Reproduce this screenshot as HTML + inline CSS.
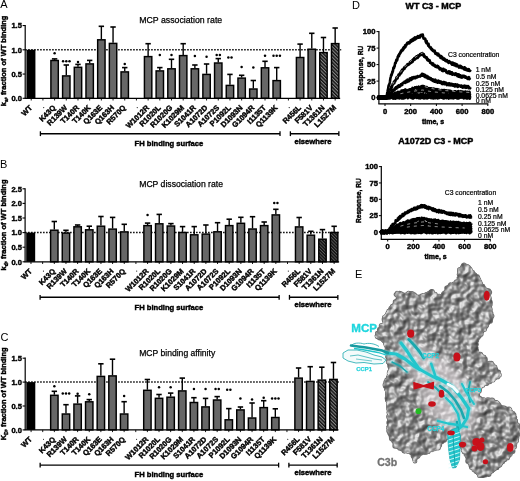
<!DOCTYPE html>
<html><head><meta charset="utf-8"><style>
html,body{margin:0;padding:0;background:#fff;overflow:hidden}
svg{display:block;will-change:transform;filter:blur(0.35px)}
text{font-family:"Liberation Sans", sans-serif}
.b{stroke:#000;stroke-width:0.42px}
</style></head><body>
<svg width="520" height="481" viewBox="0 0 520 481">
<rect width="520" height="481" fill="#fff"/>
<defs>
<pattern id="hatch" patternUnits="userSpaceOnUse" width="2.5" height="2.5" patternTransform="rotate(-45)">
<rect width="2.5" height="2.5" fill="#858585"/><rect width="1.4" height="2.5" fill="#111"/></pattern>
<pattern id="hatchB" patternUnits="userSpaceOnUse" width="2.3" height="2.3" patternTransform="rotate(-45)">
<rect width="2.3" height="2.3" fill="#5a5a5a"/><rect width="1.4" height="2.3" fill="#111"/></pattern>
</defs>
<text x="0.20" y="8.40" font-size="11" font-weight="normal" text-anchor="start" fill="#000" >A</text>
<text x="139.20" y="22.90" font-size="8.7" font-weight="normal" text-anchor="start" fill="#000" stroke="#000" stroke-width="0.25" textLength="83.0" lengthAdjust="spacingAndGlyphs">MCP association rate</text>
<text transform="translate(6.3,60.9) rotate(-90)" font-size="7.5" font-weight="bold" text-anchor="middle" class="b">k<tspan font-size="5" dy="1.5">a</tspan><tspan dy="-1.5">, fraction of WT binding</tspan></text>
<line x1="25.2" y1="49.80" x2="341.2" y2="49.80" stroke="#000" stroke-width="1.5" stroke-dasharray="1.5 1.5"/>
<rect x="26.42" y="49.80" width="9" height="48.50" fill="#000"/>
<line x1="54.60" y1="59.90" x2="54.60" y2="58.90" stroke="#000" stroke-width="1.4"/>
<line x1="51.90" y1="58.90" x2="57.30" y2="58.90" stroke="#000" stroke-width="1.6"/>
<rect x="50.90" y="60.50" width="7.40" height="37.80" fill="#676767" stroke="#000" stroke-width="1.45"/>
<circle cx="54.60" cy="53.20" r="1.25" fill="#000"/>
<line x1="66.29" y1="75.30" x2="66.29" y2="65.00" stroke="#000" stroke-width="1.4"/>
<line x1="63.59" y1="65.00" x2="68.99" y2="65.00" stroke="#000" stroke-width="1.6"/>
<rect x="62.59" y="75.90" width="7.40" height="22.40" fill="#676767" stroke="#000" stroke-width="1.45"/>
<circle cx="63.09" cy="61.30" r="1.25" fill="#000"/>
<circle cx="66.29" cy="61.30" r="1.25" fill="#000"/>
<circle cx="69.49" cy="61.30" r="1.25" fill="#000"/>
<line x1="77.98" y1="66.70" x2="77.98" y2="64.40" stroke="#000" stroke-width="1.4"/>
<line x1="75.28" y1="64.40" x2="80.68" y2="64.40" stroke="#000" stroke-width="1.6"/>
<rect x="74.28" y="67.30" width="7.40" height="31.00" fill="#676767" stroke="#000" stroke-width="1.45"/>
<circle cx="77.98" cy="61.90" r="1.25" fill="#000"/>
<line x1="89.67" y1="63.30" x2="89.67" y2="60.40" stroke="#000" stroke-width="1.4"/>
<line x1="86.97" y1="60.40" x2="92.37" y2="60.40" stroke="#000" stroke-width="1.6"/>
<rect x="85.97" y="63.90" width="7.40" height="34.40" fill="#676767" stroke="#000" stroke-width="1.45"/>
<line x1="101.36" y1="39.20" x2="101.36" y2="26.30" stroke="#000" stroke-width="1.4"/>
<line x1="98.66" y1="26.30" x2="104.06" y2="26.30" stroke="#000" stroke-width="1.6"/>
<rect x="97.66" y="39.80" width="7.40" height="58.50" fill="#676767" stroke="#000" stroke-width="1.45"/>
<line x1="113.05" y1="42.80" x2="113.05" y2="27.00" stroke="#000" stroke-width="1.4"/>
<line x1="110.35" y1="27.00" x2="115.75" y2="27.00" stroke="#000" stroke-width="1.6"/>
<rect x="109.35" y="43.40" width="7.40" height="54.90" fill="#676767" stroke="#000" stroke-width="1.45"/>
<line x1="124.74" y1="71.30" x2="124.74" y2="67.60" stroke="#000" stroke-width="1.4"/>
<line x1="122.04" y1="67.60" x2="127.44" y2="67.60" stroke="#000" stroke-width="1.6"/>
<rect x="121.04" y="71.90" width="7.40" height="26.40" fill="#676767" stroke="#000" stroke-width="1.45"/>
<circle cx="124.74" cy="64.00" r="1.25" fill="#000"/>
<line x1="148.12" y1="56.00" x2="148.12" y2="43.70" stroke="#000" stroke-width="1.4"/>
<line x1="145.42" y1="43.70" x2="150.82" y2="43.70" stroke="#000" stroke-width="1.6"/>
<rect x="144.42" y="56.60" width="7.40" height="41.70" fill="#676767" stroke="#000" stroke-width="1.45"/>
<line x1="159.81" y1="70.30" x2="159.81" y2="67.60" stroke="#000" stroke-width="1.4"/>
<line x1="157.11" y1="67.60" x2="162.51" y2="67.60" stroke="#000" stroke-width="1.6"/>
<rect x="156.11" y="70.90" width="7.40" height="27.40" fill="#676767" stroke="#000" stroke-width="1.45"/>
<circle cx="159.81" cy="55.00" r="1.25" fill="#000"/>
<line x1="171.50" y1="68.20" x2="171.50" y2="59.30" stroke="#000" stroke-width="1.4"/>
<line x1="168.80" y1="59.30" x2="174.20" y2="59.30" stroke="#000" stroke-width="1.6"/>
<rect x="167.80" y="68.80" width="7.40" height="29.50" fill="#676767" stroke="#000" stroke-width="1.45"/>
<circle cx="171.50" cy="55.00" r="1.25" fill="#000"/>
<line x1="183.19" y1="55.00" x2="183.19" y2="43.70" stroke="#000" stroke-width="1.4"/>
<line x1="180.49" y1="43.70" x2="185.89" y2="43.70" stroke="#000" stroke-width="1.6"/>
<rect x="179.49" y="55.60" width="7.40" height="42.70" fill="#676767" stroke="#000" stroke-width="1.45"/>
<line x1="194.88" y1="68.20" x2="194.88" y2="65.00" stroke="#000" stroke-width="1.4"/>
<line x1="192.18" y1="65.00" x2="197.58" y2="65.00" stroke="#000" stroke-width="1.6"/>
<rect x="191.18" y="68.80" width="7.40" height="29.50" fill="#676767" stroke="#000" stroke-width="1.45"/>
<circle cx="194.88" cy="56.00" r="1.25" fill="#000"/>
<line x1="206.57" y1="73.80" x2="206.57" y2="64.00" stroke="#000" stroke-width="1.4"/>
<line x1="203.87" y1="64.00" x2="209.27" y2="64.00" stroke="#000" stroke-width="1.6"/>
<rect x="202.87" y="74.40" width="7.40" height="23.90" fill="#676767" stroke="#000" stroke-width="1.45"/>
<circle cx="206.57" cy="56.80" r="1.25" fill="#000"/>
<line x1="218.26" y1="62.40" x2="218.26" y2="58.60" stroke="#000" stroke-width="1.4"/>
<line x1="215.56" y1="58.60" x2="220.96" y2="58.60" stroke="#000" stroke-width="1.6"/>
<rect x="214.56" y="63.00" width="7.40" height="35.30" fill="#676767" stroke="#000" stroke-width="1.45"/>
<circle cx="216.66" cy="55.00" r="1.25" fill="#000"/>
<circle cx="219.86" cy="55.00" r="1.25" fill="#000"/>
<line x1="229.95" y1="84.80" x2="229.95" y2="74.40" stroke="#000" stroke-width="1.4"/>
<line x1="227.25" y1="74.40" x2="232.65" y2="74.40" stroke="#000" stroke-width="1.6"/>
<rect x="226.25" y="85.40" width="7.40" height="12.90" fill="#676767" stroke="#000" stroke-width="1.45"/>
<circle cx="228.35" cy="57.60" r="1.25" fill="#000"/>
<circle cx="231.55" cy="57.60" r="1.25" fill="#000"/>
<line x1="241.64" y1="77.50" x2="241.64" y2="75.30" stroke="#000" stroke-width="1.4"/>
<line x1="238.94" y1="75.30" x2="244.34" y2="75.30" stroke="#000" stroke-width="1.6"/>
<rect x="237.94" y="78.10" width="7.40" height="20.20" fill="#676767" stroke="#000" stroke-width="1.45"/>
<circle cx="241.64" cy="67.00" r="1.25" fill="#000"/>
<line x1="253.33" y1="88.40" x2="253.33" y2="80.50" stroke="#000" stroke-width="1.4"/>
<line x1="250.63" y1="80.50" x2="256.03" y2="80.50" stroke="#000" stroke-width="1.6"/>
<rect x="249.63" y="89.00" width="7.40" height="9.30" fill="#676767" stroke="#000" stroke-width="1.45"/>
<circle cx="253.33" cy="67.60" r="1.25" fill="#000"/>
<line x1="265.02" y1="67.20" x2="265.02" y2="61.30" stroke="#000" stroke-width="1.4"/>
<line x1="262.32" y1="61.30" x2="267.72" y2="61.30" stroke="#000" stroke-width="1.6"/>
<rect x="261.32" y="67.80" width="7.40" height="30.50" fill="#676767" stroke="#000" stroke-width="1.45"/>
<circle cx="265.02" cy="55.70" r="1.25" fill="#000"/>
<line x1="276.71" y1="80.00" x2="276.71" y2="67.60" stroke="#000" stroke-width="1.4"/>
<line x1="274.01" y1="67.60" x2="279.41" y2="67.60" stroke="#000" stroke-width="1.6"/>
<rect x="273.01" y="80.60" width="7.40" height="17.70" fill="#676767" stroke="#000" stroke-width="1.45"/>
<circle cx="273.51" cy="55.70" r="1.25" fill="#000"/>
<circle cx="276.71" cy="55.70" r="1.25" fill="#000"/>
<circle cx="279.91" cy="55.70" r="1.25" fill="#000"/>
<line x1="300.09" y1="56.90" x2="300.09" y2="44.10" stroke="#000" stroke-width="1.4"/>
<line x1="297.39" y1="44.10" x2="302.79" y2="44.10" stroke="#000" stroke-width="1.6"/>
<rect x="296.39" y="57.50" width="7.40" height="40.80" fill="#676767" stroke="#000" stroke-width="1.45"/>
<line x1="311.78" y1="48.60" x2="311.78" y2="33.30" stroke="#000" stroke-width="1.4"/>
<line x1="309.08" y1="33.30" x2="314.48" y2="33.30" stroke="#000" stroke-width="1.6"/>
<rect x="308.08" y="49.20" width="7.40" height="49.10" fill="#676767" stroke="#000" stroke-width="1.45"/>
<line x1="323.47" y1="52.00" x2="323.47" y2="37.50" stroke="#000" stroke-width="1.4"/>
<line x1="320.77" y1="37.50" x2="326.17" y2="37.50" stroke="#000" stroke-width="1.6"/>
<rect x="319.77" y="52.60" width="7.40" height="45.70" fill="url(#hatch)" stroke="#000" stroke-width="1.45"/>
<line x1="335.16" y1="43.00" x2="335.16" y2="28.00" stroke="#000" stroke-width="1.4"/>
<line x1="332.46" y1="28.00" x2="337.86" y2="28.00" stroke="#000" stroke-width="1.6"/>
<rect x="331.46" y="43.60" width="7.40" height="54.70" fill="url(#hatch)" stroke="#000" stroke-width="1.45"/>
<line x1="25.20" y1="24.95" x2="25.20" y2="98.30" stroke="#000" stroke-width="1.2"/>
<line x1="24.60" y1="98.30" x2="340.16" y2="98.30" stroke="#000" stroke-width="1.2"/>
<line x1="22.60" y1="98.30" x2="25.20" y2="98.30" stroke="#000" stroke-width="1.1"/>
<text x="21.90" y="101.00" font-size="7.5" font-weight="bold" text-anchor="end" fill="#000" class="b">0.0</text>
<line x1="22.60" y1="74.05" x2="25.20" y2="74.05" stroke="#000" stroke-width="1.1"/>
<text x="21.90" y="76.75" font-size="7.5" font-weight="bold" text-anchor="end" fill="#000" class="b">0.5</text>
<line x1="22.60" y1="49.80" x2="25.20" y2="49.80" stroke="#000" stroke-width="1.1"/>
<text x="21.90" y="52.50" font-size="7.5" font-weight="bold" text-anchor="end" fill="#000" class="b">1.0</text>
<line x1="22.60" y1="25.55" x2="25.20" y2="25.55" stroke="#000" stroke-width="1.1"/>
<text x="21.90" y="28.25" font-size="7.5" font-weight="bold" text-anchor="end" fill="#000" class="b">1.5</text>
<line x1="31.22" y1="98.30" x2="31.22" y2="100.50" stroke="#000" stroke-width="0.9"/>
<text transform="translate(32.72,108.20) rotate(-45)" font-size="7.5" font-weight="bold" text-anchor="end" class="b">WT</text>
<line x1="42.91" y1="98.30" x2="42.91" y2="100.50" stroke="#000" stroke-width="0.9"/>
<circle cx="43.71" cy="107.60" r="0.55" fill="#000"/>
<line x1="54.60" y1="98.30" x2="54.60" y2="100.50" stroke="#000" stroke-width="0.9"/>
<text transform="translate(56.10,108.20) rotate(-45)" font-size="7.5" font-weight="bold" text-anchor="end" class="b">K43Q</text>
<line x1="66.29" y1="98.30" x2="66.29" y2="100.50" stroke="#000" stroke-width="0.9"/>
<text transform="translate(67.79,108.20) rotate(-45)" font-size="7.5" font-weight="bold" text-anchor="end" class="b">R139W</text>
<line x1="77.98" y1="98.30" x2="77.98" y2="100.50" stroke="#000" stroke-width="0.9"/>
<text transform="translate(79.48,108.20) rotate(-45)" font-size="7.5" font-weight="bold" text-anchor="end" class="b">T140R</text>
<line x1="89.67" y1="98.30" x2="89.67" y2="100.50" stroke="#000" stroke-width="0.9"/>
<text transform="translate(91.17,108.20) rotate(-45)" font-size="7.5" font-weight="bold" text-anchor="end" class="b">T140K</text>
<line x1="101.36" y1="98.30" x2="101.36" y2="100.50" stroke="#000" stroke-width="0.9"/>
<text transform="translate(102.86,108.20) rotate(-45)" font-size="7.5" font-weight="bold" text-anchor="end" class="b">Q163E</text>
<line x1="113.05" y1="98.30" x2="113.05" y2="100.50" stroke="#000" stroke-width="0.9"/>
<text transform="translate(114.55,108.20) rotate(-45)" font-size="7.5" font-weight="bold" text-anchor="end" class="b">Q163H</text>
<line x1="124.74" y1="98.30" x2="124.74" y2="100.50" stroke="#000" stroke-width="0.9"/>
<text transform="translate(126.24,108.20) rotate(-45)" font-size="7.5" font-weight="bold" text-anchor="end" class="b">R570Q</text>
<line x1="136.43" y1="98.30" x2="136.43" y2="100.50" stroke="#000" stroke-width="0.9"/>
<circle cx="137.23" cy="107.60" r="0.55" fill="#000"/>
<line x1="148.12" y1="98.30" x2="148.12" y2="100.50" stroke="#000" stroke-width="0.9"/>
<text transform="translate(149.62,108.20) rotate(-45)" font-size="7.5" font-weight="bold" text-anchor="end" class="b">W1012R</text>
<line x1="159.81" y1="98.30" x2="159.81" y2="100.50" stroke="#000" stroke-width="0.9"/>
<text transform="translate(161.31,108.20) rotate(-45)" font-size="7.5" font-weight="bold" text-anchor="end" class="b">R1020L</text>
<line x1="171.50" y1="98.30" x2="171.50" y2="100.50" stroke="#000" stroke-width="0.9"/>
<text transform="translate(173.00,108.20) rotate(-45)" font-size="7.5" font-weight="bold" text-anchor="end" class="b">R1020G</text>
<line x1="183.19" y1="98.30" x2="183.19" y2="100.50" stroke="#000" stroke-width="0.9"/>
<text transform="translate(184.69,108.20) rotate(-45)" font-size="7.5" font-weight="bold" text-anchor="end" class="b">K1029M</text>
<line x1="194.88" y1="98.30" x2="194.88" y2="100.50" stroke="#000" stroke-width="0.9"/>
<text transform="translate(196.38,108.20) rotate(-45)" font-size="7.5" font-weight="bold" text-anchor="end" class="b">S1041R</text>
<line x1="206.57" y1="98.30" x2="206.57" y2="100.50" stroke="#000" stroke-width="0.9"/>
<text transform="translate(208.07,108.20) rotate(-45)" font-size="7.5" font-weight="bold" text-anchor="end" class="b">A1072D</text>
<line x1="218.26" y1="98.30" x2="218.26" y2="100.50" stroke="#000" stroke-width="0.9"/>
<text transform="translate(219.76,108.20) rotate(-45)" font-size="7.5" font-weight="bold" text-anchor="end" class="b">A1072S</text>
<line x1="229.95" y1="98.30" x2="229.95" y2="100.50" stroke="#000" stroke-width="0.9"/>
<text transform="translate(231.45,108.20) rotate(-45)" font-size="7.5" font-weight="bold" text-anchor="end" class="b">P1092L</text>
<line x1="241.64" y1="98.30" x2="241.64" y2="100.50" stroke="#000" stroke-width="0.9"/>
<text transform="translate(243.14,108.20) rotate(-45)" font-size="7.5" font-weight="bold" text-anchor="end" class="b">D1093N</text>
<line x1="253.33" y1="98.30" x2="253.33" y2="100.50" stroke="#000" stroke-width="0.9"/>
<text transform="translate(254.83,108.20) rotate(-45)" font-size="7.5" font-weight="bold" text-anchor="end" class="b">G1094R</text>
<line x1="265.02" y1="98.30" x2="265.02" y2="100.50" stroke="#000" stroke-width="0.9"/>
<text transform="translate(266.52,108.20) rotate(-45)" font-size="7.5" font-weight="bold" text-anchor="end" class="b">I1135T</text>
<line x1="276.71" y1="98.30" x2="276.71" y2="100.50" stroke="#000" stroke-width="0.9"/>
<text transform="translate(278.21,108.20) rotate(-45)" font-size="7.5" font-weight="bold" text-anchor="end" class="b">Q1139K</text>
<line x1="288.40" y1="98.30" x2="288.40" y2="100.50" stroke="#000" stroke-width="0.9"/>
<circle cx="289.20" cy="107.60" r="0.55" fill="#000"/>
<line x1="300.09" y1="98.30" x2="300.09" y2="100.50" stroke="#000" stroke-width="0.9"/>
<text transform="translate(301.59,108.20) rotate(-45)" font-size="7.5" font-weight="bold" text-anchor="end" class="b">R456L</text>
<line x1="311.78" y1="98.30" x2="311.78" y2="100.50" stroke="#000" stroke-width="0.9"/>
<text transform="translate(313.28,108.20) rotate(-45)" font-size="7.5" font-weight="bold" text-anchor="end" class="b">F581V</text>
<line x1="323.47" y1="98.30" x2="323.47" y2="100.50" stroke="#000" stroke-width="0.9"/>
<text transform="translate(324.97,108.20) rotate(-45)" font-size="7.5" font-weight="bold" text-anchor="end" class="b">T1361N</text>
<line x1="335.16" y1="98.30" x2="335.16" y2="100.50" stroke="#000" stroke-width="0.9"/>
<text transform="translate(336.66,108.20) rotate(-45)" font-size="7.5" font-weight="bold" text-anchor="end" class="b">L1527M</text>
<line x1="40.40" y1="133.70" x2="280.01" y2="133.70" stroke="#000" stroke-width="1.4"/>
<line x1="40.40" y1="131.30" x2="40.40" y2="136.10" stroke="#000" stroke-width="1.3"/>
<line x1="280.01" y1="131.30" x2="280.01" y2="136.10" stroke="#000" stroke-width="1.3"/>
<line x1="290.39" y1="133.70" x2="338.86" y2="133.70" stroke="#000" stroke-width="1.4"/>
<line x1="290.39" y1="131.30" x2="290.39" y2="136.10" stroke="#000" stroke-width="1.3"/>
<line x1="338.86" y1="131.30" x2="338.86" y2="136.10" stroke="#000" stroke-width="1.3"/>
<text x="134.50" y="146.30" font-size="7.6" font-weight="bold" text-anchor="start" fill="#000" class="b" textLength="68.8" lengthAdjust="spacingAndGlyphs">FH binding surface</text>
<text x="294.40" y="143.80" font-size="7.6" font-weight="bold" text-anchor="start" fill="#000" class="b" textLength="37" lengthAdjust="spacingAndGlyphs">elsewhere</text>
<text x="0.10" y="167.70" font-size="11" font-weight="normal" text-anchor="start" fill="#000" >B</text>
<text x="139.20" y="186.60" font-size="8.7" font-weight="normal" text-anchor="start" fill="#000" stroke="#000" stroke-width="0.25" textLength="83.8" lengthAdjust="spacingAndGlyphs">MCP dissociation rate</text>
<text transform="translate(6.3,225.0) rotate(-90)" font-size="7.5" font-weight="bold" text-anchor="middle" class="b">k<tspan font-size="5" dy="1.5">d</tspan><tspan dy="-1.5">, fraction of WT binding</tspan></text>
<line x1="25.1" y1="232.60" x2="340.1" y2="232.60" stroke="#000" stroke-width="1.5" stroke-dasharray="1.5 1.5"/>
<rect x="26.18" y="232.60" width="9" height="29.20" fill="#000"/>
<line x1="54.30" y1="229.60" x2="54.30" y2="221.50" stroke="#000" stroke-width="1.4"/>
<line x1="51.60" y1="221.50" x2="57.00" y2="221.50" stroke="#000" stroke-width="1.6"/>
<rect x="50.60" y="230.20" width="7.40" height="31.60" fill="#676767" stroke="#000" stroke-width="1.45"/>
<line x1="65.96" y1="232.50" x2="65.96" y2="230.30" stroke="#000" stroke-width="1.4"/>
<line x1="63.26" y1="230.30" x2="68.66" y2="230.30" stroke="#000" stroke-width="1.6"/>
<rect x="62.26" y="233.10" width="7.40" height="28.70" fill="#676767" stroke="#000" stroke-width="1.45"/>
<line x1="77.62" y1="226.20" x2="77.62" y2="225.00" stroke="#000" stroke-width="1.4"/>
<line x1="74.92" y1="225.00" x2="80.32" y2="225.00" stroke="#000" stroke-width="1.6"/>
<rect x="73.92" y="226.80" width="7.40" height="35.00" fill="#676767" stroke="#000" stroke-width="1.45"/>
<line x1="89.28" y1="229.20" x2="89.28" y2="226.20" stroke="#000" stroke-width="1.4"/>
<line x1="86.58" y1="226.20" x2="91.98" y2="226.20" stroke="#000" stroke-width="1.6"/>
<rect x="85.58" y="229.80" width="7.40" height="32.00" fill="#676767" stroke="#000" stroke-width="1.45"/>
<line x1="100.94" y1="225.60" x2="100.94" y2="216.50" stroke="#000" stroke-width="1.4"/>
<line x1="98.24" y1="216.50" x2="103.64" y2="216.50" stroke="#000" stroke-width="1.6"/>
<rect x="97.24" y="226.20" width="7.40" height="35.60" fill="#676767" stroke="#000" stroke-width="1.45"/>
<line x1="112.60" y1="228.50" x2="112.60" y2="217.40" stroke="#000" stroke-width="1.4"/>
<line x1="109.90" y1="217.40" x2="115.30" y2="217.40" stroke="#000" stroke-width="1.6"/>
<rect x="108.90" y="229.10" width="7.40" height="32.70" fill="#676767" stroke="#000" stroke-width="1.45"/>
<line x1="124.26" y1="231.30" x2="124.26" y2="224.30" stroke="#000" stroke-width="1.4"/>
<line x1="121.56" y1="224.30" x2="126.96" y2="224.30" stroke="#000" stroke-width="1.6"/>
<rect x="120.56" y="231.90" width="7.40" height="29.90" fill="#676767" stroke="#000" stroke-width="1.45"/>
<line x1="147.58" y1="225.00" x2="147.58" y2="223.10" stroke="#000" stroke-width="1.4"/>
<line x1="144.88" y1="223.10" x2="150.28" y2="223.10" stroke="#000" stroke-width="1.6"/>
<rect x="143.88" y="225.60" width="7.40" height="36.20" fill="#676767" stroke="#000" stroke-width="1.45"/>
<circle cx="147.58" cy="215.00" r="1.25" fill="#000"/>
<line x1="159.24" y1="223.20" x2="159.24" y2="214.40" stroke="#000" stroke-width="1.4"/>
<line x1="156.54" y1="214.40" x2="161.94" y2="214.40" stroke="#000" stroke-width="1.6"/>
<rect x="155.54" y="223.80" width="7.40" height="38.00" fill="#676767" stroke="#000" stroke-width="1.45"/>
<line x1="170.90" y1="225.40" x2="170.90" y2="223.60" stroke="#000" stroke-width="1.4"/>
<line x1="168.20" y1="223.60" x2="173.60" y2="223.60" stroke="#000" stroke-width="1.6"/>
<rect x="167.20" y="226.00" width="7.40" height="35.80" fill="#676767" stroke="#000" stroke-width="1.45"/>
<line x1="182.56" y1="231.90" x2="182.56" y2="226.60" stroke="#000" stroke-width="1.4"/>
<line x1="179.86" y1="226.60" x2="185.26" y2="226.60" stroke="#000" stroke-width="1.6"/>
<rect x="178.86" y="232.50" width="7.40" height="29.30" fill="#676767" stroke="#000" stroke-width="1.45"/>
<line x1="194.22" y1="234.20" x2="194.22" y2="226.60" stroke="#000" stroke-width="1.4"/>
<line x1="191.52" y1="226.60" x2="196.92" y2="226.60" stroke="#000" stroke-width="1.6"/>
<rect x="190.52" y="234.80" width="7.40" height="27.00" fill="#676767" stroke="#000" stroke-width="1.45"/>
<line x1="205.88" y1="233.50" x2="205.88" y2="225.00" stroke="#000" stroke-width="1.4"/>
<line x1="203.18" y1="225.00" x2="208.58" y2="225.00" stroke="#000" stroke-width="1.6"/>
<rect x="202.18" y="234.10" width="7.40" height="27.70" fill="#676767" stroke="#000" stroke-width="1.45"/>
<line x1="217.54" y1="231.20" x2="217.54" y2="222.70" stroke="#000" stroke-width="1.4"/>
<line x1="214.84" y1="222.70" x2="220.24" y2="222.70" stroke="#000" stroke-width="1.6"/>
<rect x="213.84" y="231.80" width="7.40" height="30.00" fill="#676767" stroke="#000" stroke-width="1.45"/>
<line x1="229.20" y1="225.00" x2="229.20" y2="219.20" stroke="#000" stroke-width="1.4"/>
<line x1="226.50" y1="219.20" x2="231.90" y2="219.20" stroke="#000" stroke-width="1.6"/>
<rect x="225.50" y="225.60" width="7.40" height="36.20" fill="#676767" stroke="#000" stroke-width="1.45"/>
<line x1="240.86" y1="222.70" x2="240.86" y2="217.30" stroke="#000" stroke-width="1.4"/>
<line x1="238.16" y1="217.30" x2="243.56" y2="217.30" stroke="#000" stroke-width="1.6"/>
<rect x="237.16" y="223.30" width="7.40" height="38.50" fill="#676767" stroke="#000" stroke-width="1.45"/>
<line x1="252.52" y1="228.40" x2="252.52" y2="216.70" stroke="#000" stroke-width="1.4"/>
<line x1="249.82" y1="216.70" x2="255.22" y2="216.70" stroke="#000" stroke-width="1.6"/>
<rect x="248.82" y="229.00" width="7.40" height="32.80" fill="#676767" stroke="#000" stroke-width="1.45"/>
<line x1="264.18" y1="225.00" x2="264.18" y2="222.00" stroke="#000" stroke-width="1.4"/>
<line x1="261.48" y1="222.00" x2="266.88" y2="222.00" stroke="#000" stroke-width="1.6"/>
<rect x="260.48" y="225.60" width="7.40" height="36.20" fill="#676767" stroke="#000" stroke-width="1.45"/>
<line x1="275.84" y1="214.30" x2="275.84" y2="209.30" stroke="#000" stroke-width="1.4"/>
<line x1="273.14" y1="209.30" x2="278.54" y2="209.30" stroke="#000" stroke-width="1.6"/>
<rect x="272.14" y="214.90" width="7.40" height="46.90" fill="#676767" stroke="#000" stroke-width="1.45"/>
<circle cx="274.24" cy="203.00" r="1.25" fill="#000"/>
<circle cx="277.44" cy="203.00" r="1.25" fill="#000"/>
<line x1="299.16" y1="226.30" x2="299.16" y2="217.50" stroke="#000" stroke-width="1.4"/>
<line x1="296.46" y1="217.50" x2="301.86" y2="217.50" stroke="#000" stroke-width="1.6"/>
<rect x="295.46" y="226.90" width="7.40" height="34.90" fill="#676767" stroke="#000" stroke-width="1.45"/>
<line x1="310.82" y1="234.60" x2="310.82" y2="231.30" stroke="#000" stroke-width="1.4"/>
<line x1="308.12" y1="231.30" x2="313.52" y2="231.30" stroke="#000" stroke-width="1.6"/>
<rect x="307.12" y="235.20" width="7.40" height="26.60" fill="#676767" stroke="#000" stroke-width="1.45"/>
<line x1="322.48" y1="238.60" x2="322.48" y2="229.60" stroke="#000" stroke-width="1.4"/>
<line x1="319.78" y1="229.60" x2="325.18" y2="229.60" stroke="#000" stroke-width="1.6"/>
<rect x="318.78" y="239.20" width="7.40" height="22.60" fill="url(#hatchB)" stroke="#000" stroke-width="1.45"/>
<line x1="334.14" y1="231.90" x2="334.14" y2="226.30" stroke="#000" stroke-width="1.4"/>
<line x1="331.44" y1="226.30" x2="336.84" y2="226.30" stroke="#000" stroke-width="1.6"/>
<rect x="330.44" y="232.50" width="7.40" height="29.30" fill="url(#hatchB)" stroke="#000" stroke-width="1.45"/>
<line x1="25.10" y1="188.20" x2="25.10" y2="261.80" stroke="#000" stroke-width="1.2"/>
<line x1="24.50" y1="261.80" x2="339.14" y2="261.80" stroke="#000" stroke-width="1.2"/>
<line x1="22.50" y1="261.80" x2="25.10" y2="261.80" stroke="#000" stroke-width="1.1"/>
<text x="21.90" y="264.50" font-size="7.5" font-weight="bold" text-anchor="end" fill="#000" class="b">0.0</text>
<line x1="22.50" y1="247.20" x2="25.10" y2="247.20" stroke="#000" stroke-width="1.1"/>
<text x="21.90" y="249.90" font-size="7.5" font-weight="bold" text-anchor="end" fill="#000" class="b">0.5</text>
<line x1="22.50" y1="232.60" x2="25.10" y2="232.60" stroke="#000" stroke-width="1.1"/>
<text x="21.90" y="235.30" font-size="7.5" font-weight="bold" text-anchor="end" fill="#000" class="b">1.0</text>
<line x1="22.50" y1="218.00" x2="25.10" y2="218.00" stroke="#000" stroke-width="1.1"/>
<text x="21.90" y="220.70" font-size="7.5" font-weight="bold" text-anchor="end" fill="#000" class="b">1.5</text>
<line x1="22.50" y1="203.40" x2="25.10" y2="203.40" stroke="#000" stroke-width="1.1"/>
<text x="21.90" y="206.10" font-size="7.5" font-weight="bold" text-anchor="end" fill="#000" class="b">2.0</text>
<line x1="22.50" y1="188.80" x2="25.10" y2="188.80" stroke="#000" stroke-width="1.1"/>
<text x="21.90" y="191.50" font-size="7.5" font-weight="bold" text-anchor="end" fill="#000" class="b">2.5</text>
<line x1="30.98" y1="261.80" x2="30.98" y2="264.00" stroke="#000" stroke-width="0.9"/>
<text transform="translate(32.48,271.70) rotate(-45)" font-size="7.5" font-weight="bold" text-anchor="end" class="b">WT</text>
<line x1="42.64" y1="261.80" x2="42.64" y2="264.00" stroke="#000" stroke-width="0.9"/>
<circle cx="43.44" cy="271.10" r="0.55" fill="#000"/>
<line x1="54.30" y1="261.80" x2="54.30" y2="264.00" stroke="#000" stroke-width="0.9"/>
<text transform="translate(55.80,271.70) rotate(-45)" font-size="7.5" font-weight="bold" text-anchor="end" class="b">K43Q</text>
<line x1="65.96" y1="261.80" x2="65.96" y2="264.00" stroke="#000" stroke-width="0.9"/>
<text transform="translate(67.46,271.70) rotate(-45)" font-size="7.5" font-weight="bold" text-anchor="end" class="b">R139W</text>
<line x1="77.62" y1="261.80" x2="77.62" y2="264.00" stroke="#000" stroke-width="0.9"/>
<text transform="translate(79.12,271.70) rotate(-45)" font-size="7.5" font-weight="bold" text-anchor="end" class="b">T140R</text>
<line x1="89.28" y1="261.80" x2="89.28" y2="264.00" stroke="#000" stroke-width="0.9"/>
<text transform="translate(90.78,271.70) rotate(-45)" font-size="7.5" font-weight="bold" text-anchor="end" class="b">T140K</text>
<line x1="100.94" y1="261.80" x2="100.94" y2="264.00" stroke="#000" stroke-width="0.9"/>
<text transform="translate(102.44,271.70) rotate(-45)" font-size="7.5" font-weight="bold" text-anchor="end" class="b">Q163E</text>
<line x1="112.60" y1="261.80" x2="112.60" y2="264.00" stroke="#000" stroke-width="0.9"/>
<text transform="translate(114.10,271.70) rotate(-45)" font-size="7.5" font-weight="bold" text-anchor="end" class="b">Q163H</text>
<line x1="124.26" y1="261.80" x2="124.26" y2="264.00" stroke="#000" stroke-width="0.9"/>
<text transform="translate(125.76,271.70) rotate(-45)" font-size="7.5" font-weight="bold" text-anchor="end" class="b">R570Q</text>
<line x1="135.92" y1="261.80" x2="135.92" y2="264.00" stroke="#000" stroke-width="0.9"/>
<circle cx="136.72" cy="271.10" r="0.55" fill="#000"/>
<line x1="147.58" y1="261.80" x2="147.58" y2="264.00" stroke="#000" stroke-width="0.9"/>
<text transform="translate(149.08,271.70) rotate(-45)" font-size="7.5" font-weight="bold" text-anchor="end" class="b">W1012R</text>
<line x1="159.24" y1="261.80" x2="159.24" y2="264.00" stroke="#000" stroke-width="0.9"/>
<text transform="translate(160.74,271.70) rotate(-45)" font-size="7.5" font-weight="bold" text-anchor="end" class="b">R1020L</text>
<line x1="170.90" y1="261.80" x2="170.90" y2="264.00" stroke="#000" stroke-width="0.9"/>
<text transform="translate(172.40,271.70) rotate(-45)" font-size="7.5" font-weight="bold" text-anchor="end" class="b">R1020G</text>
<line x1="182.56" y1="261.80" x2="182.56" y2="264.00" stroke="#000" stroke-width="0.9"/>
<text transform="translate(184.06,271.70) rotate(-45)" font-size="7.5" font-weight="bold" text-anchor="end" class="b">K1029M</text>
<line x1="194.22" y1="261.80" x2="194.22" y2="264.00" stroke="#000" stroke-width="0.9"/>
<text transform="translate(195.72,271.70) rotate(-45)" font-size="7.5" font-weight="bold" text-anchor="end" class="b">S1041R</text>
<line x1="205.88" y1="261.80" x2="205.88" y2="264.00" stroke="#000" stroke-width="0.9"/>
<text transform="translate(207.38,271.70) rotate(-45)" font-size="7.5" font-weight="bold" text-anchor="end" class="b">A1072D</text>
<line x1="217.54" y1="261.80" x2="217.54" y2="264.00" stroke="#000" stroke-width="0.9"/>
<text transform="translate(219.04,271.70) rotate(-45)" font-size="7.5" font-weight="bold" text-anchor="end" class="b">A1072S</text>
<line x1="229.20" y1="261.80" x2="229.20" y2="264.00" stroke="#000" stroke-width="0.9"/>
<text transform="translate(230.70,271.70) rotate(-45)" font-size="7.5" font-weight="bold" text-anchor="end" class="b">P1092L</text>
<line x1="240.86" y1="261.80" x2="240.86" y2="264.00" stroke="#000" stroke-width="0.9"/>
<text transform="translate(242.36,271.70) rotate(-45)" font-size="7.5" font-weight="bold" text-anchor="end" class="b">D1093N</text>
<line x1="252.52" y1="261.80" x2="252.52" y2="264.00" stroke="#000" stroke-width="0.9"/>
<text transform="translate(254.02,271.70) rotate(-45)" font-size="7.5" font-weight="bold" text-anchor="end" class="b">G1094R</text>
<line x1="264.18" y1="261.80" x2="264.18" y2="264.00" stroke="#000" stroke-width="0.9"/>
<text transform="translate(265.68,271.70) rotate(-45)" font-size="7.5" font-weight="bold" text-anchor="end" class="b">I1135T</text>
<line x1="275.84" y1="261.80" x2="275.84" y2="264.00" stroke="#000" stroke-width="0.9"/>
<text transform="translate(277.34,271.70) rotate(-45)" font-size="7.5" font-weight="bold" text-anchor="end" class="b">Q1139K</text>
<line x1="287.50" y1="261.80" x2="287.50" y2="264.00" stroke="#000" stroke-width="0.9"/>
<circle cx="288.30" cy="271.10" r="0.55" fill="#000"/>
<line x1="299.16" y1="261.80" x2="299.16" y2="264.00" stroke="#000" stroke-width="0.9"/>
<text transform="translate(300.66,271.70) rotate(-45)" font-size="7.5" font-weight="bold" text-anchor="end" class="b">R456L</text>
<line x1="310.82" y1="261.80" x2="310.82" y2="264.00" stroke="#000" stroke-width="0.9"/>
<text transform="translate(312.32,271.70) rotate(-45)" font-size="7.5" font-weight="bold" text-anchor="end" class="b">F581V</text>
<line x1="322.48" y1="261.80" x2="322.48" y2="264.00" stroke="#000" stroke-width="0.9"/>
<text transform="translate(323.98,271.70) rotate(-45)" font-size="7.5" font-weight="bold" text-anchor="end" class="b">T1361N</text>
<line x1="334.14" y1="261.80" x2="334.14" y2="264.00" stroke="#000" stroke-width="0.9"/>
<text transform="translate(335.64,271.70) rotate(-45)" font-size="7.5" font-weight="bold" text-anchor="end" class="b">L1527M</text>
<line x1="40.10" y1="297.30" x2="279.14" y2="297.30" stroke="#000" stroke-width="1.4"/>
<line x1="40.10" y1="294.90" x2="40.10" y2="299.70" stroke="#000" stroke-width="1.3"/>
<line x1="279.14" y1="294.90" x2="279.14" y2="299.70" stroke="#000" stroke-width="1.3"/>
<line x1="289.46" y1="297.30" x2="337.84" y2="297.30" stroke="#000" stroke-width="1.4"/>
<line x1="289.46" y1="294.90" x2="289.46" y2="299.70" stroke="#000" stroke-width="1.3"/>
<line x1="337.84" y1="294.90" x2="337.84" y2="299.70" stroke="#000" stroke-width="1.3"/>
<text x="134.50" y="309.80" font-size="7.6" font-weight="bold" text-anchor="start" fill="#000" class="b" textLength="68.8" lengthAdjust="spacingAndGlyphs">FH binding surface</text>
<text x="294.40" y="306.90" font-size="7.6" font-weight="bold" text-anchor="start" fill="#000" class="b" textLength="37" lengthAdjust="spacingAndGlyphs">elsewhere</text>
<text x="0.50" y="340.60" font-size="11" font-weight="normal" text-anchor="start" fill="#000" >C</text>
<text x="139.20" y="356.00" font-size="8.7" font-weight="normal" text-anchor="start" fill="#000" stroke="#000" stroke-width="0.25" textLength="76.0" lengthAdjust="spacingAndGlyphs">MCP binding affinity</text>
<text transform="translate(6.3,393.8) rotate(-90)" font-size="7.5" font-weight="bold" text-anchor="middle" class="b">K<tspan font-size="5" dy="1.5">D</tspan><tspan dy="-1.5">, fraction of WT binding</tspan></text>
<line x1="25.2" y1="382.10" x2="339.5" y2="382.10" stroke="#000" stroke-width="1.5" stroke-dasharray="1.5 1.5"/>
<rect x="26.29" y="382.10" width="9" height="47.80" fill="#000"/>
<line x1="54.35" y1="394.70" x2="54.35" y2="391.30" stroke="#000" stroke-width="1.4"/>
<line x1="51.65" y1="391.30" x2="57.05" y2="391.30" stroke="#000" stroke-width="1.6"/>
<rect x="50.65" y="395.30" width="7.40" height="34.60" fill="#676767" stroke="#000" stroke-width="1.45"/>
<circle cx="54.35" cy="386.20" r="1.25" fill="#000"/>
<line x1="65.98" y1="413.40" x2="65.98" y2="404.70" stroke="#000" stroke-width="1.4"/>
<line x1="63.28" y1="404.70" x2="68.68" y2="404.70" stroke="#000" stroke-width="1.6"/>
<rect x="62.28" y="414.00" width="7.40" height="15.90" fill="#676767" stroke="#000" stroke-width="1.45"/>
<circle cx="62.78" cy="393.60" r="1.25" fill="#000"/>
<circle cx="65.98" cy="393.60" r="1.25" fill="#000"/>
<circle cx="69.18" cy="393.60" r="1.25" fill="#000"/>
<line x1="77.61" y1="403.50" x2="77.61" y2="395.90" stroke="#000" stroke-width="1.4"/>
<line x1="74.91" y1="395.90" x2="80.31" y2="395.90" stroke="#000" stroke-width="1.6"/>
<rect x="73.91" y="404.10" width="7.40" height="25.80" fill="#676767" stroke="#000" stroke-width="1.45"/>
<circle cx="77.61" cy="393.80" r="1.25" fill="#000"/>
<line x1="89.24" y1="401.20" x2="89.24" y2="399.60" stroke="#000" stroke-width="1.4"/>
<line x1="86.54" y1="399.60" x2="91.94" y2="399.60" stroke="#000" stroke-width="1.6"/>
<rect x="85.54" y="401.80" width="7.40" height="28.10" fill="#676767" stroke="#000" stroke-width="1.45"/>
<circle cx="89.24" cy="394.30" r="1.25" fill="#000"/>
<line x1="100.87" y1="375.80" x2="100.87" y2="363.80" stroke="#000" stroke-width="1.4"/>
<line x1="98.17" y1="363.80" x2="103.57" y2="363.80" stroke="#000" stroke-width="1.6"/>
<rect x="97.17" y="376.40" width="7.40" height="53.50" fill="#676767" stroke="#000" stroke-width="1.45"/>
<line x1="112.50" y1="375.30" x2="112.50" y2="359.20" stroke="#000" stroke-width="1.4"/>
<line x1="109.80" y1="359.20" x2="115.20" y2="359.20" stroke="#000" stroke-width="1.6"/>
<rect x="108.80" y="375.90" width="7.40" height="54.00" fill="#676767" stroke="#000" stroke-width="1.45"/>
<line x1="124.13" y1="413.40" x2="124.13" y2="401.70" stroke="#000" stroke-width="1.4"/>
<line x1="121.43" y1="401.70" x2="126.83" y2="401.70" stroke="#000" stroke-width="1.6"/>
<rect x="120.43" y="414.00" width="7.40" height="15.90" fill="#676767" stroke="#000" stroke-width="1.45"/>
<circle cx="124.13" cy="395.90" r="1.25" fill="#000"/>
<line x1="147.39" y1="389.70" x2="147.39" y2="379.50" stroke="#000" stroke-width="1.4"/>
<line x1="144.69" y1="379.50" x2="150.09" y2="379.50" stroke="#000" stroke-width="1.6"/>
<rect x="143.69" y="390.30" width="7.40" height="39.60" fill="#676767" stroke="#000" stroke-width="1.45"/>
<line x1="159.02" y1="397.70" x2="159.02" y2="394.50" stroke="#000" stroke-width="1.4"/>
<line x1="156.32" y1="394.50" x2="161.72" y2="394.50" stroke="#000" stroke-width="1.6"/>
<rect x="155.32" y="398.30" width="7.40" height="31.60" fill="#676767" stroke="#000" stroke-width="1.45"/>
<circle cx="159.02" cy="387.30" r="1.25" fill="#000"/>
<line x1="170.65" y1="396.60" x2="170.65" y2="393.10" stroke="#000" stroke-width="1.4"/>
<line x1="167.95" y1="393.10" x2="173.35" y2="393.10" stroke="#000" stroke-width="1.6"/>
<rect x="166.95" y="397.20" width="7.40" height="32.70" fill="#676767" stroke="#000" stroke-width="1.45"/>
<circle cx="170.65" cy="387.30" r="1.25" fill="#000"/>
<line x1="182.28" y1="390.30" x2="182.28" y2="378.10" stroke="#000" stroke-width="1.4"/>
<line x1="179.58" y1="378.10" x2="184.98" y2="378.10" stroke="#000" stroke-width="1.6"/>
<rect x="178.58" y="390.90" width="7.40" height="39.00" fill="#676767" stroke="#000" stroke-width="1.45"/>
<line x1="193.91" y1="401.90" x2="193.91" y2="397.70" stroke="#000" stroke-width="1.4"/>
<line x1="191.21" y1="397.70" x2="196.61" y2="397.70" stroke="#000" stroke-width="1.6"/>
<rect x="190.21" y="402.50" width="7.40" height="27.40" fill="#676767" stroke="#000" stroke-width="1.45"/>
<circle cx="193.91" cy="389.00" r="1.25" fill="#000"/>
<line x1="205.54" y1="406.30" x2="205.54" y2="398.40" stroke="#000" stroke-width="1.4"/>
<line x1="202.84" y1="398.40" x2="208.24" y2="398.40" stroke="#000" stroke-width="1.6"/>
<rect x="201.84" y="406.90" width="7.40" height="23.00" fill="#676767" stroke="#000" stroke-width="1.45"/>
<circle cx="205.54" cy="389.00" r="1.25" fill="#000"/>
<line x1="217.17" y1="399.40" x2="217.17" y2="396.60" stroke="#000" stroke-width="1.4"/>
<line x1="214.47" y1="396.60" x2="219.87" y2="396.60" stroke="#000" stroke-width="1.6"/>
<rect x="213.47" y="400.00" width="7.40" height="29.90" fill="#676767" stroke="#000" stroke-width="1.45"/>
<circle cx="215.57" cy="389.00" r="1.25" fill="#000"/>
<circle cx="218.77" cy="389.00" r="1.25" fill="#000"/>
<line x1="228.80" y1="419.20" x2="228.80" y2="408.60" stroke="#000" stroke-width="1.4"/>
<line x1="226.10" y1="408.60" x2="231.50" y2="408.60" stroke="#000" stroke-width="1.6"/>
<rect x="225.10" y="419.80" width="7.40" height="10.10" fill="#676767" stroke="#000" stroke-width="1.45"/>
<circle cx="227.20" cy="389.70" r="1.25" fill="#000"/>
<circle cx="230.40" cy="389.70" r="1.25" fill="#000"/>
<line x1="240.43" y1="409.30" x2="240.43" y2="407.00" stroke="#000" stroke-width="1.4"/>
<line x1="237.73" y1="407.00" x2="243.13" y2="407.00" stroke="#000" stroke-width="1.6"/>
<rect x="236.73" y="409.90" width="7.40" height="20.00" fill="#676767" stroke="#000" stroke-width="1.45"/>
<circle cx="240.43" cy="398.40" r="1.25" fill="#000"/>
<line x1="252.06" y1="417.40" x2="252.06" y2="403.00" stroke="#000" stroke-width="1.4"/>
<line x1="249.36" y1="403.00" x2="254.76" y2="403.00" stroke="#000" stroke-width="1.6"/>
<rect x="248.36" y="418.00" width="7.40" height="11.90" fill="#676767" stroke="#000" stroke-width="1.45"/>
<circle cx="252.06" cy="399.60" r="1.25" fill="#000"/>
<line x1="263.69" y1="407.00" x2="263.69" y2="400.70" stroke="#000" stroke-width="1.4"/>
<line x1="260.99" y1="400.70" x2="266.39" y2="400.70" stroke="#000" stroke-width="1.6"/>
<rect x="259.99" y="407.60" width="7.40" height="22.30" fill="#676767" stroke="#000" stroke-width="1.45"/>
<circle cx="263.69" cy="397.70" r="1.25" fill="#000"/>
<line x1="275.32" y1="416.90" x2="275.32" y2="408.80" stroke="#000" stroke-width="1.4"/>
<line x1="272.62" y1="408.80" x2="278.02" y2="408.80" stroke="#000" stroke-width="1.6"/>
<rect x="271.62" y="417.50" width="7.40" height="12.40" fill="#676767" stroke="#000" stroke-width="1.45"/>
<circle cx="272.12" cy="398.40" r="1.25" fill="#000"/>
<circle cx="275.32" cy="398.40" r="1.25" fill="#000"/>
<circle cx="278.52" cy="398.40" r="1.25" fill="#000"/>
<line x1="298.58" y1="377.50" x2="298.58" y2="368.00" stroke="#000" stroke-width="1.4"/>
<line x1="295.88" y1="368.00" x2="301.28" y2="368.00" stroke="#000" stroke-width="1.6"/>
<rect x="294.88" y="378.10" width="7.40" height="51.80" fill="#676767" stroke="#000" stroke-width="1.45"/>
<line x1="310.21" y1="380.80" x2="310.21" y2="366.70" stroke="#000" stroke-width="1.4"/>
<line x1="307.51" y1="366.70" x2="312.91" y2="366.70" stroke="#000" stroke-width="1.6"/>
<rect x="306.51" y="381.40" width="7.40" height="48.50" fill="#676767" stroke="#000" stroke-width="1.45"/>
<line x1="321.84" y1="379.50" x2="321.84" y2="367.20" stroke="#000" stroke-width="1.4"/>
<line x1="319.14" y1="367.20" x2="324.54" y2="367.20" stroke="#000" stroke-width="1.6"/>
<rect x="318.14" y="380.10" width="7.40" height="49.80" fill="url(#hatch)" stroke="#000" stroke-width="1.45"/>
<line x1="333.47" y1="378.80" x2="333.47" y2="362.50" stroke="#000" stroke-width="1.4"/>
<line x1="330.77" y1="362.50" x2="336.17" y2="362.50" stroke="#000" stroke-width="1.6"/>
<rect x="329.77" y="379.40" width="7.40" height="50.50" fill="url(#hatch)" stroke="#000" stroke-width="1.45"/>
<line x1="25.20" y1="357.60" x2="25.20" y2="429.90" stroke="#000" stroke-width="1.2"/>
<line x1="24.60" y1="429.90" x2="338.47" y2="429.90" stroke="#000" stroke-width="1.2"/>
<line x1="22.60" y1="429.90" x2="25.20" y2="429.90" stroke="#000" stroke-width="1.1"/>
<text x="21.90" y="432.60" font-size="7.5" font-weight="bold" text-anchor="end" fill="#000" class="b">0.0</text>
<line x1="22.60" y1="406.00" x2="25.20" y2="406.00" stroke="#000" stroke-width="1.1"/>
<text x="21.90" y="408.70" font-size="7.5" font-weight="bold" text-anchor="end" fill="#000" class="b">0.5</text>
<line x1="22.60" y1="382.10" x2="25.20" y2="382.10" stroke="#000" stroke-width="1.1"/>
<text x="21.90" y="384.80" font-size="7.5" font-weight="bold" text-anchor="end" fill="#000" class="b">1.0</text>
<line x1="22.60" y1="358.20" x2="25.20" y2="358.20" stroke="#000" stroke-width="1.1"/>
<text x="21.90" y="360.90" font-size="7.5" font-weight="bold" text-anchor="end" fill="#000" class="b">1.5</text>
<line x1="31.09" y1="429.90" x2="31.09" y2="432.10" stroke="#000" stroke-width="0.9"/>
<text transform="translate(32.59,439.80) rotate(-45)" font-size="7.5" font-weight="bold" text-anchor="end" class="b">WT</text>
<line x1="42.72" y1="429.90" x2="42.72" y2="432.10" stroke="#000" stroke-width="0.9"/>
<circle cx="43.52" cy="439.20" r="0.55" fill="#000"/>
<line x1="54.35" y1="429.90" x2="54.35" y2="432.10" stroke="#000" stroke-width="0.9"/>
<text transform="translate(55.85,439.80) rotate(-45)" font-size="7.5" font-weight="bold" text-anchor="end" class="b">K43Q</text>
<line x1="65.98" y1="429.90" x2="65.98" y2="432.10" stroke="#000" stroke-width="0.9"/>
<text transform="translate(67.48,439.80) rotate(-45)" font-size="7.5" font-weight="bold" text-anchor="end" class="b">R139W</text>
<line x1="77.61" y1="429.90" x2="77.61" y2="432.10" stroke="#000" stroke-width="0.9"/>
<text transform="translate(79.11,439.80) rotate(-45)" font-size="7.5" font-weight="bold" text-anchor="end" class="b">T140R</text>
<line x1="89.24" y1="429.90" x2="89.24" y2="432.10" stroke="#000" stroke-width="0.9"/>
<text transform="translate(90.74,439.80) rotate(-45)" font-size="7.5" font-weight="bold" text-anchor="end" class="b">T140K</text>
<line x1="100.87" y1="429.90" x2="100.87" y2="432.10" stroke="#000" stroke-width="0.9"/>
<text transform="translate(102.37,439.80) rotate(-45)" font-size="7.5" font-weight="bold" text-anchor="end" class="b">Q163E</text>
<line x1="112.50" y1="429.90" x2="112.50" y2="432.10" stroke="#000" stroke-width="0.9"/>
<text transform="translate(114.00,439.80) rotate(-45)" font-size="7.5" font-weight="bold" text-anchor="end" class="b">Q163H</text>
<line x1="124.13" y1="429.90" x2="124.13" y2="432.10" stroke="#000" stroke-width="0.9"/>
<text transform="translate(125.63,439.80) rotate(-45)" font-size="7.5" font-weight="bold" text-anchor="end" class="b">R570Q</text>
<line x1="135.76" y1="429.90" x2="135.76" y2="432.10" stroke="#000" stroke-width="0.9"/>
<circle cx="136.56" cy="439.20" r="0.55" fill="#000"/>
<line x1="147.39" y1="429.90" x2="147.39" y2="432.10" stroke="#000" stroke-width="0.9"/>
<text transform="translate(148.89,439.80) rotate(-45)" font-size="7.5" font-weight="bold" text-anchor="end" class="b">W1012R</text>
<line x1="159.02" y1="429.90" x2="159.02" y2="432.10" stroke="#000" stroke-width="0.9"/>
<text transform="translate(160.52,439.80) rotate(-45)" font-size="7.5" font-weight="bold" text-anchor="end" class="b">R1020L</text>
<line x1="170.65" y1="429.90" x2="170.65" y2="432.10" stroke="#000" stroke-width="0.9"/>
<text transform="translate(172.15,439.80) rotate(-45)" font-size="7.5" font-weight="bold" text-anchor="end" class="b">R1020G</text>
<line x1="182.28" y1="429.90" x2="182.28" y2="432.10" stroke="#000" stroke-width="0.9"/>
<text transform="translate(183.78,439.80) rotate(-45)" font-size="7.5" font-weight="bold" text-anchor="end" class="b">K1029M</text>
<line x1="193.91" y1="429.90" x2="193.91" y2="432.10" stroke="#000" stroke-width="0.9"/>
<text transform="translate(195.41,439.80) rotate(-45)" font-size="7.5" font-weight="bold" text-anchor="end" class="b">S1041R</text>
<line x1="205.54" y1="429.90" x2="205.54" y2="432.10" stroke="#000" stroke-width="0.9"/>
<text transform="translate(207.04,439.80) rotate(-45)" font-size="7.5" font-weight="bold" text-anchor="end" class="b">A1072D</text>
<line x1="217.17" y1="429.90" x2="217.17" y2="432.10" stroke="#000" stroke-width="0.9"/>
<text transform="translate(218.67,439.80) rotate(-45)" font-size="7.5" font-weight="bold" text-anchor="end" class="b">A1072S</text>
<line x1="228.80" y1="429.90" x2="228.80" y2="432.10" stroke="#000" stroke-width="0.9"/>
<text transform="translate(230.30,439.80) rotate(-45)" font-size="7.5" font-weight="bold" text-anchor="end" class="b">P1092L</text>
<line x1="240.43" y1="429.90" x2="240.43" y2="432.10" stroke="#000" stroke-width="0.9"/>
<text transform="translate(241.93,439.80) rotate(-45)" font-size="7.5" font-weight="bold" text-anchor="end" class="b">D1093N</text>
<line x1="252.06" y1="429.90" x2="252.06" y2="432.10" stroke="#000" stroke-width="0.9"/>
<text transform="translate(253.56,439.80) rotate(-45)" font-size="7.5" font-weight="bold" text-anchor="end" class="b">G1094R</text>
<line x1="263.69" y1="429.90" x2="263.69" y2="432.10" stroke="#000" stroke-width="0.9"/>
<text transform="translate(265.19,439.80) rotate(-45)" font-size="7.5" font-weight="bold" text-anchor="end" class="b">I1135T</text>
<line x1="275.32" y1="429.90" x2="275.32" y2="432.10" stroke="#000" stroke-width="0.9"/>
<text transform="translate(276.82,439.80) rotate(-45)" font-size="7.5" font-weight="bold" text-anchor="end" class="b">Q1139K</text>
<line x1="286.95" y1="429.90" x2="286.95" y2="432.10" stroke="#000" stroke-width="0.9"/>
<circle cx="287.75" cy="439.20" r="0.55" fill="#000"/>
<line x1="298.58" y1="429.90" x2="298.58" y2="432.10" stroke="#000" stroke-width="0.9"/>
<text transform="translate(300.08,439.80) rotate(-45)" font-size="7.5" font-weight="bold" text-anchor="end" class="b">R456L</text>
<line x1="310.21" y1="429.90" x2="310.21" y2="432.10" stroke="#000" stroke-width="0.9"/>
<text transform="translate(311.71,439.80) rotate(-45)" font-size="7.5" font-weight="bold" text-anchor="end" class="b">F581V</text>
<line x1="321.84" y1="429.90" x2="321.84" y2="432.10" stroke="#000" stroke-width="0.9"/>
<text transform="translate(323.34,439.80) rotate(-45)" font-size="7.5" font-weight="bold" text-anchor="end" class="b">T1361N</text>
<line x1="333.47" y1="429.90" x2="333.47" y2="432.10" stroke="#000" stroke-width="0.9"/>
<text transform="translate(334.97,439.80) rotate(-45)" font-size="7.5" font-weight="bold" text-anchor="end" class="b">L1527M</text>
<line x1="40.15" y1="465.10" x2="278.62" y2="465.10" stroke="#000" stroke-width="1.4"/>
<line x1="40.15" y1="462.70" x2="40.15" y2="467.50" stroke="#000" stroke-width="1.3"/>
<line x1="278.62" y1="462.70" x2="278.62" y2="467.50" stroke="#000" stroke-width="1.3"/>
<line x1="288.88" y1="465.10" x2="337.17" y2="465.10" stroke="#000" stroke-width="1.4"/>
<line x1="288.88" y1="462.70" x2="288.88" y2="467.50" stroke="#000" stroke-width="1.3"/>
<line x1="337.17" y1="462.70" x2="337.17" y2="467.50" stroke="#000" stroke-width="1.3"/>
<text x="134.50" y="477.10" font-size="7.6" font-weight="bold" text-anchor="start" fill="#000" class="b" textLength="68.8" lengthAdjust="spacingAndGlyphs">FH binding surface</text>
<text x="294.40" y="474.60" font-size="7.6" font-weight="bold" text-anchor="start" fill="#000" class="b" textLength="37" lengthAdjust="spacingAndGlyphs">elsewhere</text>
<text x="352.00" y="9.00" font-size="11" font-weight="normal" text-anchor="start" fill="#000" >D</text>
<polyline points="377.9,97.5 378.2,97.7 378.5,98.7 378.9,97.5 379.2,97.6 379.5,97.8 379.8,96.8 380.1,97.6 380.4,97.9 380.7,98.3 381.0,96.6 381.3,97.1 381.6,96.6 381.9,98.4 382.3,98.1 382.6,96.5 382.9,98.8 383.2,98.8 383.5,98.0 383.8,97.9 384.1,96.7 384.4,96.4 384.7,97.7 385.0,96.5 385.3,96.8 385.6,97.0 386.0,96.4 386.3,97.5 386.6,96.0 386.9,95.4 387.2,93.0 387.5,91.8 387.8,90.0 388.1,88.9 388.4,87.0 388.7,85.2 389.0,85.7 389.3,84.4 389.7,82.7 390.0,81.2 390.3,79.0 390.6,77.6 390.9,76.6 391.2,74.9 391.5,75.6 391.8,73.6 392.1,73.7 392.4,71.5 392.7,72.0 393.0,70.7 393.4,67.7 393.7,67.3 394.0,68.1 394.3,66.2 394.6,66.6 394.9,64.3 395.2,62.7 395.5,63.3 395.8,62.9 396.1,60.9 396.4,59.7 396.7,59.6 397.1,60.5 397.4,59.3 397.7,57.0 398.0,56.7 398.3,55.7 398.6,55.0 398.9,56.3 399.2,54.1 399.5,54.5 399.8,53.7 400.1,52.5 400.4,53.3 400.8,51.3 401.1,52.1 401.4,50.3 401.7,50.6 402.0,49.6 402.3,49.3 402.6,50.6 402.9,49.8 403.2,48.1 403.5,49.2 403.8,47.1 404.1,47.1 404.5,47.9 404.8,47.0 405.1,45.3 405.4,47.2 405.7,44.9 406.0,44.7 406.3,45.6 406.6,44.2 406.9,43.8 407.2,43.0 407.5,42.7 407.8,43.6 408.2,42.5 408.5,43.1 408.8,42.3 409.1,42.2 409.4,43.3 409.7,41.8 410.0,41.8 410.3,42.3 410.6,40.4 410.9,40.1 411.2,41.7 411.5,41.3 411.9,39.7 412.2,39.3 412.5,40.5 412.8,40.8 413.1,38.8 413.4,40.5 413.7,40.1 414.0,39.3 414.3,38.6 414.6,37.7 414.9,37.3 415.2,39.5 415.6,37.5 415.9,38.6 416.2,37.3 416.5,38.6 416.8,37.9 417.1,37.0 417.4,36.5 417.7,37.8 418.0,36.0 418.3,36.3 418.6,37.0 418.9,37.6 419.3,36.9 419.6,36.0 419.9,37.5 420.2,35.6 420.5,35.0 420.8,35.5 421.1,35.9 421.4,34.8 421.7,35.0 422.0,35.4 422.3,35.8 422.7,34.6 423.0,35.8 423.3,37.7 423.6,38.5 423.9,38.2 424.2,38.8 424.5,39.1 424.8,38.5 425.1,38.7 425.4,39.2 425.7,41.9 426.0,41.8 426.4,43.0 426.7,41.1 427.0,43.1 427.3,43.1 427.6,44.2 427.9,43.6 428.2,45.7 428.5,43.8 428.8,45.4 429.1,46.3 429.4,47.1 429.7,47.1 430.1,47.4 430.4,47.9 430.7,48.6 431.0,47.6 431.3,48.8 431.6,49.7 431.9,49.9 432.2,49.1 432.5,50.4 432.8,50.9 433.1,50.5 433.4,50.9 433.8,50.6 434.1,51.5 434.4,51.8 434.7,50.8 435.0,52.5 435.3,53.7 435.6,53.7 435.9,53.6 436.2,53.0 436.5,54.1 436.8,54.0 437.1,53.9 437.5,55.2 437.8,53.5 438.1,55.5 438.4,53.9 438.7,55.6 439.0,55.5 439.3,55.1 439.6,56.5 439.9,56.3 440.2,56.8 440.5,57.8 440.8,56.3 441.2,56.0 441.5,56.9 441.8,58.1 442.1,57.1 442.4,57.2 442.7,59.2 443.0,58.8 443.3,58.5 443.6,59.8 443.9,58.6 444.2,59.6 444.5,58.7 444.9,59.4 445.2,60.6 445.5,61.0 445.8,61.1 446.1,60.0 446.4,60.7 446.7,60.2 447.0,60.0 447.3,61.0 447.6,62.0 447.9,62.2 448.2,62.1 448.6,62.8 448.9,61.3 449.2,61.2 449.5,62.1 449.8,61.8 450.1,61.8 450.4,62.4 450.7,63.1 451.0,62.9 451.3,62.7 451.6,64.1 451.9,64.6 452.3,63.4 452.6,62.6 452.9,62.7 453.2,64.9 453.5,63.0 453.8,64.8 454.1,64.6 454.4,64.1 454.7,65.4 455.0,63.6 455.3,64.0 455.6,65.0 456.0,64.0 456.3,66.2 456.6,64.8 456.9,64.7 457.2,64.6 457.5,66.2 457.8,65.8 458.1,66.4 458.4,66.6 458.7,67.1 459.0,67.6 459.4,67.0 459.7,65.9 460.0,66.7 460.3,66.1 460.6,65.8 460.9,67.1 461.2,67.8 461.5,66.6 461.8,66.9 462.1,67.2 462.4,68.2 462.7,67.9 463.1,68.2 463.4,68.7 463.7,67.9 464.0,69.0 464.3,69.4 464.6,67.4 464.9,69.7 465.2,69.2 465.5,67.9 465.8,68.8 466.1,69.3 466.4,70.1 466.8,68.9 467.1,69.5 467.4,70.4 467.7,70.2 468.0,70.7 468.3,69.6 468.6,70.2 468.9,69.2 469.2,70.5 469.5,70.9 469.8,70.5 470.1,70.8 470.5,69.7" fill="none" stroke="#000" stroke-width="2.6" stroke-linejoin="round"/>
<polyline points="377.9,98.6 378.2,98.8 378.5,98.8 378.9,97.7 379.2,98.3 379.5,97.2 379.8,98.6 380.1,98.5 380.4,97.2 380.7,96.6 381.0,97.5 381.3,97.7 381.6,98.3 381.9,97.6 382.3,96.4 382.6,98.4 382.9,96.5 383.2,98.3 383.5,96.8 383.8,97.2 384.1,98.3 384.4,96.7 384.7,96.7 385.0,97.6 385.3,98.2 385.6,98.4 386.0,98.1 386.3,98.7 386.6,96.9 386.9,97.4 387.2,94.6 387.5,94.2 387.8,94.4 388.1,93.1 388.4,93.6 388.7,92.7 389.0,91.8 389.3,92.0 389.7,90.6 390.0,89.4 390.3,89.0 390.6,89.6 390.9,89.1 391.2,86.8 391.5,87.8 391.8,87.6 392.1,85.9 392.4,85.5 392.7,84.0 393.0,84.3 393.4,83.7 393.7,83.4 394.0,81.5 394.3,83.3 394.6,81.7 394.9,80.9 395.2,81.4 395.5,80.3 395.8,79.6 396.1,79.7 396.4,77.6 396.7,78.3 397.1,77.6 397.4,78.5 397.7,77.9 398.0,75.9 398.3,75.9 398.6,74.6 398.9,75.0 399.2,75.5 399.5,75.3 399.8,73.8 400.1,73.0 400.4,72.3 400.8,73.0 401.1,73.3 401.4,71.0 401.7,72.2 402.0,69.9 402.3,70.0 402.6,69.7 402.9,70.5 403.2,69.2 403.5,68.9 403.8,69.3 404.1,67.6 404.5,68.8 404.8,67.0 405.1,67.6 405.4,66.6 405.7,66.2 406.0,66.7 406.3,66.1 406.6,65.6 406.9,65.4 407.2,65.4 407.5,64.2 407.8,64.0 408.2,64.8 408.5,64.5 408.8,63.9 409.1,64.4 409.4,63.6 409.7,63.9 410.0,62.0 410.3,63.0 410.6,62.9 410.9,62.9 411.2,61.2 411.5,60.9 411.9,62.2 412.2,60.2 412.5,61.9 412.8,61.3 413.1,59.2 413.4,59.2 413.7,60.2 414.0,58.8 414.3,58.1 414.6,59.8 414.9,58.5 415.2,59.2 415.6,57.3 415.9,57.8 416.2,58.3 416.5,56.4 416.8,56.6 417.1,57.6 417.4,58.0 417.7,57.9 418.0,55.6 418.3,56.4 418.6,56.8 418.9,56.0 419.3,56.2 419.6,54.8 419.9,54.3 420.2,54.2 420.5,53.9 420.8,55.0 421.1,54.7 421.4,54.6 421.7,53.4 422.0,53.3 422.3,53.2 422.7,54.6 423.0,55.4 423.3,55.7 423.6,54.0 423.9,54.3 424.2,56.9 424.5,56.0 424.8,57.1 425.1,56.4 425.4,57.1 425.7,57.6 426.0,57.7 426.4,58.4 426.7,57.3 427.0,59.3 427.3,60.0 427.6,58.7 427.9,59.7 428.2,60.7 428.5,60.1 428.8,59.9 429.1,60.1 429.4,61.2 429.7,60.3 430.1,62.7 430.4,62.8 430.7,62.8 431.0,63.4 431.3,63.1 431.6,62.8 431.9,63.5 432.2,63.5 432.5,64.9 432.8,64.7 433.1,63.6 433.4,65.4 433.8,65.3 434.1,65.6 434.4,65.9 434.7,65.0 435.0,66.5 435.3,66.6 435.6,66.4 435.9,66.8 436.2,66.9 436.5,66.2 436.8,67.2 437.1,65.8 437.5,66.6 437.8,67.1 438.1,66.2 438.4,67.2 438.7,68.1 439.0,68.2 439.3,67.4 439.6,69.4 439.9,68.8 440.2,68.2 440.5,69.1 440.8,69.1 441.2,69.1 441.5,68.9 441.8,70.6 442.1,69.9 442.4,70.1 442.7,70.4 443.0,71.1 443.3,68.9 443.6,70.5 443.9,71.0 444.2,69.9 444.5,70.4 444.9,69.6 445.2,70.1 445.5,70.7 445.8,70.1 446.1,70.7 446.4,72.4 446.7,71.7 447.0,71.7 447.3,72.9 447.6,72.1 447.9,73.2 448.2,72.5 448.6,73.0 448.9,71.3 449.2,72.7 449.5,73.2 449.8,71.6 450.1,73.9 450.4,72.1 450.7,73.0 451.0,72.3 451.3,73.2 451.6,73.6 451.9,72.3 452.3,74.7 452.6,73.5 452.9,73.8 453.2,74.1 453.5,73.6 453.8,73.5 454.1,74.5 454.4,74.4 454.7,73.8 455.0,75.0 455.3,74.0 455.6,73.4 456.0,74.1 456.3,73.7 456.6,74.0 456.9,75.6 457.2,74.8 457.5,76.2 457.8,75.9 458.1,74.2 458.4,76.6 458.7,76.6 459.0,74.5 459.4,76.7 459.7,75.6 460.0,75.8 460.3,77.1 460.6,75.4 460.9,76.2 461.2,77.3 461.5,76.8 461.8,76.3 462.1,77.6 462.4,77.3 462.7,76.8 463.1,75.7 463.4,77.0 463.7,76.7 464.0,76.1 464.3,75.8 464.6,77.1 464.9,76.2 465.2,77.0 465.5,77.7 465.8,77.2 466.1,76.8 466.4,77.7 466.8,77.3 467.1,78.3 467.4,77.8 467.7,79.0 468.0,79.0 468.3,78.5 468.6,77.3 468.9,77.1 469.2,79.1 469.5,78.9 469.8,78.5 470.1,77.9 470.5,77.8" fill="none" stroke="#000" stroke-width="2.6" stroke-linejoin="round"/>
<polyline points="377.9,98.1 378.2,97.8 378.5,97.8 378.9,97.9 379.2,98.2 379.5,96.8 379.8,97.0 380.1,98.8 380.4,98.6 380.7,98.5 381.0,96.4 381.3,96.5 381.6,97.0 381.9,97.4 382.3,97.9 382.6,96.6 382.9,97.7 383.2,96.5 383.5,96.6 383.8,98.0 384.1,97.7 384.4,97.9 384.7,97.3 385.0,97.5 385.3,96.9 385.6,97.2 386.0,98.2 386.3,98.4 386.6,96.2 386.9,96.0 387.2,97.4 387.5,96.6 387.8,96.6 388.1,94.9 388.4,95.1 388.7,94.4 389.0,95.4 389.3,94.0 389.7,94.4 390.0,94.9 390.3,93.0 390.6,93.2 390.9,93.4 391.2,93.6 391.5,92.1 391.8,91.6 392.1,90.7 392.4,92.3 392.7,90.1 393.0,89.8 393.4,90.7 393.7,90.3 394.0,90.5 394.3,89.3 394.6,90.2 394.9,88.2 395.2,88.3 395.5,89.1 395.8,87.4 396.1,87.8 396.4,88.6 396.7,88.2 397.1,87.0 397.4,86.4 397.7,86.7 398.0,87.4 398.3,86.3 398.6,85.4 398.9,86.7 399.2,86.1 399.5,86.7 399.8,86.6 400.1,86.3 400.4,84.9 400.8,85.6 401.1,84.2 401.4,84.0 401.7,84.0 402.0,85.1 402.3,84.8 402.6,83.0 402.9,83.1 403.2,82.9 403.5,82.7 403.8,82.6 404.1,82.4 404.5,81.7 404.8,82.5 405.1,82.9 405.4,82.1 405.7,82.6 406.0,81.8 406.3,80.6 406.6,81.9 406.9,82.0 407.2,80.4 407.5,79.6 407.8,80.6 408.2,80.5 408.5,80.4 408.8,81.3 409.1,80.3 409.4,80.6 409.7,78.6 410.0,79.6 410.3,80.1 410.6,78.2 410.9,78.0 411.2,79.5 411.5,79.8 411.9,77.6 412.2,78.8 412.5,77.5 412.8,78.8 413.1,78.4 413.4,77.3 413.7,77.1 414.0,78.3 414.3,77.6 414.6,78.1 414.9,77.0 415.2,76.8 415.6,78.2 415.9,77.3 416.2,76.8 416.5,76.8 416.8,77.1 417.1,76.9 417.4,77.3 417.7,76.0 418.0,76.9 418.3,76.4 418.6,76.7 418.9,76.5 419.3,76.5 419.6,76.5 419.9,76.6 420.2,75.7 420.5,75.3 420.8,75.6 421.1,75.8 421.4,74.7 421.7,74.6 422.0,73.8 422.3,75.2 422.7,75.7 423.0,74.4 423.3,74.1 423.6,74.4 423.9,75.1 424.2,75.0 424.5,76.9 424.8,74.8 425.1,75.6 425.4,75.3 425.7,76.8 426.0,77.3 426.4,76.0 426.7,75.9 427.0,77.1 427.3,77.5 427.6,78.5 427.9,76.5 428.2,76.8 428.5,77.2 428.8,77.4 429.1,77.6 429.4,79.0 429.7,78.8 430.1,78.0 430.4,78.1 430.7,78.4 431.0,78.3 431.3,79.9 431.6,78.9 431.9,79.6 432.2,80.4 432.5,79.7 432.8,79.3 433.1,81.0 433.4,81.1 433.8,79.8 434.1,80.5 434.4,81.6 434.7,80.5 435.0,80.0 435.3,79.7 435.6,82.0 435.9,81.7 436.2,80.8 436.5,81.3 436.8,81.3 437.1,80.8 437.5,82.7 437.8,82.0 438.1,81.0 438.4,80.5 438.7,81.8 439.0,81.6 439.3,82.8 439.6,82.7 439.9,82.5 440.2,81.4 440.5,81.5 440.8,82.0 441.2,81.9 441.5,83.6 441.8,82.7 442.1,83.1 442.4,84.1 442.7,82.4 443.0,83.1 443.3,82.2 443.6,83.8 443.9,82.0 444.2,84.1 444.5,84.2 444.9,84.3 445.2,82.5 445.5,83.0 445.8,84.2 446.1,82.7 446.4,83.7 446.7,83.8 447.0,85.1 447.3,84.2 447.6,84.9 447.9,83.6 448.2,84.9 448.6,84.0 448.9,85.3 449.2,83.3 449.5,85.2 449.8,83.7 450.1,84.6 450.4,84.7 450.7,83.8 451.0,85.5 451.3,84.3 451.6,84.3 451.9,83.8 452.3,84.4 452.6,84.9 452.9,85.6 453.2,84.7 453.5,85.6 453.8,84.2 454.1,85.0 454.4,85.2 454.7,86.5 455.0,86.2 455.3,85.8 455.6,84.3 456.0,85.2 456.3,86.1 456.6,85.0 456.9,85.8 457.2,85.6 457.5,84.6 457.8,87.0 458.1,86.6 458.4,85.2 458.7,86.2 459.0,85.5 459.4,85.7 459.7,86.2 460.0,85.6 460.3,85.8 460.6,86.0 460.9,86.7 461.2,85.7 461.5,85.6 461.8,87.0 462.1,86.0 462.4,87.6 462.7,86.7 463.1,87.1 463.4,86.2 463.7,87.5 464.0,85.7 464.3,85.8 464.6,85.7 464.9,87.2 465.2,87.4 465.5,86.1 465.8,86.7 466.1,87.8 466.4,87.2 466.8,86.0 467.1,86.4 467.4,86.2 467.7,86.2 468.0,86.9 468.3,86.1 468.6,88.3 468.9,87.1 469.2,87.3 469.5,87.7 469.8,88.1 470.1,88.2 470.5,87.2" fill="none" stroke="#000" stroke-width="2.6" stroke-linejoin="round"/>
<polyline points="377.9,97.2 378.2,97.4 378.5,96.4 378.9,97.4 379.2,98.1 379.5,98.8 379.8,98.3 380.1,98.0 380.4,97.9 380.7,96.4 381.0,97.2 381.3,97.2 381.6,98.0 381.9,96.6 382.3,97.3 382.6,97.6 382.9,98.3 383.2,98.4 383.5,97.9 383.8,96.7 384.1,98.3 384.4,98.6 384.7,97.7 385.0,97.2 385.3,97.6 385.6,96.7 386.0,98.1 386.3,98.8 386.6,97.5 386.9,97.9 387.2,98.0 387.5,96.3 387.8,98.0 388.1,97.1 388.4,95.8 388.7,95.4 389.0,95.7 389.3,96.4 389.7,96.5 390.0,95.5 390.3,96.9 390.6,95.3 390.9,95.4 391.2,94.5 391.5,96.4 391.8,94.2 392.1,96.0 392.4,95.0 392.7,94.9 393.0,94.8 393.4,93.9 393.7,95.4 394.0,95.5 394.3,95.0 394.6,94.3 394.9,93.0 395.2,94.6 395.5,93.2 395.8,94.6 396.1,92.8 396.4,93.6 396.7,94.1 397.1,92.4 397.4,93.2 397.7,91.9 398.0,91.7 398.3,91.9 398.6,93.9 398.9,93.6 399.2,92.8 399.5,91.9 399.8,92.7 400.1,92.7 400.4,91.7 400.8,92.2 401.1,92.6 401.4,90.6 401.7,90.9 402.0,91.5 402.3,90.6 402.6,91.1 402.9,91.5 403.2,90.4 403.5,91.2 403.8,90.4 404.1,91.1 404.5,90.4 404.8,91.1 405.1,89.5 405.4,91.0 405.7,89.6 406.0,91.6 406.3,90.6 406.6,90.2 406.9,90.0 407.2,90.4 407.5,90.5 407.8,90.6 408.2,90.5 408.5,89.8 408.8,91.0 409.1,90.5 409.4,90.5 409.7,89.3 410.0,89.3 410.3,89.6 410.6,90.3 410.9,89.3 411.2,89.2 411.5,88.9 411.9,90.1 412.2,88.5 412.5,87.8 412.8,89.4 413.1,89.8 413.4,89.3 413.7,88.9 414.0,89.2 414.3,88.0 414.6,88.7 414.9,87.3 415.2,87.4 415.6,88.1 415.9,88.2 416.2,87.9 416.5,87.0 416.8,88.5 417.1,88.1 417.4,87.3 417.7,87.4 418.0,87.6 418.3,87.1 418.6,86.6 418.9,88.7 419.3,88.8 419.6,88.0 419.9,88.4 420.2,87.2 420.5,88.2 420.8,86.6 421.1,87.9 421.4,87.4 421.7,88.2 422.0,86.1 422.3,87.8 422.7,86.1 423.0,87.2 423.3,88.4 423.6,86.1 423.9,86.8 424.2,87.0 424.5,87.2 424.8,86.6 425.1,88.8 425.4,88.6 425.7,87.7 426.0,87.7 426.4,88.3 426.7,87.0 427.0,87.1 427.3,89.3 427.6,87.9 427.9,88.5 428.2,89.6 428.5,89.8 428.8,88.6 429.1,88.0 429.4,88.3 429.7,90.0 430.1,90.0 430.4,88.3 430.7,89.9 431.0,88.8 431.3,89.1 431.6,88.4 431.9,90.3 432.2,90.6 432.5,88.7 432.8,89.8 433.1,88.8 433.4,90.6 433.8,88.5 434.1,88.7 434.4,90.3 434.7,89.3 435.0,90.9 435.3,90.8 435.6,90.5 435.9,89.1 436.2,90.5 436.5,91.2 436.8,90.0 437.1,89.1 437.5,89.5 437.8,89.8 438.1,90.8 438.4,89.6 438.7,89.6 439.0,89.8 439.3,90.9 439.6,91.3 439.9,90.2 440.2,91.0 440.5,91.6 440.8,90.9 441.2,90.0 441.5,90.3 441.8,91.9 442.1,91.2 442.4,90.3 442.7,91.2 443.0,89.9 443.3,92.2 443.6,90.9 443.9,91.1 444.2,91.1 444.5,90.0 444.9,91.4 445.2,90.6 445.5,90.6 445.8,92.0 446.1,90.2 446.4,90.8 446.7,92.0 447.0,90.7 447.3,90.8 447.6,91.5 447.9,90.6 448.2,92.5 448.6,92.7 448.9,90.4 449.2,91.4 449.5,92.2 449.8,91.3 450.1,92.7 450.4,91.7 450.7,90.9 451.0,91.8 451.3,92.1 451.6,91.4 451.9,92.2 452.3,92.5 452.6,91.9 452.9,91.9 453.2,92.7 453.5,92.4 453.8,92.0 454.1,93.1 454.4,91.2 454.7,92.7 455.0,91.2 455.3,92.3 455.6,91.4 456.0,91.9 456.3,92.8 456.6,92.8 456.9,92.9 457.2,91.5 457.5,92.2 457.8,91.5 458.1,92.4 458.4,92.3 458.7,91.1 459.0,92.5 459.4,92.9 459.7,92.5 460.0,93.3 460.3,91.6 460.6,91.5 460.9,91.2 461.2,92.4 461.5,92.3 461.8,92.3 462.1,91.9 462.4,93.3 462.7,91.5 463.1,93.6 463.4,92.7 463.7,92.7 464.0,93.3 464.3,92.0 464.6,91.8 464.9,92.2 465.2,91.5 465.5,92.2 465.8,93.0 466.1,92.8 466.4,92.2 466.8,93.0 467.1,91.8 467.4,93.6 467.7,92.0 468.0,92.2 468.3,92.0 468.6,93.3 468.9,93.7 469.2,93.6 469.5,91.8 469.8,92.7 470.1,92.6 470.5,92.3" fill="none" stroke="#000" stroke-width="2.5" stroke-linejoin="round"/>
<polyline points="377.9,98.8 378.2,96.5 378.5,97.6 378.9,98.3 379.2,98.8 379.5,96.7 379.8,97.5 380.1,98.2 380.4,96.4 380.7,97.0 381.0,98.6 381.3,96.7 381.6,97.3 381.9,97.1 382.3,97.4 382.6,96.5 382.9,96.4 383.2,98.8 383.5,98.3 383.8,98.2 384.1,96.9 384.4,97.0 384.7,97.7 385.0,97.0 385.3,97.5 385.6,98.7 386.0,97.3 386.3,97.2 386.6,98.7 386.9,97.7 387.2,96.2 387.5,97.0 387.8,97.5 388.1,96.0 388.4,96.6 388.7,97.4 389.0,97.8 389.3,97.0 389.7,97.6 390.0,96.5 390.3,96.3 390.6,97.3 390.9,96.1 391.2,97.0 391.5,95.5 391.8,95.8 392.1,95.3 392.4,96.1 392.7,95.1 393.0,95.1 393.4,95.0 393.7,95.6 394.0,95.1 394.3,95.4 394.6,96.7 394.9,95.9 395.2,96.2 395.5,94.5 395.8,94.9 396.1,94.1 396.4,95.5 396.7,94.7 397.1,94.4 397.4,93.7 397.7,94.0 398.0,94.1 398.3,94.4 398.6,95.7 398.9,95.1 399.2,93.9 399.5,94.1 399.8,93.5 400.1,95.4 400.4,93.9 400.8,94.8 401.1,94.7 401.4,95.1 401.7,92.8 402.0,93.5 402.3,93.6 402.6,92.8 402.9,94.7 403.2,93.3 403.5,94.3 403.8,93.7 404.1,92.4 404.5,93.2 404.8,92.8 405.1,92.2 405.4,92.5 405.7,93.5 406.0,92.1 406.3,92.7 406.6,92.9 406.9,93.2 407.2,92.1 407.5,93.5 407.8,92.3 408.2,93.5 408.5,93.3 408.8,91.9 409.1,92.0 409.4,92.1 409.7,93.2 410.0,92.4 410.3,92.3 410.6,93.4 410.9,91.8 411.2,91.9 411.5,92.0 411.9,91.6 412.2,91.1 412.5,91.1 412.8,92.5 413.1,92.3 413.4,92.9 413.7,93.3 414.0,91.5 414.3,92.4 414.6,93.0 414.9,91.2 415.2,92.3 415.6,92.2 415.9,92.9 416.2,92.7 416.5,91.0 416.8,92.0 417.1,90.6 417.4,91.4 417.7,91.3 418.0,90.4 418.3,91.2 418.6,91.0 418.9,91.4 419.3,90.8 419.6,90.5 419.9,91.1 420.2,91.2 420.5,90.4 420.8,91.6 421.1,90.5 421.4,90.1 421.7,90.7 422.0,90.9 422.3,90.2 422.7,91.2 423.0,91.6 423.3,91.3 423.6,91.7 423.9,90.0 424.2,91.0 424.5,91.0 424.8,90.3 425.1,91.2 425.4,90.4 425.7,91.6 426.0,91.8 426.4,91.6 426.7,91.3 427.0,91.1 427.3,90.6 427.6,91.5 427.9,92.9 428.2,92.1 428.5,91.4 428.8,92.5 429.1,91.3 429.4,92.0 429.7,92.4 430.1,93.3 430.4,91.9 430.7,92.5 431.0,93.4 431.3,93.0 431.6,92.7 431.9,92.7 432.2,92.2 432.5,92.3 432.8,92.0 433.1,93.4 433.4,93.6 433.8,92.3 434.1,93.7 434.4,91.5 434.7,91.8 435.0,92.8 435.3,92.3 435.6,92.5 435.9,94.0 436.2,92.0 436.5,92.1 436.8,92.3 437.1,93.4 437.5,92.3 437.8,91.8 438.1,93.2 438.4,92.8 438.7,92.5 439.0,93.1 439.3,93.5 439.6,93.3 439.9,93.5 440.2,93.4 440.5,94.1 440.8,94.4 441.2,92.9 441.5,92.9 441.8,94.3 442.1,92.9 442.4,93.9 442.7,93.9 443.0,93.9 443.3,94.6 443.6,94.3 443.9,92.6 444.2,93.8 444.5,93.5 444.9,93.7 445.2,93.3 445.5,93.1 445.8,94.2 446.1,93.7 446.4,93.0 446.7,93.0 447.0,93.3 447.3,92.9 447.6,93.8 447.9,92.8 448.2,92.7 448.6,92.7 448.9,92.8 449.2,94.3 449.5,92.9 449.8,93.7 450.1,94.5 450.4,93.8 450.7,93.1 451.0,94.8 451.3,94.9 451.6,92.8 451.9,93.3 452.3,94.0 452.6,94.7 452.9,93.7 453.2,94.6 453.5,93.4 453.8,94.6 454.1,93.6 454.4,93.7 454.7,94.7 455.0,95.0 455.3,94.9 455.6,94.3 456.0,94.0 456.3,94.7 456.6,94.5 456.9,95.0 457.2,95.0 457.5,93.3 457.8,93.9 458.1,94.7 458.4,93.6 458.7,93.5 459.0,93.1 459.4,94.5 459.7,95.4 460.0,95.5 460.3,93.4 460.6,94.8 460.9,94.2 461.2,94.7 461.5,94.1 461.8,95.5 462.1,95.6 462.4,93.3 462.7,95.0 463.1,93.5 463.4,93.3 463.7,93.9 464.0,95.1 464.3,95.7 464.6,93.6 464.9,94.1 465.2,93.3 465.5,94.6 465.8,94.5 466.1,94.2 466.4,94.1 466.8,95.3 467.1,95.4 467.4,94.1 467.7,94.3 468.0,94.9 468.3,95.3 468.6,95.8 468.9,94.4 469.2,95.1 469.5,94.8 469.8,95.4 470.1,93.8 470.5,93.9" fill="none" stroke="#000" stroke-width="2.5" stroke-linejoin="round"/>
<polyline points="377.9,96.6 378.2,98.7 378.5,97.0 378.9,97.6 379.2,96.7 379.5,97.2 379.8,96.4 380.1,97.8 380.4,96.7 380.7,97.9 381.0,97.0 381.3,96.9 381.6,97.6 381.9,97.3 382.3,97.0 382.6,96.5 382.9,96.5 383.2,98.6 383.5,97.1 383.8,96.5 384.1,96.8 384.4,97.6 384.7,98.8 385.0,96.9 385.3,98.5 385.6,97.6 386.0,97.4 386.3,98.4 386.6,97.3 386.9,96.4 387.2,97.6 387.5,97.9 387.8,97.7 388.1,96.9 388.4,98.5 388.7,98.3 389.0,98.5 389.3,97.1 389.7,98.1 390.0,97.8 390.3,96.4 390.6,96.0 390.9,96.3 391.2,96.1 391.5,96.0 391.8,96.7 392.1,97.6 392.4,96.5 392.7,97.0 393.0,95.7 393.4,96.2 393.7,98.0 394.0,95.6 394.3,96.9 394.6,97.6 394.9,97.5 395.2,97.3 395.5,96.5 395.8,97.4 396.1,97.5 396.4,97.3 396.7,97.8 397.1,95.6 397.4,97.7 397.7,96.3 398.0,97.0 398.3,95.8 398.6,97.5 398.9,95.2 399.2,96.6 399.5,95.7 399.8,96.1 400.1,96.0 400.4,96.7 400.8,97.1 401.1,95.9 401.4,96.6 401.7,95.8 402.0,95.6 402.3,97.2 402.6,95.7 402.9,95.1 403.2,95.7 403.5,96.7 403.8,95.3 404.1,96.6 404.5,96.1 404.8,96.4 405.1,95.2 405.4,95.0 405.7,95.0 406.0,95.5 406.3,95.7 406.6,94.6 406.9,95.8 407.2,95.6 407.5,95.3 407.8,95.9 408.2,96.9 408.5,95.0 408.8,96.7 409.1,95.2 409.4,96.3 409.7,94.7 410.0,96.9 410.3,95.4 410.6,96.8 410.9,94.9 411.2,95.3 411.5,96.1 411.9,94.7 412.2,94.9 412.5,95.9 412.8,96.6 413.1,95.0 413.4,94.6 413.7,95.1 414.0,96.6 414.3,94.5 414.6,95.7 414.9,95.0 415.2,95.7 415.6,94.6 415.9,95.6 416.2,96.3 416.5,96.2 416.8,95.6 417.1,95.2 417.4,95.4 417.7,94.2 418.0,96.0 418.3,95.6 418.6,95.0 418.9,95.6 419.3,94.9 419.6,94.8 419.9,94.4 420.2,95.3 420.5,95.2 420.8,95.1 421.1,93.9 421.4,95.3 421.7,94.9 422.0,95.2 422.3,95.2 422.7,96.0 423.0,94.1 423.3,94.9 423.6,96.3 423.9,95.7 424.2,94.6 424.5,95.7 424.8,96.3 425.1,94.9 425.4,96.1 425.7,94.3 426.0,96.4 426.4,95.2 426.7,94.6 427.0,96.1 427.3,95.7 427.6,96.4 427.9,96.1 428.2,96.1 428.5,95.4 428.8,96.6 429.1,94.3 429.4,96.3 429.7,96.0 430.1,94.8 430.4,96.2 430.7,95.4 431.0,95.6 431.3,96.4 431.6,94.8 431.9,95.0 432.2,95.9 432.5,94.5 432.8,95.7 433.1,96.3 433.4,95.6 433.8,95.0 434.1,96.4 434.4,96.5 434.7,96.3 435.0,95.8 435.3,96.7 435.6,96.4 435.9,94.8 436.2,95.4 436.5,94.7 436.8,94.6 437.1,95.4 437.5,96.7 437.8,96.6 438.1,94.8 438.4,95.0 438.7,95.5 439.0,96.7 439.3,96.1 439.6,96.8 439.9,94.8 440.2,97.1 440.5,95.1 440.8,96.2 441.2,96.8 441.5,96.5 441.8,95.1 442.1,96.3 442.4,95.7 442.7,94.7 443.0,95.5 443.3,95.5 443.6,96.3 443.9,95.4 444.2,96.2 444.5,96.5 444.9,95.2 445.2,95.1 445.5,96.5 445.8,95.9 446.1,95.1 446.4,95.1 446.7,97.1 447.0,96.3 447.3,95.7 447.6,95.3 447.9,97.3 448.2,96.5 448.6,96.7 448.9,95.7 449.2,95.6 449.5,95.9 449.8,95.2 450.1,96.4 450.4,95.9 450.7,96.9 451.0,95.9 451.3,96.0 451.6,96.2 451.9,97.2 452.3,95.8 452.6,96.7 452.9,95.5 453.2,96.4 453.5,95.6 453.8,97.1 454.1,95.7 454.4,97.1 454.7,96.6 455.0,96.1 455.3,97.3 455.6,95.9 456.0,96.8 456.3,96.5 456.6,96.1 456.9,95.1 457.2,96.0 457.5,95.7 457.8,96.1 458.1,97.4 458.4,95.7 458.7,96.8 459.0,96.7 459.4,95.6 459.7,96.1 460.0,95.4 460.3,97.3 460.6,95.7 460.9,96.1 461.2,95.9 461.5,97.1 461.8,97.2 462.1,96.6 462.4,96.4 462.7,95.3 463.1,97.3 463.4,95.3 463.7,96.0 464.0,96.0 464.3,96.9 464.6,96.8 464.9,96.0 465.2,97.4 465.5,97.5 465.8,95.2 466.1,96.7 466.4,96.3 466.8,96.0 467.1,96.3 467.4,95.9 467.7,96.8 468.0,96.7 468.3,97.6 468.6,97.6 468.9,97.7 469.2,96.2 469.5,97.3 469.8,96.8 470.1,96.9 470.5,97.7" fill="none" stroke="#000" stroke-width="2.5" stroke-linejoin="round"/>
<polyline points="377.9,96.5 378.2,97.5 378.5,97.4 378.9,98.0 379.2,96.9 379.5,98.8 379.8,96.9 380.1,97.3 380.4,96.7 380.7,97.3 381.0,98.2 381.3,96.6 381.6,96.8 381.9,98.0 382.3,97.9 382.6,98.2 382.9,97.0 383.2,98.4 383.5,98.2 383.8,98.3 384.1,96.6 384.4,97.5 384.7,96.4 385.0,98.5 385.3,98.7 385.6,98.6 386.0,96.4 386.3,97.2 386.6,97.7 386.9,97.7 387.2,96.6 387.5,98.3 387.8,97.1 388.1,97.6 388.4,96.6 388.7,97.7 389.0,96.6 389.3,96.5 389.7,97.6 390.0,97.0 390.3,98.2 390.6,96.9 390.9,97.3 391.2,96.4 391.5,96.8 391.8,97.4 392.1,97.7 392.4,97.4 392.7,98.4 393.0,96.5 393.4,98.4 393.7,96.6 394.0,98.7 394.3,97.6 394.6,97.3 394.9,97.8 395.2,98.4 395.5,98.6 395.8,97.3 396.1,96.3 396.4,96.6 396.7,98.3 397.1,98.1 397.4,98.0 397.7,96.6 398.0,97.5 398.3,96.3 398.6,96.5 398.9,97.0 399.2,98.6 399.5,97.8 399.8,98.3 400.1,96.3 400.4,97.2 400.8,96.4 401.1,96.8 401.4,96.5 401.7,98.5 402.0,97.0 402.3,97.4 402.6,97.8 402.9,98.4 403.2,98.5 403.5,97.6 403.8,97.4 404.1,98.4 404.5,97.1 404.8,96.9 405.1,98.0 405.4,96.8 405.7,97.1 406.0,97.2 406.3,97.3 406.6,97.0 406.9,97.2 407.2,97.3 407.5,96.2 407.8,98.2 408.2,96.3 408.5,97.4 408.8,97.5 409.1,97.1 409.4,96.7 409.7,96.4 410.0,97.0 410.3,96.9 410.6,97.3 410.9,96.7 411.2,98.0 411.5,97.3 411.9,96.1 412.2,97.1 412.5,98.5 412.8,96.1 413.1,97.6 413.4,98.5 413.7,97.0 414.0,97.6 414.3,97.0 414.6,96.8 414.9,97.6 415.2,97.5 415.6,96.9 415.9,97.3 416.2,97.4 416.5,97.9 416.8,96.2 417.1,96.3 417.4,96.7 417.7,96.7 418.0,98.0 418.3,97.1 418.6,98.2 418.9,97.0 419.3,96.8 419.6,97.7 419.9,96.3 420.2,98.5 420.5,98.1 420.8,96.9 421.1,96.8 421.4,98.1 421.7,98.0 422.0,97.6 422.3,96.2 422.7,97.9 423.0,96.1 423.3,97.6 423.6,97.4 423.9,98.4 424.2,97.6 424.5,96.1 424.8,98.4 425.1,97.9 425.4,97.5 425.7,96.1 426.0,97.9 426.4,97.1 426.7,97.8 427.0,98.5 427.3,98.4 427.6,96.3 427.9,98.0 428.2,97.2 428.5,97.9 428.8,97.0 429.1,97.2 429.4,97.2 429.7,96.4 430.1,96.9 430.4,97.9 430.7,96.3 431.0,96.4 431.3,98.2 431.6,97.8 431.9,97.5 432.2,96.4 432.5,96.4 432.8,96.9 433.1,98.5 433.4,97.5 433.8,98.4 434.1,96.6 434.4,97.1 434.7,97.4 435.0,98.2 435.3,96.4 435.6,98.3 435.9,97.3 436.2,96.2 436.5,97.2 436.8,97.1 437.1,97.8 437.5,98.4 437.8,97.4 438.1,97.8 438.4,97.1 438.7,98.1 439.0,96.4 439.3,98.0 439.6,96.5 439.9,97.6 440.2,96.6 440.5,97.0 440.8,96.5 441.2,97.0 441.5,97.6 441.8,97.4 442.1,97.1 442.4,97.6 442.7,98.2 443.0,97.0 443.3,97.6 443.6,97.3 443.9,98.6 444.2,97.0 444.5,97.9 444.9,96.7 445.2,96.8 445.5,98.0 445.8,97.6 446.1,96.8 446.4,96.3 446.7,98.2 447.0,97.1 447.3,97.9 447.6,97.2 447.9,97.7 448.2,97.6 448.6,98.6 448.9,98.4 449.2,97.3 449.5,97.4 449.8,96.7 450.1,98.0 450.4,96.4 450.7,96.9 451.0,98.3 451.3,96.3 451.6,97.9 451.9,97.6 452.3,97.5 452.6,97.0 452.9,96.5 453.2,98.5 453.5,98.1 453.8,98.2 454.1,96.4 454.4,98.1 454.7,96.7 455.0,96.7 455.3,97.5 455.6,97.7 456.0,96.5 456.3,98.1 456.6,97.6 456.9,98.4 457.2,98.5 457.5,97.9 457.8,97.1 458.1,98.6 458.4,98.0 458.7,96.9 459.0,98.3 459.4,98.0 459.7,96.8 460.0,96.8 460.3,96.2 460.6,97.5 460.9,96.8 461.2,96.9 461.5,96.8 461.8,96.5 462.1,97.4 462.4,96.9 462.7,96.9 463.1,96.9 463.4,97.5 463.7,98.4 464.0,96.6 464.3,98.3 464.6,98.3 464.9,97.7 465.2,97.6 465.5,98.0 465.8,97.5 466.1,97.8 466.4,98.5 466.8,98.1 467.1,96.8 467.4,96.3 467.7,98.5 468.0,97.1 468.3,98.2 468.6,96.8 468.9,97.3 469.2,97.1 469.5,98.0 469.8,98.6 470.1,97.5 470.5,97.6" fill="none" stroke="#000" stroke-width="2.5" stroke-linejoin="round"/>
<polyline points="392.7,84.3 393.5,82.9 394.3,81.6 395.0,80.3 395.8,79.0 396.6,77.8 397.3,76.7 398.1,75.5 398.9,74.4 399.6,73.3 400.4,72.3 401.2,71.3 402.0,70.3 402.7,69.4 403.5,68.5 404.3,67.6 405.0,66.7 405.8,65.9 406.6,65.1 407.4,64.3 408.1,63.5 408.9,62.8 409.7,62.1 410.4,61.4 411.2,60.7 412.0,60.0 412.8,59.4 413.5,58.8 414.3,58.2 415.1,57.6 415.8,57.1 416.6,56.5 417.4,56.0 418.2,55.5 418.9,55.0 419.7,54.5 420.5,54.1 421.2,53.6 422.0,53.2 422.8,53.0" fill="none" stroke="#fff" stroke-width="0.6" stroke-dasharray="3 4"/>
<polyline points="424.8,86.7 425.6,86.9 426.4,87.2 427.1,87.4 427.9,87.6 428.7,87.8 429.5,88.0 430.2,88.1 431.0,88.3 431.8,88.5 432.5,88.6 433.3,88.8 434.1,88.9 434.9,89.1 435.6,89.2 436.4,89.3 437.2,89.5 437.9,89.6 438.7,89.7 439.5,89.8 440.3,89.9 441.0,90.0 441.8,90.1 442.6,90.2 443.3,90.3 444.1,90.4 444.9,90.5 445.7,90.6 446.4,90.7 447.2,90.7 448.0,90.8 448.7,90.9 449.5,91.0 450.3,91.0 451.0,91.1 451.8,91.2 452.6,91.3 453.4,91.3 454.1,91.4 454.9,91.4 455.7,91.5 456.4,91.6 457.2,91.6 458.0,91.7 458.8,91.7 459.5,91.8 460.3,91.9 461.1,91.9 461.8,92.0 462.6,92.0 463.4,92.1 464.2,92.1 464.9,92.2 465.7,92.2 466.5,92.3 467.2,92.3 468.0,92.4 468.8,92.4 469.6,92.5" fill="none" stroke="#fff" stroke-width="0.6" stroke-dasharray="3 4"/>
<polyline points="400.4,93.7 401.2,93.6 402.0,93.4 402.7,93.2 403.5,93.1 404.3,92.9 405.0,92.8 405.8,92.6 406.6,92.5 407.4,92.3 408.1,92.2 408.9,92.0 409.7,91.9 410.4,91.8 411.2,91.6 412.0,91.5 412.8,91.4 413.5,91.3 414.3,91.2 415.1,91.0 415.8,90.9 416.6,90.8 417.4,90.7 418.2,90.6 418.9,90.5 419.7,90.4 420.5,90.3 421.2,90.2 422.0,90.1 422.8,90.0 423.6,90.2 424.3,90.4 425.1,90.5 425.9,90.7 426.6,90.8 427.4,91.0 428.2,91.1 428.9,91.2 429.7,91.3 430.5,91.5 431.3,91.6 432.0,91.7 432.8,91.8 433.6,91.9 434.3,92.0 435.1,92.1 435.9,92.1 436.7,92.2 437.4,92.3 438.2,92.4 439.0,92.5 439.7,92.5 440.5,92.6 441.3,92.7 442.1,92.7 442.8,92.8 443.6,92.9 444.4,92.9 445.1,93.0 445.9,93.0 446.7,93.1 447.5,93.1 448.2,93.2 449.0,93.2" fill="none" stroke="#fff" stroke-width="0.6" stroke-dasharray="3 4"/>
<line x1="378.90" y1="31.10" x2="378.90" y2="103.80" stroke="#000" stroke-width="1.2"/>
<line x1="378.30" y1="103.80" x2="488.30" y2="103.80" stroke="#000" stroke-width="1.2"/>
<line x1="376.50" y1="97.60" x2="378.90" y2="97.60" stroke="#000" stroke-width="1"/>
<text x="375.50" y="100.30" font-size="7.6" font-weight="bold" text-anchor="end" fill="#000" class="b">0</text>
<line x1="376.50" y1="81.10" x2="378.90" y2="81.10" stroke="#000" stroke-width="1"/>
<text x="375.50" y="83.80" font-size="7.6" font-weight="bold" text-anchor="end" fill="#000" class="b">25</text>
<line x1="376.50" y1="64.60" x2="378.90" y2="64.60" stroke="#000" stroke-width="1"/>
<text x="375.50" y="67.30" font-size="7.6" font-weight="bold" text-anchor="end" fill="#000" class="b">50</text>
<line x1="376.50" y1="48.10" x2="378.90" y2="48.10" stroke="#000" stroke-width="1"/>
<text x="375.50" y="50.80" font-size="7.6" font-weight="bold" text-anchor="end" fill="#000" class="b">75</text>
<line x1="376.50" y1="31.60" x2="378.90" y2="31.60" stroke="#000" stroke-width="1"/>
<text x="375.50" y="34.30" font-size="7.6" font-weight="bold" text-anchor="end" fill="#000" class="b">100</text>
<line x1="385.00" y1="103.80" x2="385.00" y2="106.00" stroke="#000" stroke-width="1"/>
<text x="385.00" y="113.90" font-size="7.6" font-weight="bold" text-anchor="middle" fill="#000" class="b">0</text>
<line x1="410.70" y1="103.80" x2="410.70" y2="106.00" stroke="#000" stroke-width="1"/>
<text x="410.70" y="113.90" font-size="7.6" font-weight="bold" text-anchor="middle" fill="#000" class="b">200</text>
<line x1="436.40" y1="103.80" x2="436.40" y2="106.00" stroke="#000" stroke-width="1"/>
<text x="436.40" y="113.90" font-size="7.6" font-weight="bold" text-anchor="middle" fill="#000" class="b">400</text>
<line x1="462.10" y1="103.80" x2="462.10" y2="106.00" stroke="#000" stroke-width="1"/>
<text x="462.10" y="113.90" font-size="7.6" font-weight="bold" text-anchor="middle" fill="#000" class="b">600</text>
<line x1="487.80" y1="103.80" x2="487.80" y2="106.00" stroke="#000" stroke-width="1"/>
<text x="487.80" y="113.90" font-size="7.6" font-weight="bold" text-anchor="middle" fill="#000" class="b">800</text>
<text x="433.00" y="123.80" font-size="7.0" font-weight="bold" text-anchor="middle" fill="#000" class="b">time, s</text>
<text transform="translate(362.60,68.20) rotate(-90)" font-size="6.6" font-weight="bold" text-anchor="middle" class="b">Response, RU</text>
<text x="405.50" y="9.20" font-size="8.4" font-weight="bold" text-anchor="start" fill="#000" class="b" textLength="55.7" lengthAdjust="spacingAndGlyphs">WT C3 - MCP</text>
<text x="448.00" y="57.40" font-size="6.8" font-weight="normal" text-anchor="start" fill="#000" stroke="#000" stroke-width="0.2">C3 concentration</text>
<text x="475.70" y="72.30" font-size="6.8" font-weight="normal" text-anchor="start" fill="#000" stroke="#000" stroke-width="0.2">1 nM</text>
<text x="475.70" y="79.20" font-size="6.8" font-weight="normal" text-anchor="start" fill="#000" stroke="#000" stroke-width="0.2">0.5 nM</text>
<text x="475.70" y="86.20" font-size="6.8" font-weight="normal" text-anchor="start" fill="#000" stroke="#000" stroke-width="0.2">0.25 nM</text>
<text x="475.70" y="92.30" font-size="6.8" font-weight="normal" text-anchor="start" fill="#000" stroke="#000" stroke-width="0.2">0.125 nM</text>
<text x="475.70" y="98.20" font-size="6.8" font-weight="normal" text-anchor="start" fill="#000" stroke="#000" stroke-width="0.2">0.0625 nM</text>
<text x="475.70" y="103.40" font-size="6.8" font-weight="normal" text-anchor="start" fill="#000" stroke="#000" stroke-width="0.2">0 nM</text>
<polyline points="380.6,231.6 381.0,231.3 381.3,233.1 381.6,231.0 381.9,233.1 382.2,232.4 382.5,230.9 382.8,233.0 383.1,231.0 383.4,232.2 383.7,231.0 384.0,233.2 384.3,231.5 384.6,232.9 385.0,230.9 385.3,232.4 385.6,230.9 385.9,230.8 386.2,232.2 386.5,233.2 386.8,232.5 387.1,232.9 387.4,232.7 387.7,232.0 388.0,230.4 388.3,231.1 388.6,229.7 389.0,230.1 389.3,229.2 389.6,229.1 389.9,227.9 390.2,228.8 390.5,227.6 390.8,227.4 391.1,225.9 391.4,226.5 391.7,226.3 392.0,226.9 392.3,225.5 392.6,224.1 393.0,224.1 393.3,223.8 393.6,224.4 393.9,224.6 394.2,224.3 394.5,223.9 394.8,223.5 395.1,223.0 395.4,222.9 395.7,220.2 396.0,221.1 396.3,221.0 396.6,221.0 397.0,220.5 397.3,220.2 397.6,220.7 397.9,218.2 398.2,219.0 398.5,219.9 398.8,217.3 399.1,217.2 399.4,218.8 399.7,218.8 400.0,216.2 400.3,215.9 400.6,217.7 401.0,217.1 401.3,216.4 401.6,216.3 401.9,216.5 402.2,216.4 402.5,214.1 402.8,214.1 403.1,215.7 403.4,215.9 403.7,215.3 404.0,214.1 404.3,213.7 404.6,213.5 405.0,212.5 405.3,214.1 405.6,212.7 405.9,213.3 406.2,213.0 406.5,212.3 406.8,213.0 407.1,212.2 407.4,211.5 407.7,212.9 408.0,211.0 408.3,210.8 408.6,210.8 409.0,211.2 409.3,211.8 409.6,210.6 409.9,210.2 410.2,211.1 410.5,209.9 410.8,210.4 411.1,209.6 411.4,211.0 411.7,209.1 412.0,209.1 412.3,209.2 412.6,209.1 413.0,209.9 413.3,209.7 413.6,209.8 413.9,209.1 414.2,207.8 414.5,209.4 414.8,208.0 415.1,207.8 415.4,208.2 415.7,209.5 416.0,207.8 416.3,207.7 416.6,209.0 417.0,209.0 417.3,207.4 417.6,206.7 417.9,208.2 418.2,208.1 418.5,206.9 418.8,207.9 419.1,206.8 419.4,206.5 419.7,207.1 420.0,207.4 420.3,206.7 420.6,207.4 421.0,205.3 421.3,206.5 421.6,206.1 421.9,205.2 422.2,207.2 422.5,205.2 422.8,205.3 423.1,206.9 423.4,207.0 423.7,207.0 424.0,205.6 424.3,207.3 424.6,205.4 425.0,207.0 425.3,207.7 425.6,206.0 425.9,206.0 426.2,207.4 426.5,208.1 426.8,207.8 427.1,208.5 427.4,207.4 427.7,207.3 428.0,206.8 428.3,207.3 428.6,209.1 429.0,207.0 429.3,207.4 429.6,207.9 429.9,207.3 430.2,208.1 430.5,207.9 430.8,207.8 431.1,208.9 431.4,209.1 431.7,209.3 432.0,209.8 432.3,209.4 432.6,210.5 433.0,208.4 433.3,208.9 433.6,208.6 433.9,209.3 434.2,210.5 434.5,211.0 434.8,210.1 435.1,209.3 435.4,209.8 435.7,210.5 436.0,209.9 436.3,211.2 436.6,211.8 437.0,210.6 437.3,211.0 437.6,211.7 437.9,210.8 438.2,210.2 438.5,212.2 438.8,212.4 439.1,210.1 439.4,212.0 439.7,211.2 440.0,210.4 440.3,210.7 440.6,210.8 441.0,212.3 441.3,211.1 441.6,210.6 441.9,211.2 442.2,212.7 442.5,212.1 442.8,212.5 443.1,212.1 443.4,211.5 443.7,211.1 444.0,211.9 444.3,211.3 444.6,211.9 445.0,212.9 445.3,212.3 445.6,212.7 445.9,213.1 446.2,212.4 446.5,212.6 446.8,213.9 447.1,213.3 447.4,212.9 447.7,213.3 448.0,213.1 448.3,212.9 448.6,214.4 449.0,212.7 449.3,214.6 449.6,214.4 449.9,214.5 450.2,212.8 450.5,213.7 450.8,215.0 451.1,213.3 451.4,213.0 451.7,214.5 452.0,213.3 452.3,214.2 452.6,213.2 453.0,215.3 453.3,213.6 453.6,213.2 453.9,214.8 454.2,214.0 454.5,214.5 454.8,214.4 455.1,215.5 455.4,214.6 455.7,214.3 456.0,213.4 456.3,214.7 456.6,214.2 457.0,215.0 457.3,215.2 457.6,214.8 457.9,213.9 458.2,215.0 458.5,215.0 458.8,215.4 459.1,216.3 459.4,214.6 459.7,215.1 460.0,214.2 460.3,216.1 460.6,214.7 461.0,216.2 461.3,216.2 461.6,214.9 461.9,216.5 462.2,215.6 462.5,215.4 462.8,215.8 463.1,216.8 463.4,215.7 463.7,215.7 464.0,215.3 464.3,216.7 464.6,215.9 465.0,215.6 465.3,215.2 465.6,215.3 465.9,216.9 466.2,216.9 466.5,217.4 466.8,217.2 467.1,216.7 467.4,217.0 467.7,216.8 468.0,217.1 468.3,217.1 468.6,215.6 469.0,217.3 469.3,216.0 469.6,215.9 469.9,217.6 470.2,215.4 470.5,216.7 470.8,216.3 471.1,217.5 471.4,217.1" fill="none" stroke="#000" stroke-width="2.6" stroke-linejoin="round"/>
<polyline points="380.6,233.0 381.0,233.1 381.3,232.4 381.6,230.9 381.9,232.4 382.2,231.0 382.5,233.2 382.8,232.9 383.1,231.5 383.4,231.2 383.7,232.5 384.0,232.6 384.3,233.2 384.6,232.3 385.0,231.1 385.3,232.6 385.6,230.9 385.9,232.9 386.2,232.7 386.5,232.7 386.8,232.9 387.1,232.2 387.4,233.1 387.7,232.3 388.0,231.7 388.3,231.2 388.6,230.9 389.0,229.8 389.3,229.9 389.6,231.3 389.9,229.6 390.2,230.5 390.5,230.5 390.8,230.1 391.1,229.5 391.4,228.8 391.7,228.4 392.0,228.0 392.3,229.0 392.6,228.9 393.0,229.3 393.3,227.6 393.6,228.9 393.9,228.7 394.2,226.9 394.5,228.4 394.8,227.4 395.1,228.1 395.4,227.4 395.7,226.2 396.0,225.9 396.3,226.3 396.6,226.1 397.0,224.8 397.3,226.7 397.6,225.7 397.9,225.4 398.2,225.9 398.5,224.6 398.8,224.3 399.1,225.1 399.4,224.1 399.7,224.2 400.0,223.4 400.3,223.2 400.6,223.9 401.0,224.2 401.3,225.1 401.6,224.2 401.9,223.5 402.2,223.4 402.5,222.8 402.8,223.3 403.1,224.4 403.4,222.2 403.7,222.9 404.0,223.4 404.3,223.5 404.6,222.8 405.0,223.0 405.3,223.6 405.6,223.4 405.9,221.7 406.2,222.3 406.5,223.4 406.8,222.1 407.1,221.1 407.4,222.5 407.7,220.6 408.0,220.8 408.3,221.7 408.6,220.9 409.0,221.9 409.3,221.9 409.6,220.8 409.9,221.8 410.2,221.4 410.5,221.5 410.8,220.8 411.1,220.7 411.4,219.8 411.7,220.6 412.0,221.8 412.3,221.5 412.6,219.4 413.0,219.3 413.3,219.8 413.6,220.8 413.9,220.0 414.2,219.2 414.5,219.9 414.8,220.2 415.1,220.6 415.4,219.7 415.7,220.2 416.0,220.2 416.3,220.0 416.6,218.5 417.0,220.1 417.3,218.6 417.6,218.4 417.9,219.4 418.2,218.2 418.5,218.3 418.8,219.0 419.1,219.2 419.4,218.2 419.7,220.3 420.0,220.0 420.3,219.0 420.6,219.2 421.0,218.5 421.3,220.1 421.6,217.9 421.9,218.3 422.2,218.1 422.5,219.7 422.8,218.7 423.1,218.4 423.4,218.4 423.7,219.6 424.0,218.1 424.3,219.5 424.6,219.4 425.0,218.8 425.3,218.6 425.6,218.9 425.9,219.0 426.2,218.7 426.5,219.6 426.8,219.1 427.1,218.9 427.4,220.1 427.7,219.4 428.0,219.5 428.3,220.6 428.6,219.6 429.0,219.4 429.3,220.8 429.6,221.1 429.9,220.6 430.2,219.7 430.5,220.5 430.8,220.7 431.1,219.6 431.4,220.8 431.7,221.4 432.0,220.7 432.3,220.8 432.6,220.2 433.0,220.8 433.3,219.8 433.6,221.2 433.9,220.7 434.2,221.9 434.5,220.3 434.8,221.3 435.1,219.6 435.4,220.6 435.7,221.6 436.0,220.3 436.3,221.3 436.6,220.3 437.0,220.8 437.3,222.3 437.6,220.4 437.9,222.2 438.2,220.1 438.5,221.5 438.8,222.1 439.1,222.2 439.4,221.1 439.7,221.7 440.0,222.0 440.3,222.2 440.6,222.2 441.0,221.8 441.3,221.0 441.6,222.2 441.9,221.9 442.2,221.9 442.5,223.0 442.8,220.9 443.1,222.6 443.4,221.5 443.7,222.5 444.0,223.1 444.3,221.4 444.6,222.2 445.0,222.1 445.3,222.1 445.6,221.3 445.9,222.5 446.2,223.2 446.5,222.6 446.8,221.7 447.1,223.1 447.4,222.1 447.7,221.5 448.0,222.6 448.3,222.3 448.6,222.5 449.0,223.7 449.3,222.7 449.6,223.7 449.9,222.2 450.2,223.2 450.5,221.6 450.8,222.1 451.1,223.2 451.4,223.2 451.7,223.6 452.0,222.5 452.3,222.2 452.6,222.5 453.0,222.9 453.3,221.7 453.6,222.6 453.9,223.3 454.2,222.1 454.5,222.5 454.8,223.9 455.1,224.1 455.4,222.4 455.7,222.3 456.0,222.1 456.3,222.1 456.6,223.9 457.0,223.8 457.3,222.6 457.6,223.2 457.9,223.7 458.2,222.1 458.5,224.1 458.8,224.2 459.1,222.6 459.4,223.9 459.7,223.9 460.0,223.0 460.3,224.4 460.6,222.8 461.0,223.4 461.3,223.0 461.6,223.4 461.9,224.3 462.2,223.8 462.5,223.9 462.8,224.8 463.1,223.0 463.4,223.0 463.7,224.0 464.0,222.8 464.3,224.9 464.6,223.4 465.0,223.6 465.3,223.6 465.6,224.6 465.9,224.9 466.2,224.3 466.5,223.1 466.8,223.5 467.1,224.4 467.4,223.2 467.7,224.9 468.0,224.9 468.3,223.3 468.6,223.7 469.0,223.4 469.3,224.6 469.6,222.9 469.9,224.6 470.2,223.0 470.5,225.0 470.8,224.3 471.1,224.4 471.4,223.2" fill="none" stroke="#000" stroke-width="2.6" stroke-linejoin="round"/>
<polyline points="380.6,230.9 381.0,231.6 381.3,233.2 381.6,232.3 381.9,232.9 382.2,230.9 382.5,231.0 382.8,230.8 383.1,232.5 383.4,231.2 383.7,231.4 384.0,232.4 384.3,232.5 384.6,231.6 385.0,231.9 385.3,231.5 385.6,232.2 385.9,231.6 386.2,231.6 386.5,231.4 386.8,231.5 387.1,231.4 387.4,230.8 387.7,231.5 388.0,232.0 388.3,231.1 388.6,230.5 389.0,232.2 389.3,231.1 389.6,231.0 389.9,230.4 390.2,231.7 390.5,231.2 390.8,230.7 391.1,230.6 391.4,230.6 391.7,230.0 392.0,229.6 392.3,229.4 392.6,229.6 393.0,229.3 393.3,229.4 393.6,229.2 393.9,229.7 394.2,229.9 394.5,228.1 394.8,227.5 395.1,228.0 395.4,227.2 395.7,229.0 396.0,228.5 396.3,227.5 396.6,227.2 397.0,228.8 397.3,228.6 397.6,228.1 397.9,228.0 398.2,228.1 398.5,227.2 398.8,227.0 399.1,227.3 399.4,228.0 399.7,228.2 400.0,227.9 400.3,227.6 400.6,225.6 401.0,226.0 401.3,227.7 401.6,226.5 401.9,226.4 402.2,225.8 402.5,227.1 402.8,226.1 403.1,227.3 403.4,224.9 403.7,227.1 404.0,224.6 404.3,224.8 404.6,225.4 405.0,225.9 405.3,224.5 405.6,225.6 405.9,226.5 406.2,225.1 406.5,225.9 406.8,225.4 407.1,225.3 407.4,224.2 407.7,224.9 408.0,225.9 408.3,225.3 408.6,224.1 409.0,224.6 409.3,224.8 409.6,224.2 409.9,224.8 410.2,224.9 410.5,223.3 410.8,223.7 411.1,224.8 411.4,223.6 411.7,223.2 412.0,224.9 412.3,223.8 412.6,225.3 413.0,224.2 413.3,223.0 413.6,224.3 413.9,223.4 414.2,224.7 414.5,224.4 414.8,224.5 415.1,222.7 415.4,222.6 415.7,224.4 416.0,222.8 416.3,222.9 416.6,222.4 417.0,222.7 417.3,223.4 417.6,224.6 417.9,223.0 418.2,222.8 418.5,224.2 418.8,222.5 419.1,223.6 419.4,223.5 419.7,224.3 420.0,222.0 420.3,223.3 420.6,222.8 421.0,223.9 421.3,222.4 421.6,223.6 421.9,222.2 422.2,223.0 422.5,224.1 422.8,222.3 423.1,222.3 423.4,223.9 423.7,223.3 424.0,221.8 424.3,222.2 424.6,222.4 425.0,222.5 425.3,224.0 425.6,223.7 425.9,224.4 426.2,223.7 426.5,223.6 426.8,223.0 427.1,223.9 427.4,223.4 427.7,222.4 428.0,223.5 428.3,223.3 428.6,223.7 429.0,222.5 429.3,222.5 429.6,224.9 429.9,223.4 430.2,223.4 430.5,223.0 430.8,224.1 431.1,224.9 431.4,223.1 431.7,224.0 432.0,224.0 432.3,224.7 432.6,224.2 433.0,223.5 433.3,223.4 433.6,224.7 433.9,223.2 434.2,225.2 434.5,223.1 434.8,223.5 435.1,224.3 435.4,225.2 435.7,224.7 436.0,225.1 436.3,225.1 436.6,225.1 437.0,223.4 437.3,225.4 437.6,223.7 437.9,223.8 438.2,223.5 438.5,223.5 438.8,225.7 439.1,224.4 439.4,223.7 439.7,223.7 440.0,225.7 440.3,225.1 440.6,225.9 441.0,223.7 441.3,224.0 441.6,224.4 441.9,224.2 442.2,224.0 442.5,224.3 442.8,225.4 443.1,224.2 443.4,224.3 443.7,225.2 444.0,224.8 444.3,224.3 444.6,225.4 445.0,225.2 445.3,225.0 445.6,225.2 445.9,224.1 446.2,225.6 446.5,224.6 446.8,224.9 447.1,224.1 447.4,226.4 447.7,225.6 448.0,225.2 448.3,225.6 448.6,226.6 449.0,224.6 449.3,225.2 449.6,226.1 449.9,225.2 450.2,226.1 450.5,226.6 450.8,224.5 451.1,225.1 451.4,225.1 451.7,226.3 452.0,226.4 452.3,226.2 452.6,226.8 453.0,225.0 453.3,225.5 453.6,226.7 453.9,226.5 454.2,224.9 454.5,227.0 454.8,226.5 455.1,226.8 455.4,225.5 455.7,226.2 456.0,227.1 456.3,226.9 456.6,226.2 457.0,227.0 457.3,227.2 457.6,226.9 457.9,226.4 458.2,227.2 458.5,225.2 458.8,225.8 459.1,226.3 459.4,225.2 459.7,226.8 460.0,225.0 460.3,226.5 460.6,225.6 461.0,225.7 461.3,226.5 461.6,225.4 461.9,226.1 462.2,227.1 462.5,227.5 462.8,225.7 463.1,226.0 463.4,226.8 463.7,225.5 464.0,227.2 464.3,225.6 464.6,226.5 465.0,226.0 465.3,225.1 465.6,225.2 465.9,225.2 466.2,226.0 466.5,225.9 466.8,227.7 467.1,226.8 467.4,225.4 467.7,227.0 468.0,225.9 468.3,226.5 468.6,227.1 469.0,227.5 469.3,227.7 469.6,226.4 469.9,226.1 470.2,226.4 470.5,226.2 470.8,227.2 471.1,226.6 471.4,227.1" fill="none" stroke="#000" stroke-width="2.6" stroke-linejoin="round"/>
<polyline points="380.6,231.1 381.0,232.7 381.3,233.2 381.6,231.3 381.9,232.3 382.2,231.2 382.5,230.8 382.8,231.8 383.1,231.2 383.4,232.6 383.7,232.2 384.0,232.4 384.3,233.2 384.6,230.9 385.0,231.0 385.3,230.8 385.6,231.9 385.9,232.8 386.2,232.5 386.5,232.1 386.8,232.9 387.1,231.7 387.4,231.0 387.7,232.3 388.0,230.7 388.3,231.1 388.6,230.5 389.0,230.7 389.3,230.4 389.6,231.4 389.9,230.3 390.2,231.4 390.5,231.9 390.8,230.6 391.1,229.9 391.4,231.2 391.7,231.3 392.0,231.6 392.3,230.6 392.6,230.6 393.0,231.2 393.3,230.7 393.6,231.4 393.9,229.6 394.2,230.7 394.5,230.3 394.8,229.8 395.1,228.6 395.4,229.6 395.7,229.0 396.0,229.8 396.3,229.5 396.6,229.4 397.0,228.2 397.3,228.4 397.6,229.5 397.9,229.6 398.2,230.3 398.5,229.7 398.8,228.4 399.1,228.8 399.4,228.8 399.7,229.5 400.0,228.4 400.3,229.7 400.6,228.5 401.0,228.3 401.3,228.4 401.6,228.1 401.9,229.6 402.2,227.2 402.5,228.0 402.8,227.2 403.1,228.6 403.4,227.2 403.7,227.2 404.0,227.8 404.3,228.2 404.6,228.6 405.0,227.7 405.3,227.3 405.6,227.5 405.9,228.7 406.2,227.0 406.5,226.4 406.8,228.6 407.1,227.5 407.4,226.6 407.7,226.6 408.0,228.4 408.3,228.0 408.6,226.3 409.0,227.8 409.3,226.6 409.6,227.1 409.9,227.5 410.2,226.1 410.5,228.3 410.8,226.7 411.1,226.2 411.4,227.8 411.7,226.1 412.0,225.8 412.3,227.4 412.6,226.9 413.0,227.9 413.3,227.6 413.6,226.1 413.9,225.7 414.2,227.1 414.5,226.7 414.8,226.2 415.1,227.8 415.4,226.0 415.7,227.0 416.0,225.6 416.3,227.7 416.6,227.7 417.0,226.9 417.3,226.1 417.6,227.1 417.9,227.5 418.2,227.2 418.5,225.3 418.8,226.4 419.1,225.5 419.4,226.5 419.7,227.5 420.0,227.2 420.3,225.7 420.6,226.4 421.0,225.8 421.3,225.4 421.6,226.8 421.9,226.9 422.2,225.8 422.5,226.0 422.8,226.7 423.1,226.7 423.4,226.0 423.7,225.2 424.0,225.1 424.3,225.4 424.6,227.0 425.0,226.2 425.3,226.6 425.6,226.0 425.9,226.0 426.2,225.6 426.5,227.6 426.8,226.7 427.1,225.5 427.4,227.0 427.7,226.8 428.0,226.8 428.3,227.2 428.6,226.9 429.0,227.6 429.3,227.8 429.6,226.4 429.9,227.1 430.2,226.4 430.5,226.5 430.8,226.4 431.1,227.2 431.4,226.5 431.7,226.5 432.0,227.7 432.3,227.6 432.6,227.4 433.0,227.8 433.3,226.7 433.6,227.3 433.9,226.4 434.2,226.6 434.5,226.0 434.8,227.8 435.1,228.1 435.4,226.6 435.7,226.8 436.0,226.2 436.3,226.3 436.6,227.5 437.0,228.2 437.3,226.2 437.6,226.6 437.9,227.9 438.2,226.6 438.5,228.2 438.8,226.9 439.1,227.3 439.4,226.6 439.7,226.8 440.0,227.2 440.3,226.8 440.6,228.0 441.0,226.3 441.3,227.8 441.6,228.2 441.9,227.0 442.2,226.7 442.5,226.6 442.8,226.5 443.1,228.3 443.4,227.8 443.7,226.4 444.0,227.5 444.3,227.9 444.6,227.2 445.0,226.5 445.3,227.5 445.6,227.3 445.9,228.9 446.2,227.3 446.5,228.8 446.8,228.6 447.1,227.9 447.4,226.8 447.7,228.5 448.0,226.8 448.3,227.9 448.6,226.8 449.0,226.8 449.3,227.6 449.6,227.0 449.9,229.1 450.2,228.1 450.5,228.9 450.8,229.0 451.1,228.6 451.4,228.3 451.7,227.9 452.0,228.6 452.3,228.4 452.6,227.1 453.0,228.1 453.3,227.8 453.6,228.0 453.9,228.5 454.2,228.5 454.5,228.2 454.8,228.8 455.1,228.9 455.4,227.1 455.7,227.2 456.0,227.0 456.3,227.3 456.6,229.3 457.0,227.7 457.3,228.0 457.6,228.1 457.9,228.3 458.2,227.6 458.5,228.9 458.8,227.8 459.1,229.1 459.4,229.0 459.7,227.0 460.0,228.4 460.3,227.2 460.6,229.2 461.0,227.2 461.3,227.7 461.6,229.0 461.9,228.5 462.2,228.7 462.5,228.1 462.8,228.4 463.1,227.6 463.4,228.2 463.7,227.7 464.0,228.8 464.3,227.4 464.6,227.5 465.0,227.6 465.3,228.5 465.6,228.6 465.9,227.2 466.2,229.6 466.5,229.3 466.8,228.1 467.1,227.6 467.4,229.3 467.7,229.7 468.0,227.7 468.3,229.1 468.6,229.3 469.0,229.6 469.3,227.8 469.6,227.6 469.9,227.7 470.2,227.9 470.5,229.5 470.8,229.6 471.1,228.5 471.4,227.6" fill="none" stroke="#000" stroke-width="2.5" stroke-linejoin="round"/>
<polyline points="380.6,231.6 381.0,231.4 381.3,232.4 381.6,232.6 381.9,232.7 382.2,231.8 382.5,231.9 382.8,231.9 383.1,231.7 383.4,231.9 383.7,232.5 384.0,232.5 384.3,231.6 384.6,232.2 385.0,231.1 385.3,230.9 385.6,231.7 385.9,231.6 386.2,230.8 386.5,230.9 386.8,231.8 387.1,233.1 387.4,232.8 387.7,230.8 388.0,231.5 388.3,231.5 388.6,231.3 389.0,230.8 389.3,231.9 389.6,232.5 389.9,231.3 390.2,230.7 390.5,230.5 390.8,230.2 391.1,232.0 391.4,230.6 391.7,231.8 392.0,231.9 392.3,230.1 392.6,230.3 393.0,230.6 393.3,231.7 393.6,231.6 393.9,230.4 394.2,230.8 394.5,230.5 394.8,230.7 395.1,231.5 395.4,230.1 395.7,231.5 396.0,231.7 396.3,230.9 396.6,231.7 397.0,231.6 397.3,229.7 397.6,231.7 397.9,229.7 398.2,231.1 398.5,229.4 398.8,229.8 399.1,230.1 399.4,231.1 399.7,230.7 400.0,229.4 400.3,231.1 400.6,231.0 401.0,230.1 401.3,228.9 401.6,229.5 401.9,229.5 402.2,229.7 402.5,231.0 402.8,230.1 403.1,230.7 403.4,228.8 403.7,229.2 404.0,230.4 404.3,229.4 404.6,229.1 405.0,228.6 405.3,228.6 405.6,229.4 405.9,229.8 406.2,229.4 406.5,229.8 406.8,229.0 407.1,228.3 407.4,230.0 407.7,229.1 408.0,229.5 408.3,229.1 408.6,228.9 409.0,228.3 409.3,228.9 409.6,228.9 409.9,228.4 410.2,228.2 410.5,229.3 410.8,228.1 411.1,230.2 411.4,228.9 411.7,229.1 412.0,229.3 412.3,228.0 412.6,228.2 413.0,229.9 413.3,229.3 413.6,229.1 413.9,228.7 414.2,229.7 414.5,229.1 414.8,229.8 415.1,229.9 415.4,230.0 415.7,229.6 416.0,229.5 416.3,228.9 416.6,229.1 417.0,229.2 417.3,229.0 417.6,229.7 417.9,229.8 418.2,227.8 418.5,229.5 418.8,229.2 419.1,229.1 419.4,229.9 419.7,227.7 420.0,228.8 420.3,228.5 420.6,230.0 421.0,228.0 421.3,229.0 421.6,227.9 421.9,229.4 422.2,228.7 422.5,229.4 422.8,228.3 423.1,229.7 423.4,227.5 423.7,228.0 424.0,229.3 424.3,229.7 424.6,229.5 425.0,228.2 425.3,227.8 425.6,229.4 425.9,229.4 426.2,227.8 426.5,230.0 426.8,229.0 427.1,227.8 427.4,228.9 427.7,228.5 428.0,228.0 428.3,229.9 428.6,230.1 429.0,228.1 429.3,228.9 429.6,228.5 429.9,229.5 430.2,228.1 430.5,228.7 430.8,228.9 431.1,229.0 431.4,229.0 431.7,229.4 432.0,230.2 432.3,230.2 432.6,230.2 433.0,230.0 433.3,228.5 433.6,228.6 433.9,229.1 434.2,229.6 434.5,229.5 434.8,228.9 435.1,230.5 435.4,228.8 435.7,228.1 436.0,228.3 436.3,228.6 436.6,229.9 437.0,230.2 437.3,228.2 437.6,228.7 437.9,228.7 438.2,230.1 438.5,230.4 438.8,228.8 439.1,228.4 439.4,230.6 439.7,230.6 440.0,230.0 440.3,229.4 440.6,230.1 441.0,230.1 441.3,229.5 441.6,228.9 441.9,229.6 442.2,229.9 442.5,229.1 442.8,229.9 443.1,228.6 443.4,230.7 443.7,228.8 444.0,228.9 444.3,230.7 444.6,230.7 445.0,230.6 445.3,230.4 445.6,230.5 445.9,230.4 446.2,229.8 446.5,228.6 446.8,230.2 447.1,230.5 447.4,230.5 447.7,228.5 448.0,228.6 448.3,230.2 448.6,229.6 449.0,230.7 449.3,230.9 449.6,229.6 449.9,230.1 450.2,230.1 450.5,230.2 450.8,229.4 451.1,230.1 451.4,228.7 451.7,230.7 452.0,230.3 452.3,230.5 452.6,229.7 453.0,229.0 453.3,229.7 453.6,230.2 453.9,229.9 454.2,228.8 454.5,228.6 454.8,229.5 455.1,229.2 455.4,229.1 455.7,229.1 456.0,229.6 456.3,230.3 456.6,230.9 457.0,230.3 457.3,228.7 457.6,230.8 457.9,230.1 458.2,230.5 458.5,230.2 458.8,229.5 459.1,229.5 459.4,228.8 459.7,230.3 460.0,228.8 460.3,230.4 460.6,230.9 461.0,230.3 461.3,230.2 461.6,230.7 461.9,231.1 462.2,230.7 462.5,231.2 462.8,229.9 463.1,228.7 463.4,230.3 463.7,230.3 464.0,230.9 464.3,230.3 464.6,229.6 465.0,228.8 465.3,230.8 465.6,230.3 465.9,231.2 466.2,230.2 466.5,230.9 466.8,230.7 467.1,231.3 467.4,229.9 467.7,231.0 468.0,229.8 468.3,228.8 468.6,229.6 469.0,229.7 469.3,231.3 469.6,229.8 469.9,229.5 470.2,230.6 470.5,229.1 470.8,229.6 471.1,229.8 471.4,229.2" fill="none" stroke="#000" stroke-width="2.5" stroke-linejoin="round"/>
<polyline points="380.6,232.2 381.0,231.8 381.3,232.8 381.6,231.6 381.9,233.2 382.2,231.2 382.5,232.1 382.8,231.3 383.1,230.8 383.4,231.5 383.7,233.0 384.0,231.5 384.3,232.0 384.6,232.1 385.0,231.4 385.3,232.1 385.6,230.9 385.9,231.6 386.2,231.5 386.5,232.8 386.8,232.7 387.1,232.5 387.4,232.2 387.7,232.9 388.0,232.6 388.3,230.8 388.6,231.0 389.0,232.5 389.3,232.7 389.6,233.1 389.9,232.5 390.2,231.0 390.5,232.0 390.8,232.1 391.1,232.0 391.4,230.8 391.7,232.9 392.0,231.7 392.3,231.1 392.6,232.9 393.0,231.3 393.3,230.5 393.6,232.0 393.9,231.0 394.2,230.9 394.5,231.0 394.8,231.8 395.1,231.1 395.4,231.9 395.7,232.5 396.0,232.7 396.3,232.4 396.6,232.5 397.0,230.8 397.3,232.2 397.6,230.4 397.9,231.6 398.2,230.3 398.5,230.3 398.8,232.4 399.1,230.4 399.4,231.8 399.7,231.3 400.0,230.0 400.3,232.0 400.6,230.1 401.0,232.2 401.3,232.0 401.6,231.2 401.9,231.1 402.2,230.0 402.5,231.7 402.8,230.0 403.1,231.2 403.4,232.2 403.7,231.6 404.0,230.2 404.3,231.7 404.6,231.6 405.0,230.7 405.3,231.8 405.6,231.3 405.9,230.8 406.2,231.1 406.5,230.5 406.8,230.5 407.1,232.0 407.4,230.6 407.7,231.7 408.0,230.7 408.3,230.2 408.6,229.7 409.0,232.1 409.3,231.6 409.6,232.2 409.9,231.2 410.2,229.8 410.5,230.1 410.8,229.8 411.1,231.2 411.4,231.2 411.7,232.0 412.0,230.4 412.3,230.2 412.6,230.2 413.0,230.0 413.3,229.7 413.6,230.8 413.9,230.6 414.2,230.5 414.5,232.0 414.8,230.4 415.1,231.6 415.4,230.9 415.7,229.8 416.0,229.6 416.3,231.1 416.6,231.7 417.0,229.7 417.3,231.3 417.6,230.1 417.9,231.2 418.2,231.6 418.5,231.3 418.8,230.1 419.1,229.9 419.4,231.9 419.7,231.8 420.0,231.8 420.3,230.8 420.6,229.6 421.0,230.4 421.3,231.7 421.6,229.6 421.9,230.2 422.2,229.6 422.5,231.7 422.8,230.3 423.1,229.7 423.4,230.3 423.7,230.0 424.0,230.5 424.3,231.0 424.6,231.1 425.0,229.7 425.3,230.8 425.6,229.6 425.9,230.6 426.2,231.5 426.5,230.2 426.8,231.6 427.1,230.1 427.4,230.5 427.7,231.5 428.0,229.5 428.3,230.9 428.6,230.9 429.0,231.3 429.3,231.9 429.6,231.3 429.9,230.1 430.2,230.1 430.5,230.8 430.8,230.3 431.1,231.0 431.4,229.8 431.7,231.3 432.0,230.7 432.3,229.7 432.6,229.9 433.0,232.0 433.3,231.8 433.6,231.8 433.9,230.6 434.2,232.1 434.5,230.1 434.8,231.5 435.1,232.0 435.4,230.2 435.7,229.7 436.0,230.0 436.3,229.9 436.6,231.7 437.0,231.2 437.3,230.9 437.6,230.0 437.9,231.3 438.2,230.0 438.5,230.0 438.8,231.2 439.1,231.3 439.4,231.7 439.7,231.8 440.0,230.1 440.3,230.5 440.6,230.1 441.0,231.0 441.3,229.8 441.6,231.9 441.9,231.5 442.2,231.8 442.5,231.0 442.8,232.0 443.1,231.8 443.4,231.8 443.7,231.8 444.0,230.3 444.3,230.6 444.6,229.9 445.0,231.7 445.3,231.0 445.6,232.3 445.9,230.5 446.2,230.9 446.5,232.0 446.8,232.2 447.1,231.7 447.4,232.0 447.7,232.1 448.0,230.5 448.3,231.4 448.6,230.0 449.0,231.5 449.3,232.2 449.6,231.1 449.9,230.2 450.2,231.3 450.5,230.0 450.8,231.0 451.1,230.0 451.4,230.9 451.7,231.9 452.0,231.7 452.3,232.0 452.6,231.0 453.0,231.0 453.3,230.0 453.6,231.8 453.9,231.3 454.2,230.9 454.5,230.2 454.8,231.0 455.1,230.0 455.4,230.2 455.7,230.1 456.0,230.9 456.3,230.2 456.6,232.0 457.0,231.4 457.3,232.1 457.6,231.3 457.9,230.3 458.2,230.6 458.5,232.0 458.8,231.4 459.1,231.5 459.4,231.5 459.7,230.0 460.0,230.4 460.3,231.0 460.6,232.0 461.0,232.3 461.3,231.4 461.6,230.6 461.9,230.0 462.2,231.3 462.5,231.0 462.8,232.3 463.1,230.5 463.4,230.4 463.7,230.0 464.0,230.0 464.3,232.0 464.6,232.1 465.0,230.3 465.3,230.0 465.6,231.4 465.9,230.6 466.2,231.5 466.5,232.2 466.8,231.8 467.1,230.7 467.4,231.5 467.7,230.7 468.0,231.9 468.3,230.6 468.6,232.1 469.0,231.7 469.3,232.2 469.6,230.8 469.9,232.4 470.2,231.4 470.5,230.6 470.8,231.6 471.1,230.8 471.4,230.3" fill="none" stroke="#000" stroke-width="2.5" stroke-linejoin="round"/>
<polyline points="380.6,230.8 381.0,232.3 381.3,231.4 381.6,231.0 381.9,232.7 382.2,231.1 382.5,232.6 382.8,231.4 383.1,231.7 383.4,233.1 383.7,232.8 384.0,232.8 384.3,233.2 384.6,232.3 385.0,233.1 385.3,232.3 385.6,232.2 385.9,231.6 386.2,231.7 386.5,232.2 386.8,231.4 387.1,232.4 387.4,232.9 387.7,232.6 388.0,231.3 388.3,230.8 388.6,231.7 389.0,231.8 389.3,232.9 389.6,232.1 389.9,232.0 390.2,232.3 390.5,232.1 390.8,232.4 391.1,232.1 391.4,232.1 391.7,231.3 392.0,231.1 392.3,231.8 392.6,233.0 393.0,233.1 393.3,231.5 393.6,232.2 393.9,232.0 394.2,231.9 394.5,231.2 394.8,232.7 395.1,231.0 395.4,231.3 395.7,231.4 396.0,231.3 396.3,231.2 396.6,230.9 397.0,232.1 397.3,231.2 397.6,232.4 397.9,232.3 398.2,232.3 398.5,232.0 398.8,232.3 399.1,231.5 399.4,231.9 399.7,232.5 400.0,231.3 400.3,232.6 400.6,232.2 401.0,233.2 401.3,232.3 401.6,232.1 401.9,232.7 402.2,231.5 402.5,231.7 402.8,231.8 403.1,232.6 403.4,232.5 403.7,231.2 404.0,233.1 404.3,233.2 404.6,232.0 405.0,233.2 405.3,232.3 405.6,231.7 405.9,231.0 406.2,230.8 406.5,232.2 406.8,232.5 407.1,232.3 407.4,232.7 407.7,231.8 408.0,232.6 408.3,232.3 408.6,232.3 409.0,232.1 409.3,232.4 409.6,232.2 409.9,231.0 410.2,232.4 410.5,232.5 410.8,231.8 411.1,233.2 411.4,232.0 411.7,231.2 412.0,232.0 412.3,231.6 412.6,231.2 413.0,233.0 413.3,231.2 413.6,232.5 413.9,231.2 414.2,232.0 414.5,233.2 414.8,231.0 415.1,232.9 415.4,230.8 415.7,233.2 416.0,233.0 416.3,231.9 416.6,232.3 417.0,231.9 417.3,231.2 417.6,231.6 417.9,231.9 418.2,232.9 418.5,231.0 418.8,232.1 419.1,231.9 419.4,232.1 419.7,232.7 420.0,232.2 420.3,231.6 420.6,233.1 421.0,232.2 421.3,231.4 421.6,232.1 421.9,232.9 422.2,230.9 422.5,232.4 422.8,232.0 423.1,231.5 423.4,231.1 423.7,231.3 424.0,231.8 424.3,231.8 424.6,232.3 425.0,231.4 425.3,232.3 425.6,231.9 425.9,232.7 426.2,232.8 426.5,231.3 426.8,233.2 427.1,232.1 427.4,231.6 427.7,231.4 428.0,232.5 428.3,231.8 428.6,232.5 429.0,231.4 429.3,232.9 429.6,231.4 429.9,232.9 430.2,231.8 430.5,231.8 430.8,232.2 431.1,232.1 431.4,232.1 431.7,232.2 432.0,233.1 432.3,232.6 432.6,231.0 433.0,233.2 433.3,230.8 433.6,230.9 433.9,232.8 434.2,231.4 434.5,230.8 434.8,231.2 435.1,232.0 435.4,232.9 435.7,230.8 436.0,231.2 436.3,230.8 436.6,230.9 437.0,231.5 437.3,232.0 437.6,233.2 437.9,232.4 438.2,232.9 438.5,232.2 438.8,233.0 439.1,232.4 439.4,231.3 439.7,231.7 440.0,231.9 440.3,231.0 440.6,233.1 441.0,232.0 441.3,231.3 441.6,232.0 441.9,232.8 442.2,231.4 442.5,232.2 442.8,231.0 443.1,231.4 443.4,231.2 443.7,232.0 444.0,232.5 444.3,231.3 444.6,232.5 445.0,232.2 445.3,232.6 445.6,233.2 445.9,231.6 446.2,233.2 446.5,231.9 446.8,232.0 447.1,231.2 447.4,231.0 447.7,232.4 448.0,231.0 448.3,230.8 448.6,231.0 449.0,232.1 449.3,231.2 449.6,231.4 449.9,232.7 450.2,231.9 450.5,231.1 450.8,232.4 451.1,233.2 451.4,232.3 451.7,231.9 452.0,232.1 452.3,232.5 452.6,232.8 453.0,232.7 453.3,231.4 453.6,232.7 453.9,231.0 454.2,231.1 454.5,232.0 454.8,231.2 455.1,232.2 455.4,231.5 455.7,233.1 456.0,231.8 456.3,232.8 456.6,233.1 457.0,231.9 457.3,232.7 457.6,232.0 457.9,231.7 458.2,231.1 458.5,232.4 458.8,233.1 459.1,232.5 459.4,231.5 459.7,232.1 460.0,231.6 460.3,231.7 460.6,232.7 461.0,230.8 461.3,232.0 461.6,232.0 461.9,231.1 462.2,232.6 462.5,231.4 462.8,231.8 463.1,231.4 463.4,232.2 463.7,231.8 464.0,232.5 464.3,231.8 464.6,232.7 465.0,232.1 465.3,231.0 465.6,232.0 465.9,231.4 466.2,231.5 466.5,233.1 466.8,231.9 467.1,232.6 467.4,231.1 467.7,232.3 468.0,231.0 468.3,231.3 468.6,231.1 469.0,230.8 469.3,233.0 469.6,233.2 469.9,231.7 470.2,230.8 470.5,232.6 470.8,232.4 471.1,230.9 471.4,232.7" fill="none" stroke="#000" stroke-width="2.5" stroke-linejoin="round"/>
<polyline points="400.5,226.2 401.3,225.9 402.1,225.7 402.8,225.5 403.6,225.3 404.4,225.0 405.1,224.9 405.9,224.7 406.7,224.5 407.4,224.3 408.2,224.1 409.0,224.0 409.8,223.8 410.5,223.7 411.3,223.5 412.1,223.4 412.8,223.3 413.6,223.1 414.4,223.0 415.1,222.9 415.9,222.8 416.7,222.7 417.4,222.6 418.2,222.5 419.0,222.4 419.8,222.3 420.5,222.2 421.3,222.1 422.1,222.0 422.8,221.9 423.6,221.9 424.4,222.0 425.1,222.1 425.9,222.3 426.7,222.4 427.4,222.5 428.2,222.6 429.0,222.7 429.7,222.9 430.5,223.0 431.3,223.1 432.1,223.2 432.8,223.3 433.6,223.4 434.4,223.4 435.1,223.5 435.9,223.6 436.7,223.7 437.4,223.8 438.2,223.9 439.0,223.9 439.7,224.0 440.5,224.1 441.3,224.2" fill="none" stroke="#fff" stroke-width="0.6" stroke-dasharray="3 4"/>
<polyline points="406.9,227.1 407.7,227.0 408.5,226.9 409.2,226.8 410.0,226.7 410.8,226.6 411.5,226.5 412.3,226.4 413.1,226.3 413.9,226.2 414.6,226.2 415.4,226.1 416.2,226.0 416.9,226.0 417.7,225.9 418.5,225.8 419.2,225.8 420.0,225.7 420.8,225.6 421.5,225.6 422.3,225.5 423.1,225.5 423.9,225.5 424.6,225.6 425.4,225.7 426.2,225.7 426.9,225.8 427.7,225.9 428.5,226.0 429.2,226.1 430.0,226.1 430.8,226.2 431.5,226.3 432.3,226.3 433.1,226.4 433.9,226.4 434.6,226.5 435.4,226.6 436.2,226.6 436.9,226.7 437.7,226.7 438.5,226.8 439.2,226.8 440.0,226.9 440.8,226.9 441.5,227.0 442.3,227.0 443.1,227.0 443.9,227.1 444.6,227.1 445.4,227.2 446.2,227.2 446.9,227.3 447.7,227.3 448.5,227.3 449.2,227.4 450.0,227.4 450.8,227.4 451.5,227.5 452.3,227.5 453.1,227.5 453.9,227.6 454.6,227.6 455.4,227.6 456.2,227.7 456.9,227.7 457.7,227.7 458.5,227.8 459.2,227.8 460.0,227.8 460.8,227.8 461.5,227.9 462.3,227.9 463.1,227.9 463.9,227.9 464.6,228.0" fill="none" stroke="#fff" stroke-width="0.6" stroke-dasharray="3 4"/>
<line x1="381.30" y1="166.10" x2="381.30" y2="239.30" stroke="#000" stroke-width="1.2"/>
<line x1="380.70" y1="239.30" x2="490.76" y2="239.30" stroke="#000" stroke-width="1.2"/>
<line x1="378.90" y1="232.00" x2="381.30" y2="232.00" stroke="#000" stroke-width="1"/>
<text x="377.90" y="234.70" font-size="7.6" font-weight="bold" text-anchor="end" fill="#000" class="b">0</text>
<line x1="378.90" y1="215.65" x2="381.30" y2="215.65" stroke="#000" stroke-width="1"/>
<text x="377.90" y="218.35" font-size="7.6" font-weight="bold" text-anchor="end" fill="#000" class="b">25</text>
<line x1="378.90" y1="199.30" x2="381.30" y2="199.30" stroke="#000" stroke-width="1"/>
<text x="377.90" y="202.00" font-size="7.6" font-weight="bold" text-anchor="end" fill="#000" class="b">50</text>
<line x1="378.90" y1="182.95" x2="381.30" y2="182.95" stroke="#000" stroke-width="1"/>
<text x="377.90" y="185.65" font-size="7.6" font-weight="bold" text-anchor="end" fill="#000" class="b">75</text>
<line x1="378.90" y1="166.60" x2="381.30" y2="166.60" stroke="#000" stroke-width="1"/>
<text x="377.90" y="169.30" font-size="7.6" font-weight="bold" text-anchor="end" fill="#000" class="b">100</text>
<line x1="387.70" y1="239.30" x2="387.70" y2="241.50" stroke="#000" stroke-width="1"/>
<text x="387.70" y="248.60" font-size="7.6" font-weight="bold" text-anchor="middle" fill="#000" class="b">0</text>
<line x1="413.34" y1="239.30" x2="413.34" y2="241.50" stroke="#000" stroke-width="1"/>
<text x="413.34" y="248.60" font-size="7.6" font-weight="bold" text-anchor="middle" fill="#000" class="b">200</text>
<line x1="438.98" y1="239.30" x2="438.98" y2="241.50" stroke="#000" stroke-width="1"/>
<text x="438.98" y="248.60" font-size="7.6" font-weight="bold" text-anchor="middle" fill="#000" class="b">400</text>
<line x1="464.62" y1="239.30" x2="464.62" y2="241.50" stroke="#000" stroke-width="1"/>
<text x="464.62" y="248.60" font-size="7.6" font-weight="bold" text-anchor="middle" fill="#000" class="b">600</text>
<line x1="490.26" y1="239.30" x2="490.26" y2="241.50" stroke="#000" stroke-width="1"/>
<text x="490.26" y="248.60" font-size="7.6" font-weight="bold" text-anchor="middle" fill="#000" class="b">800</text>
<text x="435.60" y="259.20" font-size="7.0" font-weight="bold" text-anchor="middle" fill="#000" class="b">time, s</text>
<text transform="translate(361.40,200.70) rotate(-90)" font-size="6.6" font-weight="bold" text-anchor="middle" class="b">Response, RU</text>
<text x="398.30" y="143.80" font-size="8.4" font-weight="bold" text-anchor="start" fill="#000" class="b" textLength="75.1" lengthAdjust="spacingAndGlyphs">A1072D C3 - MCP</text>
<text x="444.80" y="194.70" font-size="6.8" font-weight="normal" text-anchor="start" fill="#000" stroke="#000" stroke-width="0.2">C3 concentration</text>
<text x="478.00" y="205.20" font-size="6.8" font-weight="normal" text-anchor="start" fill="#000" stroke="#000" stroke-width="0.2">1 nM</text>
<text x="478.00" y="211.70" font-size="6.8" font-weight="normal" text-anchor="start" fill="#000" stroke="#000" stroke-width="0.2">0.5 nM</text>
<text x="478.00" y="218.90" font-size="6.8" font-weight="normal" text-anchor="start" fill="#000" stroke="#000" stroke-width="0.2">0.25 nM</text>
<text x="478.00" y="225.80" font-size="6.8" font-weight="normal" text-anchor="start" fill="#000" stroke="#000" stroke-width="0.2">0.125 nM</text>
<text x="478.00" y="231.60" font-size="6.8" font-weight="normal" text-anchor="start" fill="#000" stroke="#000" stroke-width="0.2">0.0625 nM</text>
<text x="478.00" y="237.80" font-size="6.8" font-weight="normal" text-anchor="start" fill="#000" stroke="#000" stroke-width="0.2">0 nM</text>
<defs>
<clipPath id="blob"><path d="M463.5,264.2 L467.5,264.6 L470.5,267.5 L472.0,271.5 L475.8,274.1 L479.9,278.3 L481.6,282.5 L484.9,287.4 L489.9,291.6 L490.7,298.3 L490.0,303.3 L491.5,310.0 L492.5,317.0 L490.0,323.0 L485.5,327.0 L484.3,330.6 L480.6,336.2 L476.9,341.8 L475.9,347.5 L478.7,353.1 L484.3,355.9 L486.2,360.6 L492.8,364.3 L497.5,369.9 L500.3,375.5 L495.6,379.3 L488.1,383.0 L482.5,386.8 L478.2,394.8 L482.4,399.0 L489.1,399.5 L496.7,401.3 L502.4,407.0 L510.0,408.9 L515.6,416.5 L518.4,425.9 L517.5,437.3 L515.6,446.7 L511.8,454.3 L504.3,461.8 L496.7,469.4 L487.3,475.1 L479.7,477.0 L474.0,471.3 L468.0,462.0 L462.4,448.7 L457.0,440.0 L450.0,437.0 L443.0,441.0 L439.3,447.2 L430.9,451.4 L420.4,453.5 L414.8,462.0 L412.3,453.8 L404.3,451.5 L395.2,447.0 L390.6,437.8 L388.3,428.6 L388.3,417.2 L387.2,405.8 L386.0,394.3 L384.9,382.9 L388.3,373.7 L389.5,368.0 L387.0,362.0 L387.0,352.0 L383.7,342.4 L376.4,336.1 L376.3,333.8 L378.4,329.8 L381.1,325.8 L383.7,323.1 L384.4,317.7 L385.8,313.6 L389.1,309.6 L391.8,306.2 L394.5,302.2 L398.6,298.2 L395.2,294.8 L396.5,292.8 L399.2,292.1 L403.9,294.8 L408.0,292.8 L412.0,292.1 L415.4,294.8 L419.4,296.2 L423.5,294.8 L427.5,292.8 L431.5,290.8 L434.2,293.5 L438.3,296.2 L442.3,294.8 L445.0,290.5 L448.3,285.0 L453.3,283.3 L457.5,280.0 L458.6,274.5 L459.5,268.5 Z"/><circle cx="464.0" cy="264.7" r="1.5"/><circle cx="466.5" cy="265.3" r="1.0"/><circle cx="467.8" cy="266.0" r="1.1"/><circle cx="469.1" cy="267.0" r="1.1"/><circle cx="469.9" cy="268.7" r="1.6"/><circle cx="470.9" cy="269.8" r="1.3"/><circle cx="472.1" cy="272.6" r="2.3"/><circle cx="474.2" cy="274.2" r="1.5"/><circle cx="475.2" cy="274.8" r="1.4"/><circle cx="477.5" cy="276.4" r="1.6"/><circle cx="478.4" cy="277.5" r="1.3"/><circle cx="479.3" cy="279.7" r="1.3"/><circle cx="480.6" cy="281.7" r="1.1"/><circle cx="481.4" cy="283.4" r="1.0"/><circle cx="482.6" cy="285.5" r="1.2"/><circle cx="483.0" cy="286.5" r="1.8"/><circle cx="484.9" cy="287.9" r="1.0"/><circle cx="486.9" cy="289.5" r="1.0"/><circle cx="488.3" cy="291.1" r="2.3"/><circle cx="489.6" cy="292.2" r="1.9"/><circle cx="489.4" cy="294.7" r="1.2"/><circle cx="489.8" cy="297.4" r="1.1"/><circle cx="490.0" cy="299.1" r="1.2"/><circle cx="489.7" cy="302.2" r="2.4"/><circle cx="489.7" cy="304.4" r="2.3"/><circle cx="490.1" cy="306.5" r="1.1"/><circle cx="490.2" cy="308.9" r="1.8"/><circle cx="490.5" cy="310.3" r="1.5"/><circle cx="491.3" cy="313.2" r="1.6"/><circle cx="492.1" cy="316.1" r="1.8"/><circle cx="491.5" cy="317.7" r="1.5"/><circle cx="491.0" cy="319.0" r="1.6"/><circle cx="490.4" cy="321.0" r="1.9"/><circle cx="488.6" cy="322.9" r="1.0"/><circle cx="487.1" cy="324.3" r="1.7"/><circle cx="486.3" cy="325.4" r="2.0"/><circle cx="484.8" cy="327.0" r="2.3"/><circle cx="484.2" cy="329.0" r="2.2"/><circle cx="482.9" cy="330.8" r="1.2"/><circle cx="481.9" cy="332.1" r="1.1"/><circle cx="480.7" cy="333.9" r="2.3"/><circle cx="479.9" cy="336.7" r="1.0"/><circle cx="478.5" cy="337.8" r="1.5"/><circle cx="477.1" cy="340.8" r="1.5"/><circle cx="476.4" cy="342.4" r="1.2"/><circle cx="476.1" cy="344.3" r="2.0"/><circle cx="475.2" cy="345.9" r="2.0"/><circle cx="475.7" cy="348.1" r="2.2"/><circle cx="476.3" cy="350.7" r="2.1"/><circle cx="477.7" cy="351.9" r="1.1"/><circle cx="478.9" cy="354.2" r="1.2"/><circle cx="480.4" cy="354.5" r="2.1"/><circle cx="482.1" cy="355.6" r="1.2"/><circle cx="484.2" cy="356.9" r="1.5"/><circle cx="484.8" cy="359.2" r="2.3"/><circle cx="486.9" cy="362.3" r="1.0"/><circle cx="489.2" cy="363.2" r="1.8"/><circle cx="491.1" cy="363.8" r="2.3"/><circle cx="493.0" cy="365.4" r="1.8"/><circle cx="494.7" cy="367.2" r="2.0"/><circle cx="496.0" cy="369.3" r="1.6"/><circle cx="497.1" cy="371.0" r="1.1"/><circle cx="498.2" cy="372.4" r="2.2"/><circle cx="499.1" cy="374.9" r="2.0"/><circle cx="499.0" cy="375.5" r="1.1"/><circle cx="497.7" cy="376.7" r="1.9"/><circle cx="496.6" cy="377.4" r="1.3"/><circle cx="495.1" cy="378.8" r="1.1"/><circle cx="493.1" cy="380.2" r="1.7"/><circle cx="490.5" cy="380.7" r="1.5"/><circle cx="489.6" cy="381.3" r="2.3"/><circle cx="486.4" cy="382.9" r="2.4"/><circle cx="485.8" cy="383.9" r="1.5"/><circle cx="483.2" cy="385.7" r="1.3"/><circle cx="481.4" cy="386.4" r="1.2"/><circle cx="479.9" cy="389.5" r="1.5"/><circle cx="479.5" cy="391.1" r="1.7"/><circle cx="478.4" cy="393.3" r="1.3"/><circle cx="478.1" cy="395.7" r="1.3"/><circle cx="480.1" cy="397.3" r="1.0"/><circle cx="481.3" cy="398.6" r="1.1"/><circle cx="483.5" cy="399.6" r="1.8"/><circle cx="484.7" cy="399.7" r="1.4"/><circle cx="487.9" cy="400.4" r="2.4"/><circle cx="489.9" cy="400.8" r="2.3"/><circle cx="492.0" cy="400.6" r="2.4"/><circle cx="493.1" cy="401.3" r="1.3"/><circle cx="495.1" cy="402.0" r="1.5"/><circle cx="496.7" cy="402.0" r="1.3"/><circle cx="497.9" cy="403.7" r="1.9"/><circle cx="499.5" cy="405.0" r="1.3"/><circle cx="500.7" cy="406.4" r="1.2"/><circle cx="502.4" cy="407.9" r="2.0"/><circle cx="504.3" cy="408.1" r="1.9"/><circle cx="506.5" cy="409.0" r="1.8"/><circle cx="509.0" cy="409.2" r="2.0"/><circle cx="510.2" cy="409.7" r="1.5"/><circle cx="511.0" cy="412.1" r="1.7"/><circle cx="512.5" cy="413.5" r="2.2"/><circle cx="513.8" cy="415.0" r="2.0"/><circle cx="515.5" cy="417.3" r="1.1"/><circle cx="516.3" cy="420.3" r="1.1"/><circle cx="516.1" cy="421.7" r="1.1"/><circle cx="517.5" cy="425.1" r="1.9"/><circle cx="517.9" cy="427.1" r="1.7"/><circle cx="517.6" cy="429.1" r="1.5"/><circle cx="517.5" cy="430.9" r="1.5"/><circle cx="517.0" cy="433.5" r="2.2"/><circle cx="517.4" cy="435.0" r="2.0"/><circle cx="516.5" cy="437.8" r="2.2"/><circle cx="516.2" cy="440.8" r="2.1"/><circle cx="515.6" cy="442.0" r="1.6"/><circle cx="515.1" cy="444.5" r="1.5"/><circle cx="514.7" cy="446.7" r="1.8"/><circle cx="513.7" cy="449.4" r="1.0"/><circle cx="512.9" cy="451.2" r="1.9"/><circle cx="512.0" cy="452.2" r="1.3"/><circle cx="510.6" cy="454.8" r="1.3"/><circle cx="508.9" cy="455.7" r="1.6"/><circle cx="507.2" cy="457.5" r="2.3"/><circle cx="506.1" cy="458.5" r="1.1"/><circle cx="504.8" cy="460.0" r="1.6"/><circle cx="502.6" cy="461.9" r="1.8"/><circle cx="501.5" cy="463.8" r="1.1"/><circle cx="499.6" cy="464.8" r="2.1"/><circle cx="498.8" cy="465.7" r="1.7"/><circle cx="496.9" cy="467.5" r="1.9"/><circle cx="496.0" cy="468.6" r="1.1"/><circle cx="493.6" cy="470.0" r="1.3"/><circle cx="492.3" cy="471.4" r="1.2"/><circle cx="490.5" cy="472.0" r="1.6"/><circle cx="488.5" cy="474.0" r="2.4"/><circle cx="486.9" cy="474.4" r="1.2"/><circle cx="485.0" cy="474.9" r="1.9"/><circle cx="482.6" cy="475.2" r="2.2"/><circle cx="480.4" cy="476.2" r="1.2"/><circle cx="479.3" cy="475.8" r="1.6"/><circle cx="478.6" cy="474.4" r="1.3"/><circle cx="477.1" cy="472.8" r="1.1"/><circle cx="475.6" cy="471.7" r="1.4"/><circle cx="473.6" cy="470.1" r="1.5"/><circle cx="473.3" cy="468.8" r="1.1"/><circle cx="471.8" cy="467.0" r="2.2"/><circle cx="470.7" cy="465.5" r="1.7"/><circle cx="469.4" cy="463.3" r="1.3"/><circle cx="468.2" cy="460.9" r="2.3"/><circle cx="467.7" cy="458.5" r="1.5"/><circle cx="466.7" cy="456.5" r="1.0"/><circle cx="465.4" cy="454.9" r="1.1"/><circle cx="464.4" cy="451.8" r="2.0"/><circle cx="463.4" cy="450.0" r="2.0"/><circle cx="462.8" cy="447.2" r="2.0"/><circle cx="461.6" cy="446.0" r="1.8"/><circle cx="459.8" cy="442.8" r="1.5"/><circle cx="458.3" cy="440.6" r="1.5"/><circle cx="456.2" cy="438.4" r="1.0"/><circle cx="454.4" cy="438.3" r="1.6"/><circle cx="451.6" cy="436.6" r="1.7"/><circle cx="449.4" cy="436.2" r="2.2"/><circle cx="447.3" cy="437.9" r="1.3"/><circle cx="445.5" cy="438.3" r="1.1"/><circle cx="444.1" cy="439.8" r="2.3"/><circle cx="441.8" cy="441.4" r="2.1"/><circle cx="440.9" cy="443.2" r="1.0"/><circle cx="439.2" cy="445.0" r="2.3"/><circle cx="437.9" cy="447.4" r="2.4"/><circle cx="437.0" cy="448.0" r="1.4"/><circle cx="434.7" cy="448.9" r="1.8"/><circle cx="432.0" cy="450.2" r="1.5"/><circle cx="429.5" cy="450.6" r="1.3"/><circle cx="428.1" cy="451.5" r="1.9"/><circle cx="425.7" cy="452.0" r="2.2"/><circle cx="423.9" cy="452.1" r="1.9"/><circle cx="421.4" cy="452.7" r="1.9"/><circle cx="419.2" cy="454.0" r="2.1"/><circle cx="417.9" cy="456.0" r="1.9"/><circle cx="416.7" cy="457.3" r="1.6"/><circle cx="415.0" cy="460.4" r="1.1"/><circle cx="415.0" cy="461.2" r="1.7"/><circle cx="414.7" cy="458.9" r="2.0"/><circle cx="413.5" cy="456.7" r="1.8"/><circle cx="413.2" cy="455.4" r="2.0"/><circle cx="411.4" cy="452.5" r="2.0"/><circle cx="410.4" cy="452.1" r="1.0"/><circle cx="407.9" cy="451.7" r="1.6"/><circle cx="405.7" cy="450.9" r="1.5"/><circle cx="404.5" cy="450.6" r="2.4"/><circle cx="402.1" cy="449.2" r="1.7"/><circle cx="399.8" cy="448.0" r="2.0"/><circle cx="396.6" cy="446.6" r="1.4"/><circle cx="395.1" cy="446.0" r="2.1"/><circle cx="394.7" cy="443.7" r="1.6"/><circle cx="393.0" cy="441.6" r="1.1"/><circle cx="391.9" cy="438.6" r="2.2"/><circle cx="391.6" cy="437.4" r="2.1"/><circle cx="390.5" cy="435.0" r="1.7"/><circle cx="389.9" cy="433.0" r="2.0"/><circle cx="389.2" cy="430.7" r="2.3"/><circle cx="388.8" cy="427.6" r="2.1"/><circle cx="389.2" cy="425.8" r="1.3"/><circle cx="389.0" cy="422.7" r="2.0"/><circle cx="389.2" cy="421.0" r="1.6"/><circle cx="389.2" cy="419.1" r="1.3"/><circle cx="389.2" cy="416.8" r="2.4"/><circle cx="388.9" cy="414.6" r="1.0"/><circle cx="388.7" cy="412.4" r="1.7"/><circle cx="388.3" cy="409.2" r="1.5"/><circle cx="387.9" cy="406.9" r="1.2"/><circle cx="388.2" cy="404.6" r="1.5"/><circle cx="387.6" cy="403.3" r="1.1"/><circle cx="387.1" cy="400.5" r="1.5"/><circle cx="387.6" cy="398.2" r="2.3"/><circle cx="387.0" cy="395.7" r="1.4"/><circle cx="387.0" cy="394.0" r="1.1"/><circle cx="386.8" cy="391.6" r="1.2"/><circle cx="386.0" cy="389.5" r="1.3"/><circle cx="385.7" cy="386.2" r="2.0"/><circle cx="385.5" cy="385.0" r="2.3"/><circle cx="386.0" cy="382.2" r="2.0"/><circle cx="386.5" cy="380.1" r="1.6"/><circle cx="387.6" cy="377.7" r="1.2"/><circle cx="388.6" cy="376.0" r="1.5"/><circle cx="389.3" cy="373.2" r="1.9"/><circle cx="389.8" cy="372.0" r="2.1"/><circle cx="390.3" cy="369.3" r="1.7"/><circle cx="389.4" cy="366.7" r="1.4"/><circle cx="389.0" cy="365.4" r="1.0"/><circle cx="388.4" cy="363.6" r="1.0"/><circle cx="388.1" cy="362.0" r="1.7"/><circle cx="388.0" cy="358.4" r="1.1"/><circle cx="387.9" cy="356.7" r="2.1"/><circle cx="388.2" cy="353.7" r="1.6"/><circle cx="387.4" cy="351.5" r="2.3"/><circle cx="386.4" cy="349.4" r="1.3"/><circle cx="385.7" cy="345.7" r="1.3"/><circle cx="385.3" cy="344.1" r="1.5"/><circle cx="383.7" cy="341.1" r="1.4"/><circle cx="382.3" cy="340.0" r="1.1"/><circle cx="379.7" cy="337.7" r="2.1"/><circle cx="377.7" cy="336.2" r="2.3"/><circle cx="377.1" cy="335.8" r="1.8"/><circle cx="377.1" cy="333.1" r="1.5"/><circle cx="378.3" cy="332.0" r="1.2"/><circle cx="379.4" cy="329.3" r="1.7"/><circle cx="381.0" cy="327.3" r="1.6"/><circle cx="381.8" cy="326.1" r="2.4"/><circle cx="383.3" cy="324.6" r="1.3"/><circle cx="384.7" cy="322.7" r="1.6"/><circle cx="384.9" cy="321.1" r="1.9"/><circle cx="384.5" cy="319.4" r="2.2"/><circle cx="384.9" cy="317.5" r="2.2"/><circle cx="386.3" cy="315.7" r="1.6"/><circle cx="387.4" cy="313.0" r="1.3"/><circle cx="388.7" cy="311.0" r="1.7"/><circle cx="389.5" cy="309.7" r="1.1"/><circle cx="391.1" cy="308.4" r="2.0"/><circle cx="392.8" cy="306.8" r="2.3"/><circle cx="394.4" cy="304.3" r="1.5"/><circle cx="395.4" cy="302.0" r="2.0"/><circle cx="396.7" cy="300.5" r="1.6"/><circle cx="397.6" cy="299.9" r="1.4"/><circle cx="398.8" cy="297.5" r="2.3"/><circle cx="396.9" cy="296.0" r="1.1"/><circle cx="395.8" cy="294.5" r="1.6"/><circle cx="397.0" cy="293.0" r="1.5"/><circle cx="398.3" cy="292.8" r="1.2"/><circle cx="399.6" cy="293.0" r="1.6"/><circle cx="400.9" cy="294.0" r="2.0"/><circle cx="402.9" cy="294.9" r="2.0"/><circle cx="405.3" cy="294.6" r="1.0"/><circle cx="406.4" cy="294.3" r="1.5"/><circle cx="408.6" cy="293.3" r="1.9"/><circle cx="410.8" cy="293.5" r="1.9"/><circle cx="412.6" cy="293.4" r="1.5"/><circle cx="414.0" cy="295.1" r="2.2"/><circle cx="415.3" cy="295.5" r="1.4"/><circle cx="417.4" cy="296.7" r="1.6"/><circle cx="420.1" cy="296.6" r="1.7"/><circle cx="422.3" cy="295.7" r="1.8"/><circle cx="424.0" cy="295.7" r="2.1"/><circle cx="426.1" cy="293.9" r="1.3"/><circle cx="428.8" cy="293.4" r="1.8"/><circle cx="430.7" cy="292.1" r="1.8"/><circle cx="431.9" cy="291.9" r="2.3"/><circle cx="432.7" cy="292.5" r="1.2"/><circle cx="434.8" cy="294.8" r="2.3"/><circle cx="436.7" cy="296.2" r="1.9"/><circle cx="439.0" cy="296.6" r="2.3"/><circle cx="440.8" cy="296.4" r="1.1"/><circle cx="443.8" cy="294.3" r="2.2"/><circle cx="444.3" cy="292.7" r="1.5"/><circle cx="446.1" cy="289.8" r="1.0"/><circle cx="446.8" cy="288.1" r="1.9"/><circle cx="447.7" cy="287.0" r="1.2"/><circle cx="449.1" cy="285.8" r="1.0"/><circle cx="450.6" cy="284.9" r="1.9"/><circle cx="452.8" cy="284.6" r="1.1"/><circle cx="454.0" cy="283.8" r="1.7"/><circle cx="455.9" cy="282.5" r="1.8"/><circle cx="456.6" cy="281.7" r="1.7"/><circle cx="458.6" cy="279.5" r="1.1"/><circle cx="458.2" cy="278.1" r="1.1"/><circle cx="459.3" cy="275.4" r="1.2"/><circle cx="459.1" cy="274.5" r="1.8"/><circle cx="459.9" cy="271.9" r="2.0"/><circle cx="459.6" cy="269.9" r="2.0"/><circle cx="460.1" cy="268.9" r="1.3"/><circle cx="461.8" cy="266.7" r="1.0"/><circle cx="462.9" cy="265.4" r="1.5"/></clipPath>
<filter id="bump" x="0" y="0" width="1" height="1" filterUnits="objectBoundingBox" color-interpolation-filters="sRGB">
<feTurbulence type="fractalNoise" baseFrequency="0.13" numOctaves="2" seed="3" result="n"/>
<feDiffuseLighting in="n" surfaceScale="1.9" diffuseConstant="1" lighting-color="#fff" result="d"><feDistantLight azimuth="225" elevation="50"/></feDiffuseLighting>
<feSpecularLighting in="n" surfaceScale="1.9" specularConstant="0.45" specularExponent="20" lighting-color="#fff" result="s"><feDistantLight azimuth="225" elevation="50"/></feSpecularLighting>
<feComposite in="d" in2="SourceGraphic" operator="arithmetic" k1="1.15" k2="0" k3="0" k4="0" result="m"/>
<feComposite in="s" in2="m" operator="arithmetic" k1="0" k2="0.7" k3="1" k4="0"/>
</filter>
<filter id="soft" x="-20%" y="-20%" width="140%" height="140%"><feGaussianBlur stdDeviation="4"/></filter>
<filter id="b06"><feGaussianBlur stdDeviation="0.5"/></filter>
</defs>
<path d="M463.5,264.2 L467.5,264.6 L470.5,267.5 L472.0,271.5 L475.8,274.1 L479.9,278.3 L481.6,282.5 L484.9,287.4 L489.9,291.6 L490.7,298.3 L490.0,303.3 L491.5,310.0 L492.5,317.0 L490.0,323.0 L485.5,327.0 L484.3,330.6 L480.6,336.2 L476.9,341.8 L475.9,347.5 L478.7,353.1 L484.3,355.9 L486.2,360.6 L492.8,364.3 L497.5,369.9 L500.3,375.5 L495.6,379.3 L488.1,383.0 L482.5,386.8 L478.2,394.8 L482.4,399.0 L489.1,399.5 L496.7,401.3 L502.4,407.0 L510.0,408.9 L515.6,416.5 L518.4,425.9 L517.5,437.3 L515.6,446.7 L511.8,454.3 L504.3,461.8 L496.7,469.4 L487.3,475.1 L479.7,477.0 L474.0,471.3 L468.0,462.0 L462.4,448.7 L457.0,440.0 L450.0,437.0 L443.0,441.0 L439.3,447.2 L430.9,451.4 L420.4,453.5 L414.8,462.0 L412.3,453.8 L404.3,451.5 L395.2,447.0 L390.6,437.8 L388.3,428.6 L388.3,417.2 L387.2,405.8 L386.0,394.3 L384.9,382.9 L388.3,373.7 L389.5,368.0 L387.0,362.0 L387.0,352.0 L383.7,342.4 L376.4,336.1 L376.3,333.8 L378.4,329.8 L381.1,325.8 L383.7,323.1 L384.4,317.7 L385.8,313.6 L389.1,309.6 L391.8,306.2 L394.5,302.2 L398.6,298.2 L395.2,294.8 L396.5,292.8 L399.2,292.1 L403.9,294.8 L408.0,292.8 L412.0,292.1 L415.4,294.8 L419.4,296.2 L423.5,294.8 L427.5,292.8 L431.5,290.8 L434.2,293.5 L438.3,296.2 L442.3,294.8 L445.0,290.5 L448.3,285.0 L453.3,283.3 L457.5,280.0 L458.6,274.5 L459.5,268.5 Z" fill="#888" stroke="#6a6a6a" stroke-width="1.3"/>
<g fill="#888" stroke="#6a6a6a" stroke-width="1.3"><circle cx="464.0" cy="264.7" r="1.5"/><circle cx="466.5" cy="265.3" r="1.0"/><circle cx="467.8" cy="266.0" r="1.1"/><circle cx="469.1" cy="267.0" r="1.1"/><circle cx="469.9" cy="268.7" r="1.6"/><circle cx="470.9" cy="269.8" r="1.3"/><circle cx="472.1" cy="272.6" r="2.3"/><circle cx="474.2" cy="274.2" r="1.5"/><circle cx="475.2" cy="274.8" r="1.4"/><circle cx="477.5" cy="276.4" r="1.6"/><circle cx="478.4" cy="277.5" r="1.3"/><circle cx="479.3" cy="279.7" r="1.3"/><circle cx="480.6" cy="281.7" r="1.1"/><circle cx="481.4" cy="283.4" r="1.0"/><circle cx="482.6" cy="285.5" r="1.2"/><circle cx="483.0" cy="286.5" r="1.8"/><circle cx="484.9" cy="287.9" r="1.0"/><circle cx="486.9" cy="289.5" r="1.0"/><circle cx="488.3" cy="291.1" r="2.3"/><circle cx="489.6" cy="292.2" r="1.9"/><circle cx="489.4" cy="294.7" r="1.2"/><circle cx="489.8" cy="297.4" r="1.1"/><circle cx="490.0" cy="299.1" r="1.2"/><circle cx="489.7" cy="302.2" r="2.4"/><circle cx="489.7" cy="304.4" r="2.3"/><circle cx="490.1" cy="306.5" r="1.1"/><circle cx="490.2" cy="308.9" r="1.8"/><circle cx="490.5" cy="310.3" r="1.5"/><circle cx="491.3" cy="313.2" r="1.6"/><circle cx="492.1" cy="316.1" r="1.8"/><circle cx="491.5" cy="317.7" r="1.5"/><circle cx="491.0" cy="319.0" r="1.6"/><circle cx="490.4" cy="321.0" r="1.9"/><circle cx="488.6" cy="322.9" r="1.0"/><circle cx="487.1" cy="324.3" r="1.7"/><circle cx="486.3" cy="325.4" r="2.0"/><circle cx="484.8" cy="327.0" r="2.3"/><circle cx="484.2" cy="329.0" r="2.2"/><circle cx="482.9" cy="330.8" r="1.2"/><circle cx="481.9" cy="332.1" r="1.1"/><circle cx="480.7" cy="333.9" r="2.3"/><circle cx="479.9" cy="336.7" r="1.0"/><circle cx="478.5" cy="337.8" r="1.5"/><circle cx="477.1" cy="340.8" r="1.5"/><circle cx="476.4" cy="342.4" r="1.2"/><circle cx="476.1" cy="344.3" r="2.0"/><circle cx="475.2" cy="345.9" r="2.0"/><circle cx="475.7" cy="348.1" r="2.2"/><circle cx="476.3" cy="350.7" r="2.1"/><circle cx="477.7" cy="351.9" r="1.1"/><circle cx="478.9" cy="354.2" r="1.2"/><circle cx="480.4" cy="354.5" r="2.1"/><circle cx="482.1" cy="355.6" r="1.2"/><circle cx="484.2" cy="356.9" r="1.5"/><circle cx="484.8" cy="359.2" r="2.3"/><circle cx="486.9" cy="362.3" r="1.0"/><circle cx="489.2" cy="363.2" r="1.8"/><circle cx="491.1" cy="363.8" r="2.3"/><circle cx="493.0" cy="365.4" r="1.8"/><circle cx="494.7" cy="367.2" r="2.0"/><circle cx="496.0" cy="369.3" r="1.6"/><circle cx="497.1" cy="371.0" r="1.1"/><circle cx="498.2" cy="372.4" r="2.2"/><circle cx="499.1" cy="374.9" r="2.0"/><circle cx="499.0" cy="375.5" r="1.1"/><circle cx="497.7" cy="376.7" r="1.9"/><circle cx="496.6" cy="377.4" r="1.3"/><circle cx="495.1" cy="378.8" r="1.1"/><circle cx="493.1" cy="380.2" r="1.7"/><circle cx="490.5" cy="380.7" r="1.5"/><circle cx="489.6" cy="381.3" r="2.3"/><circle cx="486.4" cy="382.9" r="2.4"/><circle cx="485.8" cy="383.9" r="1.5"/><circle cx="483.2" cy="385.7" r="1.3"/><circle cx="481.4" cy="386.4" r="1.2"/><circle cx="479.9" cy="389.5" r="1.5"/><circle cx="479.5" cy="391.1" r="1.7"/><circle cx="478.4" cy="393.3" r="1.3"/><circle cx="478.1" cy="395.7" r="1.3"/><circle cx="480.1" cy="397.3" r="1.0"/><circle cx="481.3" cy="398.6" r="1.1"/><circle cx="483.5" cy="399.6" r="1.8"/><circle cx="484.7" cy="399.7" r="1.4"/><circle cx="487.9" cy="400.4" r="2.4"/><circle cx="489.9" cy="400.8" r="2.3"/><circle cx="492.0" cy="400.6" r="2.4"/><circle cx="493.1" cy="401.3" r="1.3"/><circle cx="495.1" cy="402.0" r="1.5"/><circle cx="496.7" cy="402.0" r="1.3"/><circle cx="497.9" cy="403.7" r="1.9"/><circle cx="499.5" cy="405.0" r="1.3"/><circle cx="500.7" cy="406.4" r="1.2"/><circle cx="502.4" cy="407.9" r="2.0"/><circle cx="504.3" cy="408.1" r="1.9"/><circle cx="506.5" cy="409.0" r="1.8"/><circle cx="509.0" cy="409.2" r="2.0"/><circle cx="510.2" cy="409.7" r="1.5"/><circle cx="511.0" cy="412.1" r="1.7"/><circle cx="512.5" cy="413.5" r="2.2"/><circle cx="513.8" cy="415.0" r="2.0"/><circle cx="515.5" cy="417.3" r="1.1"/><circle cx="516.3" cy="420.3" r="1.1"/><circle cx="516.1" cy="421.7" r="1.1"/><circle cx="517.5" cy="425.1" r="1.9"/><circle cx="517.9" cy="427.1" r="1.7"/><circle cx="517.6" cy="429.1" r="1.5"/><circle cx="517.5" cy="430.9" r="1.5"/><circle cx="517.0" cy="433.5" r="2.2"/><circle cx="517.4" cy="435.0" r="2.0"/><circle cx="516.5" cy="437.8" r="2.2"/><circle cx="516.2" cy="440.8" r="2.1"/><circle cx="515.6" cy="442.0" r="1.6"/><circle cx="515.1" cy="444.5" r="1.5"/><circle cx="514.7" cy="446.7" r="1.8"/><circle cx="513.7" cy="449.4" r="1.0"/><circle cx="512.9" cy="451.2" r="1.9"/><circle cx="512.0" cy="452.2" r="1.3"/><circle cx="510.6" cy="454.8" r="1.3"/><circle cx="508.9" cy="455.7" r="1.6"/><circle cx="507.2" cy="457.5" r="2.3"/><circle cx="506.1" cy="458.5" r="1.1"/><circle cx="504.8" cy="460.0" r="1.6"/><circle cx="502.6" cy="461.9" r="1.8"/><circle cx="501.5" cy="463.8" r="1.1"/><circle cx="499.6" cy="464.8" r="2.1"/><circle cx="498.8" cy="465.7" r="1.7"/><circle cx="496.9" cy="467.5" r="1.9"/><circle cx="496.0" cy="468.6" r="1.1"/><circle cx="493.6" cy="470.0" r="1.3"/><circle cx="492.3" cy="471.4" r="1.2"/><circle cx="490.5" cy="472.0" r="1.6"/><circle cx="488.5" cy="474.0" r="2.4"/><circle cx="486.9" cy="474.4" r="1.2"/><circle cx="485.0" cy="474.9" r="1.9"/><circle cx="482.6" cy="475.2" r="2.2"/><circle cx="480.4" cy="476.2" r="1.2"/><circle cx="479.3" cy="475.8" r="1.6"/><circle cx="478.6" cy="474.4" r="1.3"/><circle cx="477.1" cy="472.8" r="1.1"/><circle cx="475.6" cy="471.7" r="1.4"/><circle cx="473.6" cy="470.1" r="1.5"/><circle cx="473.3" cy="468.8" r="1.1"/><circle cx="471.8" cy="467.0" r="2.2"/><circle cx="470.7" cy="465.5" r="1.7"/><circle cx="469.4" cy="463.3" r="1.3"/><circle cx="468.2" cy="460.9" r="2.3"/><circle cx="467.7" cy="458.5" r="1.5"/><circle cx="466.7" cy="456.5" r="1.0"/><circle cx="465.4" cy="454.9" r="1.1"/><circle cx="464.4" cy="451.8" r="2.0"/><circle cx="463.4" cy="450.0" r="2.0"/><circle cx="462.8" cy="447.2" r="2.0"/><circle cx="461.6" cy="446.0" r="1.8"/><circle cx="459.8" cy="442.8" r="1.5"/><circle cx="458.3" cy="440.6" r="1.5"/><circle cx="456.2" cy="438.4" r="1.0"/><circle cx="454.4" cy="438.3" r="1.6"/><circle cx="451.6" cy="436.6" r="1.7"/><circle cx="449.4" cy="436.2" r="2.2"/><circle cx="447.3" cy="437.9" r="1.3"/><circle cx="445.5" cy="438.3" r="1.1"/><circle cx="444.1" cy="439.8" r="2.3"/><circle cx="441.8" cy="441.4" r="2.1"/><circle cx="440.9" cy="443.2" r="1.0"/><circle cx="439.2" cy="445.0" r="2.3"/><circle cx="437.9" cy="447.4" r="2.4"/><circle cx="437.0" cy="448.0" r="1.4"/><circle cx="434.7" cy="448.9" r="1.8"/><circle cx="432.0" cy="450.2" r="1.5"/><circle cx="429.5" cy="450.6" r="1.3"/><circle cx="428.1" cy="451.5" r="1.9"/><circle cx="425.7" cy="452.0" r="2.2"/><circle cx="423.9" cy="452.1" r="1.9"/><circle cx="421.4" cy="452.7" r="1.9"/><circle cx="419.2" cy="454.0" r="2.1"/><circle cx="417.9" cy="456.0" r="1.9"/><circle cx="416.7" cy="457.3" r="1.6"/><circle cx="415.0" cy="460.4" r="1.1"/><circle cx="415.0" cy="461.2" r="1.7"/><circle cx="414.7" cy="458.9" r="2.0"/><circle cx="413.5" cy="456.7" r="1.8"/><circle cx="413.2" cy="455.4" r="2.0"/><circle cx="411.4" cy="452.5" r="2.0"/><circle cx="410.4" cy="452.1" r="1.0"/><circle cx="407.9" cy="451.7" r="1.6"/><circle cx="405.7" cy="450.9" r="1.5"/><circle cx="404.5" cy="450.6" r="2.4"/><circle cx="402.1" cy="449.2" r="1.7"/><circle cx="399.8" cy="448.0" r="2.0"/><circle cx="396.6" cy="446.6" r="1.4"/><circle cx="395.1" cy="446.0" r="2.1"/><circle cx="394.7" cy="443.7" r="1.6"/><circle cx="393.0" cy="441.6" r="1.1"/><circle cx="391.9" cy="438.6" r="2.2"/><circle cx="391.6" cy="437.4" r="2.1"/><circle cx="390.5" cy="435.0" r="1.7"/><circle cx="389.9" cy="433.0" r="2.0"/><circle cx="389.2" cy="430.7" r="2.3"/><circle cx="388.8" cy="427.6" r="2.1"/><circle cx="389.2" cy="425.8" r="1.3"/><circle cx="389.0" cy="422.7" r="2.0"/><circle cx="389.2" cy="421.0" r="1.6"/><circle cx="389.2" cy="419.1" r="1.3"/><circle cx="389.2" cy="416.8" r="2.4"/><circle cx="388.9" cy="414.6" r="1.0"/><circle cx="388.7" cy="412.4" r="1.7"/><circle cx="388.3" cy="409.2" r="1.5"/><circle cx="387.9" cy="406.9" r="1.2"/><circle cx="388.2" cy="404.6" r="1.5"/><circle cx="387.6" cy="403.3" r="1.1"/><circle cx="387.1" cy="400.5" r="1.5"/><circle cx="387.6" cy="398.2" r="2.3"/><circle cx="387.0" cy="395.7" r="1.4"/><circle cx="387.0" cy="394.0" r="1.1"/><circle cx="386.8" cy="391.6" r="1.2"/><circle cx="386.0" cy="389.5" r="1.3"/><circle cx="385.7" cy="386.2" r="2.0"/><circle cx="385.5" cy="385.0" r="2.3"/><circle cx="386.0" cy="382.2" r="2.0"/><circle cx="386.5" cy="380.1" r="1.6"/><circle cx="387.6" cy="377.7" r="1.2"/><circle cx="388.6" cy="376.0" r="1.5"/><circle cx="389.3" cy="373.2" r="1.9"/><circle cx="389.8" cy="372.0" r="2.1"/><circle cx="390.3" cy="369.3" r="1.7"/><circle cx="389.4" cy="366.7" r="1.4"/><circle cx="389.0" cy="365.4" r="1.0"/><circle cx="388.4" cy="363.6" r="1.0"/><circle cx="388.1" cy="362.0" r="1.7"/><circle cx="388.0" cy="358.4" r="1.1"/><circle cx="387.9" cy="356.7" r="2.1"/><circle cx="388.2" cy="353.7" r="1.6"/><circle cx="387.4" cy="351.5" r="2.3"/><circle cx="386.4" cy="349.4" r="1.3"/><circle cx="385.7" cy="345.7" r="1.3"/><circle cx="385.3" cy="344.1" r="1.5"/><circle cx="383.7" cy="341.1" r="1.4"/><circle cx="382.3" cy="340.0" r="1.1"/><circle cx="379.7" cy="337.7" r="2.1"/><circle cx="377.7" cy="336.2" r="2.3"/><circle cx="377.1" cy="335.8" r="1.8"/><circle cx="377.1" cy="333.1" r="1.5"/><circle cx="378.3" cy="332.0" r="1.2"/><circle cx="379.4" cy="329.3" r="1.7"/><circle cx="381.0" cy="327.3" r="1.6"/><circle cx="381.8" cy="326.1" r="2.4"/><circle cx="383.3" cy="324.6" r="1.3"/><circle cx="384.7" cy="322.7" r="1.6"/><circle cx="384.9" cy="321.1" r="1.9"/><circle cx="384.5" cy="319.4" r="2.2"/><circle cx="384.9" cy="317.5" r="2.2"/><circle cx="386.3" cy="315.7" r="1.6"/><circle cx="387.4" cy="313.0" r="1.3"/><circle cx="388.7" cy="311.0" r="1.7"/><circle cx="389.5" cy="309.7" r="1.1"/><circle cx="391.1" cy="308.4" r="2.0"/><circle cx="392.8" cy="306.8" r="2.3"/><circle cx="394.4" cy="304.3" r="1.5"/><circle cx="395.4" cy="302.0" r="2.0"/><circle cx="396.7" cy="300.5" r="1.6"/><circle cx="397.6" cy="299.9" r="1.4"/><circle cx="398.8" cy="297.5" r="2.3"/><circle cx="396.9" cy="296.0" r="1.1"/><circle cx="395.8" cy="294.5" r="1.6"/><circle cx="397.0" cy="293.0" r="1.5"/><circle cx="398.3" cy="292.8" r="1.2"/><circle cx="399.6" cy="293.0" r="1.6"/><circle cx="400.9" cy="294.0" r="2.0"/><circle cx="402.9" cy="294.9" r="2.0"/><circle cx="405.3" cy="294.6" r="1.0"/><circle cx="406.4" cy="294.3" r="1.5"/><circle cx="408.6" cy="293.3" r="1.9"/><circle cx="410.8" cy="293.5" r="1.9"/><circle cx="412.6" cy="293.4" r="1.5"/><circle cx="414.0" cy="295.1" r="2.2"/><circle cx="415.3" cy="295.5" r="1.4"/><circle cx="417.4" cy="296.7" r="1.6"/><circle cx="420.1" cy="296.6" r="1.7"/><circle cx="422.3" cy="295.7" r="1.8"/><circle cx="424.0" cy="295.7" r="2.1"/><circle cx="426.1" cy="293.9" r="1.3"/><circle cx="428.8" cy="293.4" r="1.8"/><circle cx="430.7" cy="292.1" r="1.8"/><circle cx="431.9" cy="291.9" r="2.3"/><circle cx="432.7" cy="292.5" r="1.2"/><circle cx="434.8" cy="294.8" r="2.3"/><circle cx="436.7" cy="296.2" r="1.9"/><circle cx="439.0" cy="296.6" r="2.3"/><circle cx="440.8" cy="296.4" r="1.1"/><circle cx="443.8" cy="294.3" r="2.2"/><circle cx="444.3" cy="292.7" r="1.5"/><circle cx="446.1" cy="289.8" r="1.0"/><circle cx="446.8" cy="288.1" r="1.9"/><circle cx="447.7" cy="287.0" r="1.2"/><circle cx="449.1" cy="285.8" r="1.0"/><circle cx="450.6" cy="284.9" r="1.9"/><circle cx="452.8" cy="284.6" r="1.1"/><circle cx="454.0" cy="283.8" r="1.7"/><circle cx="455.9" cy="282.5" r="1.8"/><circle cx="456.6" cy="281.7" r="1.7"/><circle cx="458.6" cy="279.5" r="1.1"/><circle cx="458.2" cy="278.1" r="1.1"/><circle cx="459.3" cy="275.4" r="1.2"/><circle cx="459.1" cy="274.5" r="1.8"/><circle cx="459.9" cy="271.9" r="2.0"/><circle cx="459.6" cy="269.9" r="2.0"/><circle cx="460.1" cy="268.9" r="1.3"/><circle cx="461.8" cy="266.7" r="1.0"/><circle cx="462.9" cy="265.4" r="1.5"/></g>
<g clip-path="url(#blob)"><rect x="370" y="260" width="150" height="221" fill="#8e8e8e" filter="url(#bump)"/>
<path d="M400.0,338.0 L415.0,340.0 L430.0,350.0 L448.0,362.0 L465.0,378.0 L476.0,395.0 L478.0,412.0 L472.0,428.0 L464.0,440.0 L455.0,440.0 L445.0,430.0 L435.0,420.0 L425.0,408.0 L420.0,395.0 L414.0,380.0 L405.0,365.0 L398.0,352.0 Z" fill="#f6eef2" opacity="0.55" filter="url(#soft)"/>
</g>
<polyline points="386.0,353.0 396.0,354.0 405.0,359.0 414.0,366.0 420.0,369.5" fill="none" stroke="#7fe0e4" stroke-opacity="0.35" stroke-width="6.3" stroke-linejoin="round" stroke-linecap="round"/>
<polyline points="401.0,343.0 407.0,351.0 412.0,359.0 418.0,367.5" fill="none" stroke="#7fe0e4" stroke-opacity="0.35" stroke-width="6.3" stroke-linejoin="round" stroke-linecap="round"/>
<polyline points="408.7,339.4 414.0,345.0 419.0,351.0 423.7,358.0" fill="none" stroke="#7fe0e4" stroke-opacity="0.35" stroke-width="5.9" stroke-linejoin="round" stroke-linecap="round"/>
<polyline points="420.0,369.5 428.0,374.0 436.8,378.7" fill="none" stroke="#7fe0e4" stroke-opacity="0.35" stroke-width="6.1" stroke-linejoin="round" stroke-linecap="round"/>
<polyline points="431.2,363.7 433.0,369.0 435.0,375.0" fill="none" stroke="#7fe0e4" stroke-opacity="0.35" stroke-width="5.7" stroke-linejoin="round" stroke-linecap="round"/>
<polyline points="435.0,376.8 443.0,381.0 451.8,386.2 456.0,391.0 461.2,397.4 465.0,403.0 468.7,408.7" fill="none" stroke="#7fe0e4" stroke-opacity="0.35" stroke-width="6.3" stroke-linejoin="round" stroke-linecap="round"/>
<polyline points="440.0,386.0 448.0,392.0 455.0,400.0 461.0,410.0 464.0,418.0" fill="none" stroke="#7fe0e4" stroke-opacity="0.35" stroke-width="5.7" stroke-linejoin="round" stroke-linecap="round"/>
<polyline points="468.7,408.7 467.0,418.0 462.0,426.0 457.0,430.0" fill="none" stroke="#7fe0e4" stroke-opacity="0.35" stroke-width="6.1" stroke-linejoin="round" stroke-linecap="round"/>
<polyline points="457.0,422.0 458.0,430.0" fill="none" stroke="#7fe0e4" stroke-opacity="0.35" stroke-width="5.7" stroke-linejoin="round" stroke-linecap="round"/>
<polyline points="438.0,421.0 448.0,423.5 458.0,425.0 467.0,427.0" fill="none" stroke="#7fe0e4" stroke-opacity="0.35" stroke-width="5.5" stroke-linejoin="round" stroke-linecap="round"/>
<polyline points="470.0,382.0 468.0,392.0 470.0,402.0" fill="none" stroke="#7fe0e4" stroke-opacity="0.35" stroke-width="5.1" stroke-linejoin="round" stroke-linecap="round"/>
<polyline points="392.0,362.0 400.0,366.0 407.0,372.0" fill="none" stroke="#7fe0e4" stroke-opacity="0.35" stroke-width="4.9" stroke-linejoin="round" stroke-linecap="round"/>
<polyline points="446.0,398.0 452.0,404.0 458.0,414.0 460.0,424.0" fill="none" stroke="#7fe0e4" stroke-opacity="0.35" stroke-width="5.5" stroke-linejoin="round" stroke-linecap="round"/>
<polyline points="428.0,382.0 436.0,388.0 444.0,396.0" fill="none" stroke="#7fe0e4" stroke-opacity="0.35" stroke-width="5.1" stroke-linejoin="round" stroke-linecap="round"/>
<polyline points="462.0,384.0 466.0,392.0 470.0,398.0 474.0,404.0" fill="none" stroke="#7fe0e4" stroke-opacity="0.35" stroke-width="5.3" stroke-linejoin="round" stroke-linecap="round"/>
<polyline points="386.0,353.0 396.0,354.0 405.0,359.0 414.0,366.0 420.0,369.5" fill="none" stroke="#22c6cc" stroke-width="3.2199999999999998" stroke-linejoin="round" stroke-linecap="round"/>
<polyline points="401.0,343.0 407.0,351.0 412.0,359.0 418.0,367.5" fill="none" stroke="#22c6cc" stroke-width="3.2199999999999998" stroke-linejoin="round" stroke-linecap="round"/>
<polyline points="408.7,339.4 414.0,345.0 419.0,351.0 423.7,358.0" fill="none" stroke="#1aa8ae" stroke-width="2.76" stroke-linejoin="round" stroke-linecap="round"/>
<polyline points="420.0,369.5 428.0,374.0 436.8,378.7" fill="none" stroke="#22c6cc" stroke-width="2.9899999999999998" stroke-linejoin="round" stroke-linecap="round"/>
<polyline points="431.2,363.7 433.0,369.0 435.0,375.0" fill="none" stroke="#22c6cc" stroke-width="2.53" stroke-linejoin="round" stroke-linecap="round"/>
<polyline points="435.0,376.8 443.0,381.0 451.8,386.2 456.0,391.0 461.2,397.4 465.0,403.0 468.7,408.7" fill="none" stroke="#22c6cc" stroke-width="3.2199999999999998" stroke-linejoin="round" stroke-linecap="round"/>
<polyline points="440.0,386.0 448.0,392.0 455.0,400.0 461.0,410.0 464.0,418.0" fill="none" stroke="#1aa8ae" stroke-width="2.53" stroke-linejoin="round" stroke-linecap="round"/>
<polyline points="448.0,384.3 453.0,387.0 457.4,391.8" fill="none" stroke="#f4ffff" stroke-width="2.9899999999999998" stroke-linejoin="round" stroke-linecap="round"/>
<polyline points="468.7,408.7 467.0,418.0 462.0,426.0 457.0,430.0" fill="none" stroke="#22c6cc" stroke-width="2.9899999999999998" stroke-linejoin="round" stroke-linecap="round"/>
<polyline points="457.0,422.0 458.0,430.0" fill="none" stroke="#1aa8ae" stroke-width="2.53" stroke-linejoin="round" stroke-linecap="round"/>
<polyline points="438.0,421.0 448.0,423.5 458.0,425.0 467.0,427.0" fill="none" stroke="#22c6cc" stroke-width="2.3" stroke-linejoin="round" stroke-linecap="round"/>
<polyline points="470.0,382.0 468.0,392.0 470.0,402.0" fill="none" stroke="#1aa8ae" stroke-width="1.8399999999999999" stroke-linejoin="round" stroke-linecap="round"/>
<polyline points="392.0,362.0 400.0,366.0 407.0,372.0" fill="none" stroke="#1aa8ae" stroke-width="1.6099999999999999" stroke-linejoin="round" stroke-linecap="round"/>
<polyline points="446.0,398.0 452.0,404.0 458.0,414.0 460.0,424.0" fill="none" stroke="#22c6cc" stroke-width="2.3" stroke-linejoin="round" stroke-linecap="round"/>
<polyline points="428.0,382.0 436.0,388.0 444.0,396.0" fill="none" stroke="#1aa8ae" stroke-width="1.8399999999999999" stroke-linejoin="round" stroke-linecap="round"/>
<polyline points="462.0,384.0 466.0,392.0 470.0,398.0 474.0,404.0" fill="none" stroke="#22c6cc" stroke-width="2.07" stroke-linejoin="round" stroke-linecap="round"/>
<path d="M447.5,433.0 L452.0,429.5 L458.0,427.5 L460.5,436.0 L460.0,448.0 L459.5,460.0 L456.0,467.5 L452.5,468.0 L450.0,460.0 L448.5,448.0 Z" fill="#22c6cc" stroke="#1aa8ae" stroke-width="0.8"/>
<line x1="448.5" y1="436.0" x2="459.5" y2="432.5" stroke="#dffcfc" stroke-width="0.9"/>
<line x1="448.5" y1="440.0" x2="459.5" y2="436.5" stroke="#dffcfc" stroke-width="0.9"/>
<line x1="448.5" y1="444.0" x2="459.5" y2="440.5" stroke="#dffcfc" stroke-width="0.9"/>
<line x1="448.5" y1="448.0" x2="459.5" y2="444.5" stroke="#dffcfc" stroke-width="0.9"/>
<line x1="448.5" y1="452.0" x2="459.5" y2="448.5" stroke="#dffcfc" stroke-width="0.9"/>
<line x1="448.5" y1="456.0" x2="459.5" y2="452.5" stroke="#dffcfc" stroke-width="0.9"/>
<line x1="448.5" y1="460.0" x2="459.5" y2="456.5" stroke="#dffcfc" stroke-width="0.9"/>
<line x1="448.5" y1="464.0" x2="459.5" y2="460.5" stroke="#dffcfc" stroke-width="0.9"/>
<line x1="448.5" y1="468.0" x2="459.5" y2="464.5" stroke="#dffcfc" stroke-width="0.9"/>
<polyline points="453.0,431.0 453.5,445.0 454.5,458.0 455.0,467.0" fill="none" stroke="#1aa8ae" stroke-width="1.0"/>
<path d="M343.0,353.0 L348.0,350.0 L357.0,350.0 L366.0,352.0 L374.0,355.0 L382.0,357.0 L386.0,360.0 L383.0,363.5 L374.0,364.0 L364.0,362.5 L356.0,363.0 L348.0,361.0 L343.0,358.0 Z" fill="#f4fbfb" stroke="#1aa8ae" stroke-width="0.8"/>
<polyline points="350.0,356.0 358.0,355.0 366.0,357.0 374.0,359.0 382.0,360.0" fill="none" stroke="#1aa8ae" stroke-width="0.7"/>
<polyline points="356.0,359.0 364.0,360.0 372.0,361.0" fill="none" stroke="#1aa8ae" stroke-width="0.6"/>
<path d="M351,346 C353,342.5 360,342.5 364,344 C368,342.8 374,343.2 379,346.5" fill="none" stroke="#1aa8ae" stroke-width="0.8"/>
<polyline points="351.0,345.5 358.0,346.5 366.0,347.5 374.0,349.0 382.0,350.5 388.0,353.0" fill="none" stroke="#179aa0" stroke-width="2.6" stroke-linecap="round"/>
<polyline points="354.0,348.5 362.0,349.5 370.0,351.0 378.0,352.5 386.0,355.0" fill="none" stroke="#22c6cc" stroke-width="1.3"/>
<ellipse cx="486.8" cy="295.8" rx="3.0" ry="5.0" fill="#c8101a"/>
<ellipse cx="410.7" cy="333.6" rx="3.6" ry="4.2" fill="#c8101a"/>
<ellipse cx="456.9" cy="357.0" rx="3.5" ry="4.6" fill="#c8101a"/>
<ellipse cx="441.5" cy="393.8" rx="2.8" ry="4.0" fill="#c8101a"/>
<ellipse cx="432.0" cy="404.0" rx="3.8" ry="2.7" fill="#c8101a"/>
<ellipse cx="451.0" cy="433.0" rx="3.8" ry="2.4" fill="#c8101a"/>
<ellipse cx="462.5" cy="444.6" rx="3.6" ry="2.8" fill="#c8101a"/>
<ellipse cx="476.5" cy="442.0" rx="4.2" ry="4.0" fill="#c8101a"/>
<ellipse cx="480.5" cy="446.5" rx="4.0" ry="4.5" fill="#c8101a"/>
<ellipse cx="474.5" cy="448.5" rx="3.0" ry="3.0" fill="#c8101a"/>
<ellipse cx="482.0" cy="440.0" rx="2.5" ry="2.5" fill="#c8101a"/>
<ellipse cx="510.2" cy="447.5" rx="3.3" ry="4.4" fill="#c8101a"/>
<ellipse cx="485.4" cy="461.8" rx="2.7" ry="2.5" fill="#c8101a"/>
<path d="M413.8,382.6 L423.5,385.6 L433.6,382.4 L433.2,388.8 L423.5,386.4 L414.2,389.0 Z" fill="#c8101a" stroke="#c8101a" stroke-width="1.2" stroke-linejoin="round"/>
<ellipse cx="418.5" cy="411.2" rx="3" ry="2.9" fill="#22bb22"/>
<text x="355.0" y="277.9" font-size="11">E</text>
<text x="351.3" y="332.4" font-size="11.6" font-weight="bold" fill="#1fd6de" stroke="#1fd6de" stroke-width="0.35">MCP</text>
<text x="356.3" y="371.2" font-size="5.9" font-weight="bold" fill="#22d3dc" stroke="#22d3dc" stroke-width="0.25">CCP1</text>
<text x="422.2" y="358.0" font-size="6.3" font-weight="bold" fill="#22d3dc" stroke="#22d3dc" stroke-width="0.25">CCP2</text>
<text x="465.0" y="391.5" font-size="6.1" font-weight="bold" fill="#22d3dc" stroke="#22d3dc" stroke-width="0.25">CCP3</text>
<text x="427.3" y="431.0" font-size="6.4" font-weight="bold" fill="#22d3dc" stroke="#22d3dc" stroke-width="0.25">CCP4</text>
<text x="377.2" y="465.7" font-size="10.6" font-weight="bold" fill="#727272" stroke="#727272" stroke-width="0.3">C3b</text>
</svg>
</body></html>
